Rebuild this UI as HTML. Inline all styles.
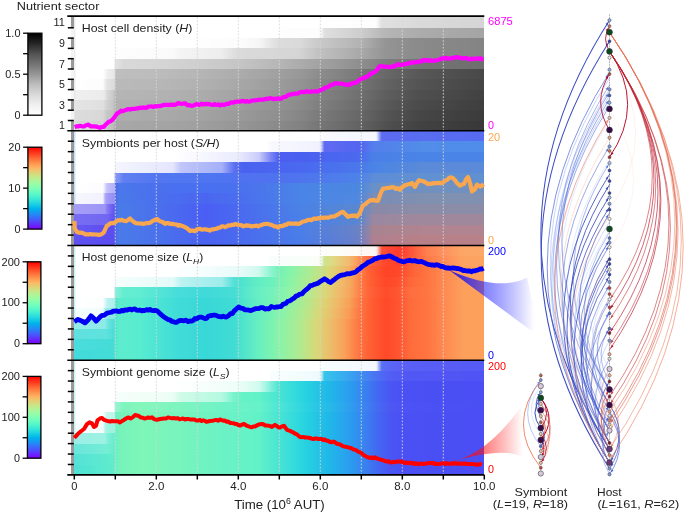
<!DOCTYPE html>
<html><head><meta charset="utf-8"><style>
html,body{margin:0;padding:0;background:#fff;}
svg{display:block;will-change:transform;font-family:"Liberation Sans", sans-serif;}
</style></head><body>
<svg width="685" height="512" viewBox="0 0 685 512">
<defs><linearGradient id="g1" x1="0" x2="1" y1="0" y2="0"><stop offset="0.0000" stop-color="#d7d7d7"/><stop offset="0.0100" stop-color="#d7d7d7"/><stop offset="0.0200" stop-color="#d6d6d6"/><stop offset="0.0300" stop-color="#d5d5d5"/><stop offset="0.0400" stop-color="#d5d5d5"/><stop offset="0.0500" stop-color="#d4d4d4"/><stop offset="0.0600" stop-color="#d3d3d3"/><stop offset="0.0700" stop-color="#d3d3d3"/><stop offset="0.0750" stop-color="#cbcbcb"/><stop offset="0.0800" stop-color="#c4c4c4"/><stop offset="0.0850" stop-color="#c2c2c2"/><stop offset="0.0900" stop-color="#c0c0c0"/><stop offset="0.0950" stop-color="#bebebe"/><stop offset="0.0970" stop-color="#b5b5b5"/><stop offset="0.0980" stop-color="#b1b1b1"/><stop offset="0.0990" stop-color="#acacac"/><stop offset="0.1000" stop-color="#a8a8a8"/><stop offset="0.1100" stop-color="#a8a8a8"/><stop offset="0.1200" stop-color="#a7a7a7"/><stop offset="0.1400" stop-color="#a7a7a7"/><stop offset="0.1500" stop-color="#a6a6a6"/><stop offset="0.1800" stop-color="#a6a6a6"/><stop offset="0.1900" stop-color="#a5a5a5"/><stop offset="0.2000" stop-color="#a5a5a5"/><stop offset="0.2100" stop-color="#a4a4a4"/><stop offset="0.2300" stop-color="#a4a4a4"/><stop offset="0.2400" stop-color="#a3a3a3"/><stop offset="0.2500" stop-color="#a2a2a2"/><stop offset="0.2700" stop-color="#a2a2a2"/><stop offset="0.2800" stop-color="#a1a1a1"/><stop offset="0.2900" stop-color="#a0a0a0"/><stop offset="0.3000" stop-color="#a0a0a0"/><stop offset="0.3100" stop-color="#9f9f9f"/><stop offset="0.3200" stop-color="#9e9e9e"/><stop offset="0.3300" stop-color="#9d9d9d"/><stop offset="0.3350" stop-color="#9c9c9c"/><stop offset="0.3450" stop-color="#9c9c9c"/><stop offset="0.3500" stop-color="#9b9b9b"/><stop offset="0.3550" stop-color="#9a9a9a"/><stop offset="0.3600" stop-color="#9a9a9a"/><stop offset="0.3700" stop-color="#999999"/><stop offset="0.3800" stop-color="#989898"/><stop offset="0.3900" stop-color="#979797"/><stop offset="0.4000" stop-color="#969696"/><stop offset="0.4100" stop-color="#959595"/><stop offset="0.4200" stop-color="#949494"/><stop offset="0.4300" stop-color="#929292"/><stop offset="0.4400" stop-color="#919191"/><stop offset="0.4500" stop-color="#909090"/><stop offset="0.4600" stop-color="#8f8f8f"/><stop offset="0.4700" stop-color="#8e8e8e"/><stop offset="0.4750" stop-color="#8d8d8d"/><stop offset="0.4790" stop-color="#8d8d8d"/><stop offset="0.4800" stop-color="#8c8c8c"/><stop offset="0.4810" stop-color="#8c8c8c"/><stop offset="0.4900" stop-color="#8b8b8b"/><stop offset="0.5000" stop-color="#8a8a8a"/><stop offset="0.5100" stop-color="#888888"/><stop offset="0.5200" stop-color="#878787"/><stop offset="0.5300" stop-color="#858585"/><stop offset="0.5400" stop-color="#848484"/><stop offset="0.5500" stop-color="#828282"/><stop offset="0.5600" stop-color="#808080"/><stop offset="0.5700" stop-color="#7d7d7d"/><stop offset="0.5800" stop-color="#7b7b7b"/><stop offset="0.5900" stop-color="#787878"/><stop offset="0.6000" stop-color="#767676"/><stop offset="0.6050" stop-color="#757575"/><stop offset="0.6090" stop-color="#747474"/><stop offset="0.6110" stop-color="#747474"/><stop offset="0.6200" stop-color="#727272"/><stop offset="0.6300" stop-color="#707070"/><stop offset="0.6400" stop-color="#6e6e6e"/><stop offset="0.6500" stop-color="#6c6c6c"/><stop offset="0.6600" stop-color="#6a6a6a"/><stop offset="0.6700" stop-color="#686868"/><stop offset="0.6800" stop-color="#666666"/><stop offset="0.6900" stop-color="#646464"/><stop offset="0.7000" stop-color="#626262"/><stop offset="0.7100" stop-color="#5f5f5f"/><stop offset="0.7200" stop-color="#5c5c5c"/><stop offset="0.7300" stop-color="#595959"/><stop offset="0.7350" stop-color="#585858"/><stop offset="0.7390" stop-color="#565656"/><stop offset="0.7410" stop-color="#565656"/><stop offset="0.7500" stop-color="#535353"/><stop offset="0.7600" stop-color="#505050"/><stop offset="0.7700" stop-color="#4e4e4e"/><stop offset="0.7800" stop-color="#4c4c4c"/><stop offset="0.7900" stop-color="#4b4b4b"/><stop offset="0.8000" stop-color="#494949"/><stop offset="0.8100" stop-color="#474747"/><stop offset="0.8200" stop-color="#454545"/><stop offset="0.8300" stop-color="#444444"/><stop offset="0.8400" stop-color="#424242"/><stop offset="0.8500" stop-color="#414141"/><stop offset="0.8600" stop-color="#414141"/><stop offset="0.8700" stop-color="#404040"/><stop offset="0.8800" stop-color="#404040"/><stop offset="0.8900" stop-color="#3f3f3f"/><stop offset="0.9000" stop-color="#3e3e3e"/><stop offset="0.9100" stop-color="#3e3e3e"/><stop offset="0.9200" stop-color="#3d3d3d"/><stop offset="0.9300" stop-color="#3c3c3c"/><stop offset="0.9400" stop-color="#3c3c3c"/><stop offset="0.9500" stop-color="#3b3b3b"/><stop offset="0.9600" stop-color="#3a3a3a"/><stop offset="0.9700" stop-color="#3a3a3a"/><stop offset="0.9800" stop-color="#393939"/><stop offset="0.9900" stop-color="#393939"/><stop offset="1.0000" stop-color="#383838"/></linearGradient>
<linearGradient id="g2" x1="0" x2="1" y1="0" y2="0"><stop offset="0.0000" stop-color="#dddddd"/><stop offset="0.0100" stop-color="#dcdcdc"/><stop offset="0.0200" stop-color="#dbdbdb"/><stop offset="0.0300" stop-color="#dadada"/><stop offset="0.0400" stop-color="#dadada"/><stop offset="0.0500" stop-color="#d9d9d9"/><stop offset="0.0600" stop-color="#d8d8d8"/><stop offset="0.0700" stop-color="#d7d7d7"/><stop offset="0.0700" stop-color="#d7d7d7"/><stop offset="0.0750" stop-color="#cfcfcf"/><stop offset="0.0800" stop-color="#c6c6c6"/><stop offset="0.0850" stop-color="#c5c5c5"/><stop offset="0.0900" stop-color="#c3c3c3"/><stop offset="0.0950" stop-color="#c1c1c1"/><stop offset="0.0970" stop-color="#b9b9b9"/><stop offset="0.0980" stop-color="#b5b5b5"/><stop offset="0.0990" stop-color="#b0b0b0"/><stop offset="0.1000" stop-color="#acacac"/><stop offset="0.1300" stop-color="#acacac"/><stop offset="0.1400" stop-color="#ababab"/><stop offset="0.1600" stop-color="#ababab"/><stop offset="0.1700" stop-color="#aaaaaa"/><stop offset="0.2000" stop-color="#aaaaaa"/><stop offset="0.2100" stop-color="#a9a9a9"/><stop offset="0.2200" stop-color="#a9a9a9"/><stop offset="0.2300" stop-color="#a8a8a8"/><stop offset="0.2400" stop-color="#a8a8a8"/><stop offset="0.2500" stop-color="#a7a7a7"/><stop offset="0.2600" stop-color="#a6a6a6"/><stop offset="0.2700" stop-color="#a6a6a6"/><stop offset="0.2800" stop-color="#a5a5a5"/><stop offset="0.2900" stop-color="#a5a5a5"/><stop offset="0.3000" stop-color="#a4a4a4"/><stop offset="0.3100" stop-color="#a3a3a3"/><stop offset="0.3200" stop-color="#a2a2a2"/><stop offset="0.3300" stop-color="#a1a1a1"/><stop offset="0.3350" stop-color="#a1a1a1"/><stop offset="0.3400" stop-color="#a0a0a0"/><stop offset="0.3450" stop-color="#a0a0a0"/><stop offset="0.3500" stop-color="#9f9f9f"/><stop offset="0.3550" stop-color="#9f9f9f"/><stop offset="0.3600" stop-color="#9e9e9e"/><stop offset="0.3700" stop-color="#9d9d9d"/><stop offset="0.3800" stop-color="#9c9c9c"/><stop offset="0.3900" stop-color="#9b9b9b"/><stop offset="0.4000" stop-color="#9a9a9a"/><stop offset="0.4100" stop-color="#999999"/><stop offset="0.4200" stop-color="#989898"/><stop offset="0.4300" stop-color="#979797"/><stop offset="0.4400" stop-color="#969696"/><stop offset="0.4500" stop-color="#949494"/><stop offset="0.4600" stop-color="#939393"/><stop offset="0.4700" stop-color="#929292"/><stop offset="0.4750" stop-color="#919191"/><stop offset="0.4810" stop-color="#919191"/><stop offset="0.4900" stop-color="#909090"/><stop offset="0.5000" stop-color="#8e8e8e"/><stop offset="0.5100" stop-color="#8d8d8d"/><stop offset="0.5200" stop-color="#8b8b8b"/><stop offset="0.5300" stop-color="#8a8a8a"/><stop offset="0.5400" stop-color="#888888"/><stop offset="0.5500" stop-color="#868686"/><stop offset="0.5600" stop-color="#848484"/><stop offset="0.5700" stop-color="#828282"/><stop offset="0.5800" stop-color="#7f7f7f"/><stop offset="0.5900" stop-color="#7d7d7d"/><stop offset="0.6000" stop-color="#7a7a7a"/><stop offset="0.6050" stop-color="#797979"/><stop offset="0.6090" stop-color="#797979"/><stop offset="0.6100" stop-color="#787878"/><stop offset="0.6110" stop-color="#787878"/><stop offset="0.6200" stop-color="#767676"/><stop offset="0.6300" stop-color="#747474"/><stop offset="0.6400" stop-color="#727272"/><stop offset="0.6500" stop-color="#707070"/><stop offset="0.6600" stop-color="#6e6e6e"/><stop offset="0.6700" stop-color="#6c6c6c"/><stop offset="0.6800" stop-color="#6a6a6a"/><stop offset="0.6900" stop-color="#686868"/><stop offset="0.7000" stop-color="#666666"/><stop offset="0.7100" stop-color="#636363"/><stop offset="0.7200" stop-color="#616161"/><stop offset="0.7300" stop-color="#5e5e5e"/><stop offset="0.7350" stop-color="#5c5c5c"/><stop offset="0.7390" stop-color="#5b5b5b"/><stop offset="0.7400" stop-color="#5b5b5b"/><stop offset="0.7410" stop-color="#5a5a5a"/><stop offset="0.7500" stop-color="#585858"/><stop offset="0.7600" stop-color="#555555"/><stop offset="0.7700" stop-color="#535353"/><stop offset="0.7800" stop-color="#515151"/><stop offset="0.7900" stop-color="#4f4f4f"/><stop offset="0.8000" stop-color="#4e4e4e"/><stop offset="0.8100" stop-color="#4c4c4c"/><stop offset="0.8200" stop-color="#4a4a4a"/><stop offset="0.8300" stop-color="#484848"/><stop offset="0.8400" stop-color="#464646"/><stop offset="0.8500" stop-color="#464646"/><stop offset="0.8600" stop-color="#454545"/><stop offset="0.8700" stop-color="#444444"/><stop offset="0.8800" stop-color="#444444"/><stop offset="0.8900" stop-color="#434343"/><stop offset="0.9000" stop-color="#424242"/><stop offset="0.9100" stop-color="#424242"/><stop offset="0.9200" stop-color="#414141"/><stop offset="0.9300" stop-color="#404040"/><stop offset="0.9400" stop-color="#3f3f3f"/><stop offset="0.9500" stop-color="#3f3f3f"/><stop offset="0.9600" stop-color="#3e3e3e"/><stop offset="0.9700" stop-color="#3d3d3d"/><stop offset="0.9800" stop-color="#3d3d3d"/><stop offset="0.9900" stop-color="#3c3c3c"/><stop offset="1.0000" stop-color="#3b3b3b"/></linearGradient>
<linearGradient id="g3" x1="0" x2="1" y1="0" y2="0"><stop offset="0.0000" stop-color="#e4e4e4"/><stop offset="0.0100" stop-color="#e4e4e4"/><stop offset="0.0200" stop-color="#e3e3e3"/><stop offset="0.0300" stop-color="#e2e2e2"/><stop offset="0.0400" stop-color="#e2e2e2"/><stop offset="0.0500" stop-color="#e1e1e1"/><stop offset="0.0600" stop-color="#e0e0e0"/><stop offset="0.0700" stop-color="#e0e0e0"/><stop offset="0.0750" stop-color="#d8d8d8"/><stop offset="0.0800" stop-color="#d0d0d0"/><stop offset="0.0850" stop-color="#cdcdcd"/><stop offset="0.0900" stop-color="#c9c9c9"/><stop offset="0.0950" stop-color="#c5c5c5"/><stop offset="0.0970" stop-color="#bdbdbd"/><stop offset="0.0980" stop-color="#b9b9b9"/><stop offset="0.0990" stop-color="#b5b5b5"/><stop offset="0.1000" stop-color="#b1b1b1"/><stop offset="0.1100" stop-color="#b1b1b1"/><stop offset="0.1200" stop-color="#b0b0b0"/><stop offset="0.1500" stop-color="#b0b0b0"/><stop offset="0.1600" stop-color="#afafaf"/><stop offset="0.1800" stop-color="#afafaf"/><stop offset="0.1900" stop-color="#aeaeae"/><stop offset="0.2100" stop-color="#aeaeae"/><stop offset="0.2200" stop-color="#adadad"/><stop offset="0.2300" stop-color="#adadad"/><stop offset="0.2400" stop-color="#acacac"/><stop offset="0.2500" stop-color="#acacac"/><stop offset="0.2600" stop-color="#ababab"/><stop offset="0.2700" stop-color="#aaaaaa"/><stop offset="0.2800" stop-color="#aaaaaa"/><stop offset="0.2900" stop-color="#a9a9a9"/><stop offset="0.3000" stop-color="#a9a9a9"/><stop offset="0.3100" stop-color="#a8a8a8"/><stop offset="0.3200" stop-color="#a7a7a7"/><stop offset="0.3300" stop-color="#a6a6a6"/><stop offset="0.3350" stop-color="#a5a5a5"/><stop offset="0.3400" stop-color="#a5a5a5"/><stop offset="0.3450" stop-color="#a4a4a4"/><stop offset="0.3500" stop-color="#a4a4a4"/><stop offset="0.3550" stop-color="#a3a3a3"/><stop offset="0.3600" stop-color="#a3a3a3"/><stop offset="0.3700" stop-color="#a2a2a2"/><stop offset="0.3800" stop-color="#a1a1a1"/><stop offset="0.3900" stop-color="#a0a0a0"/><stop offset="0.4000" stop-color="#9f9f9f"/><stop offset="0.4100" stop-color="#9e9e9e"/><stop offset="0.4200" stop-color="#9c9c9c"/><stop offset="0.4300" stop-color="#9b9b9b"/><stop offset="0.4400" stop-color="#9a9a9a"/><stop offset="0.4500" stop-color="#999999"/><stop offset="0.4600" stop-color="#989898"/><stop offset="0.4700" stop-color="#969696"/><stop offset="0.4750" stop-color="#969696"/><stop offset="0.4790" stop-color="#959595"/><stop offset="0.4810" stop-color="#959595"/><stop offset="0.4900" stop-color="#949494"/><stop offset="0.5000" stop-color="#939393"/><stop offset="0.5100" stop-color="#919191"/><stop offset="0.5200" stop-color="#909090"/><stop offset="0.5300" stop-color="#8e8e8e"/><stop offset="0.5400" stop-color="#8c8c8c"/><stop offset="0.5500" stop-color="#8b8b8b"/><stop offset="0.5600" stop-color="#888888"/><stop offset="0.5700" stop-color="#868686"/><stop offset="0.5800" stop-color="#848484"/><stop offset="0.5900" stop-color="#818181"/><stop offset="0.6000" stop-color="#7f7f7f"/><stop offset="0.6050" stop-color="#7e7e7e"/><stop offset="0.6090" stop-color="#7d7d7d"/><stop offset="0.6110" stop-color="#7d7d7d"/><stop offset="0.6200" stop-color="#7b7b7b"/><stop offset="0.6300" stop-color="#797979"/><stop offset="0.6400" stop-color="#777777"/><stop offset="0.6500" stop-color="#757575"/><stop offset="0.6600" stop-color="#737373"/><stop offset="0.6700" stop-color="#717171"/><stop offset="0.6800" stop-color="#6f6f6f"/><stop offset="0.6900" stop-color="#6d6d6d"/><stop offset="0.7000" stop-color="#6b6b6b"/><stop offset="0.7100" stop-color="#686868"/><stop offset="0.7200" stop-color="#656565"/><stop offset="0.7300" stop-color="#626262"/><stop offset="0.7350" stop-color="#616161"/><stop offset="0.7390" stop-color="#606060"/><stop offset="0.7400" stop-color="#5f5f5f"/><stop offset="0.7410" stop-color="#5f5f5f"/><stop offset="0.7500" stop-color="#5c5c5c"/><stop offset="0.7600" stop-color="#5a5a5a"/><stop offset="0.7700" stop-color="#585858"/><stop offset="0.7800" stop-color="#565656"/><stop offset="0.7900" stop-color="#545454"/><stop offset="0.8000" stop-color="#525252"/><stop offset="0.8100" stop-color="#505050"/><stop offset="0.8200" stop-color="#4e4e4e"/><stop offset="0.8300" stop-color="#4d4d4d"/><stop offset="0.8400" stop-color="#4b4b4b"/><stop offset="0.8500" stop-color="#4a4a4a"/><stop offset="0.8600" stop-color="#494949"/><stop offset="0.8700" stop-color="#484848"/><stop offset="0.8800" stop-color="#484848"/><stop offset="0.8900" stop-color="#474747"/><stop offset="0.9000" stop-color="#464646"/><stop offset="0.9100" stop-color="#454545"/><stop offset="0.9200" stop-color="#454545"/><stop offset="0.9300" stop-color="#444444"/><stop offset="0.9400" stop-color="#434343"/><stop offset="0.9500" stop-color="#424242"/><stop offset="0.9600" stop-color="#414141"/><stop offset="0.9700" stop-color="#414141"/><stop offset="0.9800" stop-color="#404040"/><stop offset="0.9900" stop-color="#3f3f3f"/><stop offset="1.0000" stop-color="#3e3e3e"/></linearGradient>
<linearGradient id="g4" x1="0" x2="1" y1="0" y2="0"><stop offset="0.0000" stop-color="#efefef"/><stop offset="0.0100" stop-color="#efefef"/><stop offset="0.0200" stop-color="#eeeeee"/><stop offset="0.0300" stop-color="#eeeeee"/><stop offset="0.0400" stop-color="#ededed"/><stop offset="0.0500" stop-color="#ededed"/><stop offset="0.0600" stop-color="#ececec"/><stop offset="0.0700" stop-color="#ebebeb"/><stop offset="0.0700" stop-color="#ebebeb"/><stop offset="0.0750" stop-color="#e6e6e6"/><stop offset="0.0800" stop-color="#d8d8d8"/><stop offset="0.0850" stop-color="#d3d3d3"/><stop offset="0.0900" stop-color="#cecece"/><stop offset="0.0950" stop-color="#c9c9c9"/><stop offset="0.0970" stop-color="#c1c1c1"/><stop offset="0.0980" stop-color="#bdbdbd"/><stop offset="0.0990" stop-color="#b9b9b9"/><stop offset="0.1000" stop-color="#b5b5b5"/><stop offset="0.1200" stop-color="#b5b5b5"/><stop offset="0.1300" stop-color="#b4b4b4"/><stop offset="0.1700" stop-color="#b4b4b4"/><stop offset="0.1800" stop-color="#b3b3b3"/><stop offset="0.2000" stop-color="#b3b3b3"/><stop offset="0.2100" stop-color="#b2b2b2"/><stop offset="0.2200" stop-color="#b2b2b2"/><stop offset="0.2300" stop-color="#b1b1b1"/><stop offset="0.2400" stop-color="#b1b1b1"/><stop offset="0.2500" stop-color="#b0b0b0"/><stop offset="0.2600" stop-color="#afafaf"/><stop offset="0.2700" stop-color="#afafaf"/><stop offset="0.2800" stop-color="#aeaeae"/><stop offset="0.2900" stop-color="#aeaeae"/><stop offset="0.3000" stop-color="#adadad"/><stop offset="0.3100" stop-color="#acacac"/><stop offset="0.3200" stop-color="#ababab"/><stop offset="0.3300" stop-color="#aaaaaa"/><stop offset="0.3350" stop-color="#aaaaaa"/><stop offset="0.3400" stop-color="#a9a9a9"/><stop offset="0.3450" stop-color="#a9a9a9"/><stop offset="0.3500" stop-color="#a8a8a8"/><stop offset="0.3550" stop-color="#a8a8a8"/><stop offset="0.3600" stop-color="#a7a7a7"/><stop offset="0.3700" stop-color="#a6a6a6"/><stop offset="0.3800" stop-color="#a5a5a5"/><stop offset="0.3900" stop-color="#a4a4a4"/><stop offset="0.4000" stop-color="#a3a3a3"/><stop offset="0.4100" stop-color="#a2a2a2"/><stop offset="0.4200" stop-color="#a1a1a1"/><stop offset="0.4300" stop-color="#a0a0a0"/><stop offset="0.4400" stop-color="#9e9e9e"/><stop offset="0.4500" stop-color="#9d9d9d"/><stop offset="0.4600" stop-color="#9c9c9c"/><stop offset="0.4700" stop-color="#9b9b9b"/><stop offset="0.4750" stop-color="#9a9a9a"/><stop offset="0.4800" stop-color="#9a9a9a"/><stop offset="0.4810" stop-color="#999999"/><stop offset="0.4900" stop-color="#989898"/><stop offset="0.5000" stop-color="#979797"/><stop offset="0.5100" stop-color="#969696"/><stop offset="0.5200" stop-color="#949494"/><stop offset="0.5300" stop-color="#929292"/><stop offset="0.5400" stop-color="#919191"/><stop offset="0.5500" stop-color="#8f8f8f"/><stop offset="0.5600" stop-color="#8d8d8d"/><stop offset="0.5700" stop-color="#8a8a8a"/><stop offset="0.5800" stop-color="#888888"/><stop offset="0.5900" stop-color="#868686"/><stop offset="0.6000" stop-color="#838383"/><stop offset="0.6050" stop-color="#828282"/><stop offset="0.6090" stop-color="#818181"/><stop offset="0.6110" stop-color="#818181"/><stop offset="0.6200" stop-color="#7f7f7f"/><stop offset="0.6300" stop-color="#7d7d7d"/><stop offset="0.6400" stop-color="#7b7b7b"/><stop offset="0.6500" stop-color="#797979"/><stop offset="0.6600" stop-color="#777777"/><stop offset="0.6700" stop-color="#757575"/><stop offset="0.6800" stop-color="#737373"/><stop offset="0.6900" stop-color="#717171"/><stop offset="0.7000" stop-color="#6f6f6f"/><stop offset="0.7100" stop-color="#6c6c6c"/><stop offset="0.7200" stop-color="#6a6a6a"/><stop offset="0.7300" stop-color="#676767"/><stop offset="0.7350" stop-color="#656565"/><stop offset="0.7390" stop-color="#646464"/><stop offset="0.7410" stop-color="#646464"/><stop offset="0.7500" stop-color="#616161"/><stop offset="0.7600" stop-color="#5e5e5e"/><stop offset="0.7700" stop-color="#5c5c5c"/><stop offset="0.7800" stop-color="#5b5b5b"/><stop offset="0.7900" stop-color="#595959"/><stop offset="0.8000" stop-color="#575757"/><stop offset="0.8100" stop-color="#555555"/><stop offset="0.8200" stop-color="#535353"/><stop offset="0.8300" stop-color="#515151"/><stop offset="0.8400" stop-color="#4f4f4f"/><stop offset="0.8500" stop-color="#4e4e4e"/><stop offset="0.8600" stop-color="#4e4e4e"/><stop offset="0.8700" stop-color="#4d4d4d"/><stop offset="0.8800" stop-color="#4c4c4c"/><stop offset="0.8900" stop-color="#4b4b4b"/><stop offset="0.9000" stop-color="#4a4a4a"/><stop offset="0.9100" stop-color="#494949"/><stop offset="0.9200" stop-color="#484848"/><stop offset="0.9300" stop-color="#484848"/><stop offset="0.9400" stop-color="#474747"/><stop offset="0.9500" stop-color="#464646"/><stop offset="0.9600" stop-color="#454545"/><stop offset="0.9700" stop-color="#444444"/><stop offset="0.9800" stop-color="#434343"/><stop offset="0.9900" stop-color="#424242"/><stop offset="1.0000" stop-color="#424242"/></linearGradient>
<linearGradient id="g5" x1="0" x2="1" y1="0" y2="0"><stop offset="0.0000" stop-color="#fefefe"/><stop offset="0.0200" stop-color="#fefefe"/><stop offset="0.0300" stop-color="#fdfdfd"/><stop offset="0.0700" stop-color="#fdfdfd"/><stop offset="0.0750" stop-color="#ededed"/><stop offset="0.0800" stop-color="#e3e3e3"/><stop offset="0.0850" stop-color="#e0e0e0"/><stop offset="0.0900" stop-color="#dedede"/><stop offset="0.0950" stop-color="#dcdcdc"/><stop offset="0.0970" stop-color="#d8d8d8"/><stop offset="0.0980" stop-color="#d6d6d6"/><stop offset="0.0990" stop-color="#c8c8c8"/><stop offset="0.1000" stop-color="#bababa"/><stop offset="0.1020" stop-color="#bababa"/><stop offset="0.1100" stop-color="#b9b9b9"/><stop offset="0.1400" stop-color="#b9b9b9"/><stop offset="0.1500" stop-color="#b8b8b8"/><stop offset="0.1900" stop-color="#b8b8b8"/><stop offset="0.2000" stop-color="#b7b7b7"/><stop offset="0.2100" stop-color="#b7b7b7"/><stop offset="0.2200" stop-color="#b6b6b6"/><stop offset="0.2300" stop-color="#b6b6b6"/><stop offset="0.2400" stop-color="#b5b5b5"/><stop offset="0.2500" stop-color="#b4b4b4"/><stop offset="0.2600" stop-color="#b4b4b4"/><stop offset="0.2700" stop-color="#b3b3b3"/><stop offset="0.2800" stop-color="#b3b3b3"/><stop offset="0.2900" stop-color="#b2b2b2"/><stop offset="0.3000" stop-color="#b2b2b2"/><stop offset="0.3100" stop-color="#b1b1b1"/><stop offset="0.3200" stop-color="#b0b0b0"/><stop offset="0.3300" stop-color="#afafaf"/><stop offset="0.3350" stop-color="#aeaeae"/><stop offset="0.3400" stop-color="#aeaeae"/><stop offset="0.3450" stop-color="#adadad"/><stop offset="0.3500" stop-color="#adadad"/><stop offset="0.3550" stop-color="#acacac"/><stop offset="0.3600" stop-color="#acacac"/><stop offset="0.3700" stop-color="#ababab"/><stop offset="0.3800" stop-color="#aaaaaa"/><stop offset="0.3900" stop-color="#a9a9a9"/><stop offset="0.4000" stop-color="#a8a8a8"/><stop offset="0.4100" stop-color="#a6a6a6"/><stop offset="0.4200" stop-color="#a5a5a5"/><stop offset="0.4300" stop-color="#a4a4a4"/><stop offset="0.4400" stop-color="#a3a3a3"/><stop offset="0.4500" stop-color="#a2a2a2"/><stop offset="0.4600" stop-color="#a0a0a0"/><stop offset="0.4700" stop-color="#9f9f9f"/><stop offset="0.4750" stop-color="#9f9f9f"/><stop offset="0.4790" stop-color="#9e9e9e"/><stop offset="0.4810" stop-color="#9e9e9e"/><stop offset="0.4900" stop-color="#9d9d9d"/><stop offset="0.5000" stop-color="#9c9c9c"/><stop offset="0.5100" stop-color="#9a9a9a"/><stop offset="0.5200" stop-color="#989898"/><stop offset="0.5300" stop-color="#979797"/><stop offset="0.5400" stop-color="#959595"/><stop offset="0.5500" stop-color="#949494"/><stop offset="0.5600" stop-color="#919191"/><stop offset="0.5700" stop-color="#8f8f8f"/><stop offset="0.5800" stop-color="#8c8c8c"/><stop offset="0.5900" stop-color="#8a8a8a"/><stop offset="0.6000" stop-color="#888888"/><stop offset="0.6050" stop-color="#878787"/><stop offset="0.6090" stop-color="#868686"/><stop offset="0.6100" stop-color="#868686"/><stop offset="0.6110" stop-color="#858585"/><stop offset="0.6200" stop-color="#848484"/><stop offset="0.6300" stop-color="#828282"/><stop offset="0.6400" stop-color="#808080"/><stop offset="0.6500" stop-color="#7e7e7e"/><stop offset="0.6600" stop-color="#7c7c7c"/><stop offset="0.6700" stop-color="#7a7a7a"/><stop offset="0.6800" stop-color="#787878"/><stop offset="0.6900" stop-color="#767676"/><stop offset="0.7000" stop-color="#747474"/><stop offset="0.7100" stop-color="#717171"/><stop offset="0.7200" stop-color="#6e6e6e"/><stop offset="0.7300" stop-color="#6b6b6b"/><stop offset="0.7350" stop-color="#6a6a6a"/><stop offset="0.7390" stop-color="#696969"/><stop offset="0.7400" stop-color="#696969"/><stop offset="0.7410" stop-color="#686868"/><stop offset="0.7500" stop-color="#666666"/><stop offset="0.7600" stop-color="#636363"/><stop offset="0.7700" stop-color="#616161"/><stop offset="0.7800" stop-color="#5f5f5f"/><stop offset="0.7900" stop-color="#5d5d5d"/><stop offset="0.8000" stop-color="#5b5b5b"/><stop offset="0.8100" stop-color="#595959"/><stop offset="0.8200" stop-color="#575757"/><stop offset="0.8300" stop-color="#565656"/><stop offset="0.8400" stop-color="#545454"/><stop offset="0.8500" stop-color="#535353"/><stop offset="0.8600" stop-color="#525252"/><stop offset="0.8700" stop-color="#515151"/><stop offset="0.8800" stop-color="#505050"/><stop offset="0.8900" stop-color="#4f4f4f"/><stop offset="0.9000" stop-color="#4e4e4e"/><stop offset="0.9100" stop-color="#4d4d4d"/><stop offset="0.9200" stop-color="#4c4c4c"/><stop offset="0.9300" stop-color="#4b4b4b"/><stop offset="0.9400" stop-color="#4a4a4a"/><stop offset="0.9500" stop-color="#494949"/><stop offset="0.9600" stop-color="#484848"/><stop offset="0.9700" stop-color="#484848"/><stop offset="0.9800" stop-color="#474747"/><stop offset="0.9900" stop-color="#464646"/><stop offset="1.0000" stop-color="#454545"/></linearGradient>
<linearGradient id="g6" x1="0" x2="1" y1="0" y2="0"><stop offset="0.0000" stop-color="#ffffff"/><stop offset="0.0700" stop-color="#ffffff"/><stop offset="0.0750" stop-color="#f8f8f8"/><stop offset="0.0800" stop-color="#eeeeee"/><stop offset="0.0850" stop-color="#ececec"/><stop offset="0.0900" stop-color="#eaeaea"/><stop offset="0.0950" stop-color="#e8e8e8"/><stop offset="0.0970" stop-color="#e5e5e5"/><stop offset="0.0980" stop-color="#e4e4e4"/><stop offset="0.0990" stop-color="#d2d2d2"/><stop offset="0.1000" stop-color="#bebebe"/><stop offset="0.1200" stop-color="#bebebe"/><stop offset="0.1300" stop-color="#bdbdbd"/><stop offset="0.1700" stop-color="#bdbdbd"/><stop offset="0.1800" stop-color="#bcbcbc"/><stop offset="0.2000" stop-color="#bcbcbc"/><stop offset="0.2100" stop-color="#bbbbbb"/><stop offset="0.2200" stop-color="#bbbbbb"/><stop offset="0.2300" stop-color="#bababa"/><stop offset="0.2400" stop-color="#bababa"/><stop offset="0.2500" stop-color="#b9b9b9"/><stop offset="0.2600" stop-color="#b8b8b8"/><stop offset="0.2700" stop-color="#b8b8b8"/><stop offset="0.2800" stop-color="#b7b7b7"/><stop offset="0.2900" stop-color="#b7b7b7"/><stop offset="0.3000" stop-color="#b6b6b6"/><stop offset="0.3100" stop-color="#b5b5b5"/><stop offset="0.3200" stop-color="#b4b4b4"/><stop offset="0.3300" stop-color="#b3b3b3"/><stop offset="0.3350" stop-color="#b2b2b2"/><stop offset="0.3450" stop-color="#b2b2b2"/><stop offset="0.3500" stop-color="#b1b1b1"/><stop offset="0.3550" stop-color="#b0b0b0"/><stop offset="0.3600" stop-color="#b0b0b0"/><stop offset="0.3700" stop-color="#afafaf"/><stop offset="0.3800" stop-color="#aeaeae"/><stop offset="0.3900" stop-color="#adadad"/><stop offset="0.4000" stop-color="#acacac"/><stop offset="0.4100" stop-color="#ababab"/><stop offset="0.4200" stop-color="#aaaaaa"/><stop offset="0.4300" stop-color="#a8a8a8"/><stop offset="0.4400" stop-color="#a7a7a7"/><stop offset="0.4500" stop-color="#a6a6a6"/><stop offset="0.4600" stop-color="#a5a5a5"/><stop offset="0.4700" stop-color="#a4a4a4"/><stop offset="0.4750" stop-color="#a3a3a3"/><stop offset="0.4790" stop-color="#a3a3a3"/><stop offset="0.4800" stop-color="#a2a2a2"/><stop offset="0.4810" stop-color="#a2a2a2"/><stop offset="0.4900" stop-color="#a1a1a1"/><stop offset="0.5000" stop-color="#a0a0a0"/><stop offset="0.5100" stop-color="#9e9e9e"/><stop offset="0.5200" stop-color="#9d9d9d"/><stop offset="0.5300" stop-color="#9b9b9b"/><stop offset="0.5400" stop-color="#9a9a9a"/><stop offset="0.5500" stop-color="#989898"/><stop offset="0.5600" stop-color="#969696"/><stop offset="0.5700" stop-color="#939393"/><stop offset="0.5800" stop-color="#919191"/><stop offset="0.5900" stop-color="#8e8e8e"/><stop offset="0.6000" stop-color="#8c8c8c"/><stop offset="0.6050" stop-color="#8b8b8b"/><stop offset="0.6090" stop-color="#8a8a8a"/><stop offset="0.6110" stop-color="#8a8a8a"/><stop offset="0.6200" stop-color="#888888"/><stop offset="0.6300" stop-color="#868686"/><stop offset="0.6400" stop-color="#848484"/><stop offset="0.6500" stop-color="#828282"/><stop offset="0.6600" stop-color="#808080"/><stop offset="0.6700" stop-color="#7e7e7e"/><stop offset="0.6800" stop-color="#7c7c7c"/><stop offset="0.6900" stop-color="#7a7a7a"/><stop offset="0.7000" stop-color="#787878"/><stop offset="0.7100" stop-color="#757575"/><stop offset="0.7200" stop-color="#737373"/><stop offset="0.7300" stop-color="#707070"/><stop offset="0.7350" stop-color="#6f6f6f"/><stop offset="0.7390" stop-color="#6e6e6e"/><stop offset="0.7400" stop-color="#6d6d6d"/><stop offset="0.7410" stop-color="#6d6d6d"/><stop offset="0.7500" stop-color="#6b6b6b"/><stop offset="0.7600" stop-color="#686868"/><stop offset="0.7700" stop-color="#666666"/><stop offset="0.7800" stop-color="#646464"/><stop offset="0.7900" stop-color="#626262"/><stop offset="0.8000" stop-color="#606060"/><stop offset="0.8100" stop-color="#5e5e5e"/><stop offset="0.8200" stop-color="#5c5c5c"/><stop offset="0.8300" stop-color="#5a5a5a"/><stop offset="0.8400" stop-color="#585858"/><stop offset="0.8500" stop-color="#575757"/><stop offset="0.8600" stop-color="#565656"/><stop offset="0.8700" stop-color="#555555"/><stop offset="0.8800" stop-color="#545454"/><stop offset="0.8900" stop-color="#535353"/><stop offset="0.9000" stop-color="#525252"/><stop offset="0.9100" stop-color="#515151"/><stop offset="0.9200" stop-color="#505050"/><stop offset="0.9300" stop-color="#4f4f4f"/><stop offset="0.9400" stop-color="#4e4e4e"/><stop offset="0.9500" stop-color="#4d4d4d"/><stop offset="0.9600" stop-color="#4c4c4c"/><stop offset="0.9700" stop-color="#4b4b4b"/><stop offset="0.9800" stop-color="#4a4a4a"/><stop offset="0.9900" stop-color="#494949"/><stop offset="1.0000" stop-color="#484848"/></linearGradient>
<linearGradient id="g7" x1="0" x2="1" y1="0" y2="0"><stop offset="0.0000" stop-color="#ffffff"/><stop offset="0.0970" stop-color="#ffffff"/><stop offset="0.0980" stop-color="#f6f6f6"/><stop offset="0.0990" stop-color="#ededed"/><stop offset="0.1000" stop-color="#e3e3e3"/><stop offset="0.1010" stop-color="#e2e2e2"/><stop offset="0.1020" stop-color="#e2e2e2"/><stop offset="0.1100" stop-color="#dedede"/><stop offset="0.1200" stop-color="#d8d8d8"/><stop offset="0.1500" stop-color="#d8d8d8"/><stop offset="0.1600" stop-color="#d7d7d7"/><stop offset="0.1800" stop-color="#d7d7d7"/><stop offset="0.1900" stop-color="#d6d6d6"/><stop offset="0.2000" stop-color="#d6d6d6"/><stop offset="0.2100" stop-color="#d5d5d5"/><stop offset="0.2200" stop-color="#d5d5d5"/><stop offset="0.2300" stop-color="#d4d4d4"/><stop offset="0.2400" stop-color="#d3d3d3"/><stop offset="0.2500" stop-color="#d2d2d2"/><stop offset="0.2600" stop-color="#d2d2d2"/><stop offset="0.2700" stop-color="#d1d1d1"/><stop offset="0.2800" stop-color="#d0d0d0"/><stop offset="0.2900" stop-color="#d0d0d0"/><stop offset="0.3000" stop-color="#cfcfcf"/><stop offset="0.3100" stop-color="#cecece"/><stop offset="0.3200" stop-color="#cdcdcd"/><stop offset="0.3300" stop-color="#cccccc"/><stop offset="0.3350" stop-color="#cccccc"/><stop offset="0.3400" stop-color="#cbcbcb"/><stop offset="0.3450" stop-color="#cbcbcb"/><stop offset="0.3500" stop-color="#cacaca"/><stop offset="0.3550" stop-color="#cacaca"/><stop offset="0.3600" stop-color="#c9c9c9"/><stop offset="0.3700" stop-color="#c8c8c8"/><stop offset="0.3800" stop-color="#c7c7c7"/><stop offset="0.3900" stop-color="#c6c6c6"/><stop offset="0.4000" stop-color="#c5c5c5"/><stop offset="0.4100" stop-color="#c4c4c4"/><stop offset="0.4200" stop-color="#c2c2c2"/><stop offset="0.4300" stop-color="#c1c1c1"/><stop offset="0.4400" stop-color="#bfbfbf"/><stop offset="0.4500" stop-color="#bebebe"/><stop offset="0.4600" stop-color="#bcbcbc"/><stop offset="0.4700" stop-color="#bbbbbb"/><stop offset="0.4750" stop-color="#bababa"/><stop offset="0.4790" stop-color="#b9b9b9"/><stop offset="0.4810" stop-color="#b9b9b9"/><stop offset="0.4900" stop-color="#b8b8b8"/><stop offset="0.5000" stop-color="#b6b6b6"/><stop offset="0.5100" stop-color="#b4b4b4"/><stop offset="0.5200" stop-color="#b2b2b2"/><stop offset="0.5300" stop-color="#b0b0b0"/><stop offset="0.5400" stop-color="#aeaeae"/><stop offset="0.5500" stop-color="#acacac"/><stop offset="0.5600" stop-color="#aaaaaa"/><stop offset="0.5700" stop-color="#a8a8a8"/><stop offset="0.5800" stop-color="#a6a6a6"/><stop offset="0.5900" stop-color="#a4a4a4"/><stop offset="0.6000" stop-color="#a2a2a2"/><stop offset="0.6050" stop-color="#a1a1a1"/><stop offset="0.6090" stop-color="#a0a0a0"/><stop offset="0.6110" stop-color="#a0a0a0"/><stop offset="0.6200" stop-color="#9e9e9e"/><stop offset="0.6300" stop-color="#9c9c9c"/><stop offset="0.6400" stop-color="#9a9a9a"/><stop offset="0.6500" stop-color="#989898"/><stop offset="0.6600" stop-color="#969696"/><stop offset="0.6700" stop-color="#949494"/><stop offset="0.6800" stop-color="#929292"/><stop offset="0.6900" stop-color="#909090"/><stop offset="0.7000" stop-color="#8e8e8e"/><stop offset="0.7100" stop-color="#8b8b8b"/><stop offset="0.7200" stop-color="#898989"/><stop offset="0.7300" stop-color="#868686"/><stop offset="0.7350" stop-color="#858585"/><stop offset="0.7390" stop-color="#848484"/><stop offset="0.7410" stop-color="#848484"/><stop offset="0.7500" stop-color="#818181"/><stop offset="0.7600" stop-color="#7f7f7f"/><stop offset="0.7700" stop-color="#7d7d7d"/><stop offset="0.7800" stop-color="#7c7c7c"/><stop offset="0.7900" stop-color="#7b7b7b"/><stop offset="0.8000" stop-color="#7a7a7a"/><stop offset="0.8100" stop-color="#787878"/><stop offset="0.8200" stop-color="#777777"/><stop offset="0.8300" stop-color="#767676"/><stop offset="0.8400" stop-color="#747474"/><stop offset="0.8500" stop-color="#747474"/><stop offset="0.8600" stop-color="#737373"/><stop offset="0.8800" stop-color="#737373"/><stop offset="0.8900" stop-color="#727272"/><stop offset="0.9100" stop-color="#727272"/><stop offset="0.9200" stop-color="#717171"/><stop offset="0.9300" stop-color="#717171"/><stop offset="0.9400" stop-color="#707070"/><stop offset="0.9600" stop-color="#707070"/><stop offset="0.9700" stop-color="#6f6f6f"/><stop offset="0.9800" stop-color="#6f6f6f"/><stop offset="0.9900" stop-color="#6e6e6e"/><stop offset="1.0000" stop-color="#6e6e6e"/></linearGradient>
<linearGradient id="g8" x1="0" x2="1" y1="0" y2="0"><stop offset="0.0000" stop-color="#ffffff"/><stop offset="0.0980" stop-color="#ffffff"/><stop offset="0.0990" stop-color="#fefefe"/><stop offset="0.1000" stop-color="#fdfdfd"/><stop offset="0.1300" stop-color="#fdfdfd"/><stop offset="0.1400" stop-color="#fcfcfc"/><stop offset="0.1800" stop-color="#fcfcfc"/><stop offset="0.1900" stop-color="#fbfbfb"/><stop offset="0.2200" stop-color="#fbfbfb"/><stop offset="0.2300" stop-color="#fafafa"/><stop offset="0.2400" stop-color="#fafafa"/><stop offset="0.2500" stop-color="#f7f7f7"/><stop offset="0.2600" stop-color="#f4f4f4"/><stop offset="0.2700" stop-color="#f3f3f3"/><stop offset="0.2800" stop-color="#f3f3f3"/><stop offset="0.2900" stop-color="#f2f2f2"/><stop offset="0.3000" stop-color="#f1f1f1"/><stop offset="0.3100" stop-color="#f1f1f1"/><stop offset="0.3200" stop-color="#f0f0f0"/><stop offset="0.3300" stop-color="#efefef"/><stop offset="0.3400" stop-color="#efefef"/><stop offset="0.3450" stop-color="#eeeeee"/><stop offset="0.3550" stop-color="#eeeeee"/><stop offset="0.3600" stop-color="#ededed"/><stop offset="0.3700" stop-color="#e8e8e8"/><stop offset="0.3800" stop-color="#e3e3e3"/><stop offset="0.3900" stop-color="#dedede"/><stop offset="0.4000" stop-color="#dcdcdc"/><stop offset="0.4100" stop-color="#dadada"/><stop offset="0.4200" stop-color="#d9d9d9"/><stop offset="0.4400" stop-color="#d9d9d9"/><stop offset="0.4500" stop-color="#d8d8d8"/><stop offset="0.4810" stop-color="#d8d8d8"/><stop offset="0.4900" stop-color="#d7d7d7"/><stop offset="0.5000" stop-color="#d7d7d7"/><stop offset="0.5100" stop-color="#d6d6d6"/><stop offset="0.5200" stop-color="#d6d6d6"/><stop offset="0.5300" stop-color="#d5d5d5"/><stop offset="0.5400" stop-color="#d5d5d5"/><stop offset="0.5500" stop-color="#d4d4d4"/><stop offset="0.5600" stop-color="#d0d0d0"/><stop offset="0.5700" stop-color="#cccccc"/><stop offset="0.5800" stop-color="#c8c8c8"/><stop offset="0.5900" stop-color="#c4c4c4"/><stop offset="0.6000" stop-color="#c0c0c0"/><stop offset="0.6050" stop-color="#bfbfbf"/><stop offset="0.6090" stop-color="#bebebe"/><stop offset="0.6100" stop-color="#bebebe"/><stop offset="0.6110" stop-color="#bdbdbd"/><stop offset="0.6200" stop-color="#bbbbbb"/><stop offset="0.6300" stop-color="#b9b9b9"/><stop offset="0.6400" stop-color="#b6b6b6"/><stop offset="0.6500" stop-color="#b4b4b4"/><stop offset="0.6600" stop-color="#b2b2b2"/><stop offset="0.6700" stop-color="#afafaf"/><stop offset="0.6800" stop-color="#adadad"/><stop offset="0.6900" stop-color="#aaaaaa"/><stop offset="0.7000" stop-color="#a8a8a8"/><stop offset="0.7100" stop-color="#a5a5a5"/><stop offset="0.7200" stop-color="#a1a1a1"/><stop offset="0.7300" stop-color="#9e9e9e"/><stop offset="0.7350" stop-color="#9c9c9c"/><stop offset="0.7390" stop-color="#9b9b9b"/><stop offset="0.7400" stop-color="#9b9b9b"/><stop offset="0.7410" stop-color="#9a9a9a"/><stop offset="0.7500" stop-color="#979797"/><stop offset="0.7600" stop-color="#949494"/><stop offset="0.7700" stop-color="#939393"/><stop offset="0.7800" stop-color="#929292"/><stop offset="0.7900" stop-color="#909090"/><stop offset="0.8000" stop-color="#8f8f8f"/><stop offset="0.8100" stop-color="#8e8e8e"/><stop offset="0.8200" stop-color="#8c8c8c"/><stop offset="0.8300" stop-color="#8b8b8b"/><stop offset="0.8400" stop-color="#8a8a8a"/><stop offset="0.8500" stop-color="#8a8a8a"/><stop offset="0.8600" stop-color="#898989"/><stop offset="0.8700" stop-color="#898989"/><stop offset="0.8800" stop-color="#888888"/><stop offset="0.9000" stop-color="#888888"/><stop offset="0.9100" stop-color="#878787"/><stop offset="0.9300" stop-color="#878787"/><stop offset="0.9400" stop-color="#868686"/><stop offset="0.9600" stop-color="#868686"/><stop offset="0.9700" stop-color="#858585"/><stop offset="0.9800" stop-color="#858585"/><stop offset="0.9900" stop-color="#848484"/><stop offset="1.0000" stop-color="#848484"/></linearGradient>
<linearGradient id="g9" x1="0" x2="1" y1="0" y2="0"><stop offset="0.0000" stop-color="#ffffff"/><stop offset="0.2800" stop-color="#ffffff"/><stop offset="0.2900" stop-color="#fefefe"/><stop offset="0.3300" stop-color="#fefefe"/><stop offset="0.3350" stop-color="#fdfdfd"/><stop offset="0.3700" stop-color="#fdfdfd"/><stop offset="0.3800" stop-color="#fcfcfc"/><stop offset="0.4000" stop-color="#fcfcfc"/><stop offset="0.4100" stop-color="#fbfbfb"/><stop offset="0.4200" stop-color="#fafafa"/><stop offset="0.4300" stop-color="#f8f8f8"/><stop offset="0.4400" stop-color="#f7f7f7"/><stop offset="0.4500" stop-color="#f6f6f6"/><stop offset="0.4600" stop-color="#f1f1f1"/><stop offset="0.4700" stop-color="#ebebeb"/><stop offset="0.4750" stop-color="#e9e9e9"/><stop offset="0.4790" stop-color="#e7e7e7"/><stop offset="0.4800" stop-color="#e6e6e6"/><stop offset="0.4810" stop-color="#e5e5e5"/><stop offset="0.4900" stop-color="#e1e1e1"/><stop offset="0.5000" stop-color="#dcdcdc"/><stop offset="0.5100" stop-color="#dcdcdc"/><stop offset="0.5200" stop-color="#dbdbdb"/><stop offset="0.5300" stop-color="#dbdbdb"/><stop offset="0.5400" stop-color="#dadada"/><stop offset="0.5500" stop-color="#dadada"/><stop offset="0.5600" stop-color="#d6d6d6"/><stop offset="0.5700" stop-color="#d3d3d3"/><stop offset="0.5800" stop-color="#cfcfcf"/><stop offset="0.5900" stop-color="#cccccc"/><stop offset="0.6000" stop-color="#c8c8c8"/><stop offset="0.6050" stop-color="#c7c7c7"/><stop offset="0.6090" stop-color="#c6c6c6"/><stop offset="0.6110" stop-color="#c6c6c6"/><stop offset="0.6200" stop-color="#c4c4c4"/><stop offset="0.6300" stop-color="#c1c1c1"/><stop offset="0.6400" stop-color="#bfbfbf"/><stop offset="0.6500" stop-color="#bdbdbd"/><stop offset="0.6600" stop-color="#bbbbbb"/><stop offset="0.6700" stop-color="#b9b9b9"/><stop offset="0.6800" stop-color="#b6b6b6"/><stop offset="0.6900" stop-color="#b4b4b4"/><stop offset="0.7000" stop-color="#b2b2b2"/><stop offset="0.7100" stop-color="#adadad"/><stop offset="0.7200" stop-color="#a8a8a8"/><stop offset="0.7300" stop-color="#a3a3a3"/><stop offset="0.7350" stop-color="#a0a0a0"/><stop offset="0.7390" stop-color="#9e9e9e"/><stop offset="0.7410" stop-color="#9e9e9e"/><stop offset="0.7500" stop-color="#999999"/><stop offset="0.7600" stop-color="#949494"/><stop offset="0.7700" stop-color="#939393"/><stop offset="0.7800" stop-color="#929292"/><stop offset="0.7900" stop-color="#909090"/><stop offset="0.8000" stop-color="#8f8f8f"/><stop offset="0.8100" stop-color="#8e8e8e"/><stop offset="0.8200" stop-color="#8c8c8c"/><stop offset="0.8300" stop-color="#8b8b8b"/><stop offset="0.8400" stop-color="#8a8a8a"/><stop offset="0.8500" stop-color="#8a8a8a"/><stop offset="0.8600" stop-color="#898989"/><stop offset="0.8700" stop-color="#898989"/><stop offset="0.8800" stop-color="#888888"/><stop offset="0.9000" stop-color="#888888"/><stop offset="0.9100" stop-color="#878787"/><stop offset="0.9300" stop-color="#878787"/><stop offset="0.9400" stop-color="#868686"/><stop offset="0.9600" stop-color="#868686"/><stop offset="0.9700" stop-color="#858585"/><stop offset="0.9800" stop-color="#858585"/><stop offset="0.9900" stop-color="#848484"/><stop offset="1.0000" stop-color="#848484"/></linearGradient>
<linearGradient id="g10" x1="0" x2="1" y1="0" y2="0"><stop offset="0.0000" stop-color="#ffffff"/><stop offset="0.4700" stop-color="#ffffff"/><stop offset="0.4750" stop-color="#fefefe"/><stop offset="0.5100" stop-color="#fefefe"/><stop offset="0.5200" stop-color="#fdfdfd"/><stop offset="0.5900" stop-color="#fdfdfd"/><stop offset="0.6000" stop-color="#fcfcfc"/><stop offset="0.6050" stop-color="#eeeeee"/><stop offset="0.6090" stop-color="#e3e3e3"/><stop offset="0.6100" stop-color="#dfdfdf"/><stop offset="0.6110" stop-color="#dfdfdf"/><stop offset="0.6200" stop-color="#dddddd"/><stop offset="0.6300" stop-color="#dbdbdb"/><stop offset="0.6400" stop-color="#d9d9d9"/><stop offset="0.6500" stop-color="#d7d7d7"/><stop offset="0.6600" stop-color="#d5d5d5"/><stop offset="0.6700" stop-color="#d3d3d3"/><stop offset="0.6800" stop-color="#d1d1d1"/><stop offset="0.6900" stop-color="#cfcfcf"/><stop offset="0.7000" stop-color="#cdcdcd"/><stop offset="0.7100" stop-color="#c9c9c9"/><stop offset="0.7200" stop-color="#c5c5c5"/><stop offset="0.7300" stop-color="#c1c1c1"/><stop offset="0.7350" stop-color="#bfbfbf"/><stop offset="0.7390" stop-color="#bebebe"/><stop offset="0.7400" stop-color="#bdbdbd"/><stop offset="0.7410" stop-color="#bdbdbd"/><stop offset="0.7500" stop-color="#b9b9b9"/><stop offset="0.7600" stop-color="#b6b6b6"/><stop offset="0.7700" stop-color="#b4b4b4"/><stop offset="0.7800" stop-color="#b3b3b3"/><stop offset="0.7900" stop-color="#b2b2b2"/><stop offset="0.8000" stop-color="#b1b1b1"/><stop offset="0.8100" stop-color="#afafaf"/><stop offset="0.8200" stop-color="#aeaeae"/><stop offset="0.8300" stop-color="#adadad"/><stop offset="0.8400" stop-color="#acacac"/><stop offset="0.8500" stop-color="#ababab"/><stop offset="0.8600" stop-color="#ababab"/><stop offset="0.8700" stop-color="#aaaaaa"/><stop offset="0.8800" stop-color="#aaaaaa"/><stop offset="0.8900" stop-color="#a9a9a9"/><stop offset="0.9100" stop-color="#a9a9a9"/><stop offset="0.9200" stop-color="#a8a8a8"/><stop offset="0.9300" stop-color="#a8a8a8"/><stop offset="0.9400" stop-color="#a7a7a7"/><stop offset="0.9500" stop-color="#a7a7a7"/><stop offset="0.9600" stop-color="#a6a6a6"/><stop offset="0.9800" stop-color="#a6a6a6"/><stop offset="0.9900" stop-color="#a5a5a5"/><stop offset="1.0000" stop-color="#a5a5a5"/></linearGradient>
<linearGradient id="g11" x1="0" x2="1" y1="0" y2="0"><stop offset="0.0000" stop-color="#ffffff"/><stop offset="0.6000" stop-color="#ffffff"/><stop offset="0.6050" stop-color="#fefefe"/><stop offset="0.6700" stop-color="#fefefe"/><stop offset="0.6800" stop-color="#fdfdfd"/><stop offset="0.7350" stop-color="#fdfdfd"/><stop offset="0.7390" stop-color="#f9f9f9"/><stop offset="0.7400" stop-color="#f6f6f6"/><stop offset="0.7410" stop-color="#f2f2f2"/><stop offset="0.7500" stop-color="#e0e0e0"/><stop offset="0.7600" stop-color="#dfdfdf"/><stop offset="0.7700" stop-color="#dfdfdf"/><stop offset="0.7800" stop-color="#dedede"/><stop offset="0.7900" stop-color="#dddddd"/><stop offset="0.8000" stop-color="#dcdcdc"/><stop offset="0.8100" stop-color="#dcdcdc"/><stop offset="0.8200" stop-color="#dbdbdb"/><stop offset="0.8300" stop-color="#dadada"/><stop offset="0.8400" stop-color="#d9d9d9"/><stop offset="0.8700" stop-color="#d9d9d9"/><stop offset="0.8800" stop-color="#d8d8d8"/><stop offset="0.9000" stop-color="#d8d8d8"/><stop offset="0.9100" stop-color="#d7d7d7"/><stop offset="0.9400" stop-color="#d7d7d7"/><stop offset="0.9500" stop-color="#d6d6d6"/><stop offset="0.9800" stop-color="#d6d6d6"/><stop offset="0.9900" stop-color="#d5d5d5"/><stop offset="1.0000" stop-color="#d5d5d5"/></linearGradient>
<linearGradient id="g12" x1="0" x2="1" y1="0" y2="0"><stop offset="0.0000" stop-color="#5f51f0"/><stop offset="0.0100" stop-color="#5e51f0"/><stop offset="0.0200" stop-color="#5e50f0"/><stop offset="0.0300" stop-color="#5d50f0"/><stop offset="0.0400" stop-color="#5d4ff0"/><stop offset="0.0500" stop-color="#5c4ff0"/><stop offset="0.0600" stop-color="#5c4ef0"/><stop offset="0.0700" stop-color="#5b4ef0"/><stop offset="0.0700" stop-color="#5b4ef0"/><stop offset="0.0750" stop-color="#5b4df0"/><stop offset="0.0850" stop-color="#5b4df0"/><stop offset="0.0900" stop-color="#5a4df0"/><stop offset="0.0950" stop-color="#5a4cf0"/><stop offset="0.0970" stop-color="#5756ee"/><stop offset="0.0980" stop-color="#555aee"/><stop offset="0.0990" stop-color="#545fed"/><stop offset="0.1000" stop-color="#5264ec"/><stop offset="0.1010" stop-color="#5069eb"/><stop offset="0.1020" stop-color="#4f6eea"/><stop offset="0.1100" stop-color="#4a7be8"/><stop offset="0.1200" stop-color="#4a7ae9"/><stop offset="0.1300" stop-color="#4a79e9"/><stop offset="0.1400" stop-color="#4a78e9"/><stop offset="0.1500" stop-color="#4a77ea"/><stop offset="0.1600" stop-color="#4a76ea"/><stop offset="0.1700" stop-color="#4a75eb"/><stop offset="0.1800" stop-color="#4a74eb"/><stop offset="0.1900" stop-color="#4a73ec"/><stop offset="0.2000" stop-color="#4a72ec"/><stop offset="0.2100" stop-color="#4a71ec"/><stop offset="0.2200" stop-color="#4a6fed"/><stop offset="0.2300" stop-color="#4a6eed"/><stop offset="0.2400" stop-color="#4a6ded"/><stop offset="0.2500" stop-color="#4a6bee"/><stop offset="0.2600" stop-color="#4a6aee"/><stop offset="0.2700" stop-color="#4a69ee"/><stop offset="0.2800" stop-color="#4a67ef"/><stop offset="0.2900" stop-color="#4a66ef"/><stop offset="0.3000" stop-color="#4a65ef"/><stop offset="0.3100" stop-color="#4a63f0"/><stop offset="0.3200" stop-color="#4a62f0"/><stop offset="0.3300" stop-color="#4a63f0"/><stop offset="0.3350" stop-color="#4a64f0"/><stop offset="0.3450" stop-color="#4a64f0"/><stop offset="0.3500" stop-color="#4a65ef"/><stop offset="0.3550" stop-color="#4a66ef"/><stop offset="0.3600" stop-color="#4a66ef"/><stop offset="0.3700" stop-color="#4a67ef"/><stop offset="0.3800" stop-color="#4a68ef"/><stop offset="0.3900" stop-color="#4a69ef"/><stop offset="0.4000" stop-color="#4a6aee"/><stop offset="0.4100" stop-color="#4a6bee"/><stop offset="0.4200" stop-color="#4a6cee"/><stop offset="0.4300" stop-color="#4a6dee"/><stop offset="0.4400" stop-color="#4a6eed"/><stop offset="0.4500" stop-color="#4a70ed"/><stop offset="0.4600" stop-color="#4a71ec"/><stop offset="0.4700" stop-color="#4a72ec"/><stop offset="0.4750" stop-color="#4a73eb"/><stop offset="0.4800" stop-color="#4a73eb"/><stop offset="0.4810" stop-color="#4a74eb"/><stop offset="0.4900" stop-color="#4a75eb"/><stop offset="0.5000" stop-color="#4a76ea"/><stop offset="0.5100" stop-color="#4a77ea"/><stop offset="0.5200" stop-color="#4a78e9"/><stop offset="0.5300" stop-color="#4a7ae9"/><stop offset="0.5400" stop-color="#4a7be8"/><stop offset="0.5500" stop-color="#4a7ce8"/><stop offset="0.5600" stop-color="#4c7ce6"/><stop offset="0.5700" stop-color="#4e7de4"/><stop offset="0.5800" stop-color="#517de1"/><stop offset="0.5900" stop-color="#537ddf"/><stop offset="0.6000" stop-color="#557ddd"/><stop offset="0.6050" stop-color="#567edc"/><stop offset="0.6090" stop-color="#577edb"/><stop offset="0.6110" stop-color="#577edb"/><stop offset="0.6200" stop-color="#597ed9"/><stop offset="0.6300" stop-color="#5c7ed6"/><stop offset="0.6400" stop-color="#5e7ed4"/><stop offset="0.6500" stop-color="#607fd2"/><stop offset="0.6600" stop-color="#627fd0"/><stop offset="0.6700" stop-color="#647fce"/><stop offset="0.6800" stop-color="#6780cb"/><stop offset="0.6900" stop-color="#6980c9"/><stop offset="0.7000" stop-color="#7480c0"/><stop offset="0.7100" stop-color="#8880b0"/><stop offset="0.7200" stop-color="#9c80a0"/><stop offset="0.7300" stop-color="#b08090"/><stop offset="0.7350" stop-color="#b08090"/><stop offset="0.7390" stop-color="#b1808f"/><stop offset="0.7500" stop-color="#b1808f"/><stop offset="0.7600" stop-color="#b2808e"/><stop offset="0.7700" stop-color="#b3808d"/><stop offset="0.7800" stop-color="#b3808d"/><stop offset="0.7900" stop-color="#b4808c"/><stop offset="0.8000" stop-color="#b5808b"/><stop offset="0.8100" stop-color="#b5808b"/><stop offset="0.8200" stop-color="#b6808a"/><stop offset="0.8300" stop-color="#b78089"/><stop offset="0.8400" stop-color="#b78089"/><stop offset="0.8500" stop-color="#b88088"/><stop offset="1.0000" stop-color="#b88088"/></linearGradient>
<linearGradient id="g13" x1="0" x2="1" y1="0" y2="0"><stop offset="0.0000" stop-color="#6659f1"/><stop offset="0.0100" stop-color="#6457f1"/><stop offset="0.0200" stop-color="#6356f1"/><stop offset="0.0300" stop-color="#6255f1"/><stop offset="0.0400" stop-color="#6154f1"/><stop offset="0.0500" stop-color="#6052f1"/><stop offset="0.0600" stop-color="#5f51f0"/><stop offset="0.0700" stop-color="#5d50f0"/><stop offset="0.0700" stop-color="#5d50f0"/><stop offset="0.0750" stop-color="#5d4ff0"/><stop offset="0.0800" stop-color="#5c4ff0"/><stop offset="0.0850" stop-color="#5c4ef0"/><stop offset="0.0900" stop-color="#5b4df0"/><stop offset="0.0950" stop-color="#5b4df0"/><stop offset="0.0970" stop-color="#5756ee"/><stop offset="0.0980" stop-color="#555bee"/><stop offset="0.0990" stop-color="#545fed"/><stop offset="0.1000" stop-color="#5264ec"/><stop offset="0.1010" stop-color="#5069eb"/><stop offset="0.1020" stop-color="#4f6eea"/><stop offset="0.1100" stop-color="#4a7be8"/><stop offset="0.1200" stop-color="#4a7ae9"/><stop offset="0.1300" stop-color="#4a79e9"/><stop offset="0.1400" stop-color="#4a78e9"/><stop offset="0.1500" stop-color="#4a77ea"/><stop offset="0.1600" stop-color="#4a76ea"/><stop offset="0.1700" stop-color="#4a75eb"/><stop offset="0.1800" stop-color="#4a74eb"/><stop offset="0.1900" stop-color="#4a73ec"/><stop offset="0.2000" stop-color="#4a72ec"/><stop offset="0.2100" stop-color="#4a71ec"/><stop offset="0.2200" stop-color="#4a6fed"/><stop offset="0.2300" stop-color="#4a6eed"/><stop offset="0.2400" stop-color="#4a6ded"/><stop offset="0.2500" stop-color="#4a6bee"/><stop offset="0.2600" stop-color="#4a6aee"/><stop offset="0.2700" stop-color="#4a69ee"/><stop offset="0.2800" stop-color="#4a67ef"/><stop offset="0.2900" stop-color="#4a66ef"/><stop offset="0.3000" stop-color="#4a65ef"/><stop offset="0.3100" stop-color="#4a63f0"/><stop offset="0.3200" stop-color="#4a62f0"/><stop offset="0.3300" stop-color="#4a63f0"/><stop offset="0.3350" stop-color="#4a64f0"/><stop offset="0.3450" stop-color="#4a64f0"/><stop offset="0.3500" stop-color="#4a65ef"/><stop offset="0.3550" stop-color="#4a66ef"/><stop offset="0.3600" stop-color="#4a66ef"/><stop offset="0.3700" stop-color="#4a67ef"/><stop offset="0.3800" stop-color="#4a68ef"/><stop offset="0.3900" stop-color="#4a69ef"/><stop offset="0.4000" stop-color="#4a6aee"/><stop offset="0.4100" stop-color="#4a6bee"/><stop offset="0.4200" stop-color="#4a6cee"/><stop offset="0.4300" stop-color="#4a6dee"/><stop offset="0.4400" stop-color="#4a6fed"/><stop offset="0.4500" stop-color="#4a70ed"/><stop offset="0.4600" stop-color="#4a72ec"/><stop offset="0.4700" stop-color="#4a73ec"/><stop offset="0.4750" stop-color="#4a74eb"/><stop offset="0.4810" stop-color="#4a74eb"/><stop offset="0.4900" stop-color="#4a76eb"/><stop offset="0.5000" stop-color="#4a77ea"/><stop offset="0.5100" stop-color="#4a78ea"/><stop offset="0.5200" stop-color="#4a7ae9"/><stop offset="0.5300" stop-color="#4a7be9"/><stop offset="0.5400" stop-color="#4a7de8"/><stop offset="0.5500" stop-color="#4a7ee8"/><stop offset="0.5600" stop-color="#4c7ee6"/><stop offset="0.5700" stop-color="#4e7fe3"/><stop offset="0.5800" stop-color="#517fe1"/><stop offset="0.5900" stop-color="#537fde"/><stop offset="0.6000" stop-color="#557fdc"/><stop offset="0.6050" stop-color="#5680da"/><stop offset="0.6090" stop-color="#5780d9"/><stop offset="0.6110" stop-color="#5780d9"/><stop offset="0.6200" stop-color="#5980d7"/><stop offset="0.6300" stop-color="#5c80d4"/><stop offset="0.6400" stop-color="#5e80d2"/><stop offset="0.6500" stop-color="#6081cf"/><stop offset="0.6600" stop-color="#6281cd"/><stop offset="0.6700" stop-color="#6481ca"/><stop offset="0.6800" stop-color="#6782c8"/><stop offset="0.6900" stop-color="#6982c5"/><stop offset="0.7000" stop-color="#7382bd"/><stop offset="0.7100" stop-color="#8583ae"/><stop offset="0.7200" stop-color="#96839f"/><stop offset="0.7300" stop-color="#a88490"/><stop offset="0.7350" stop-color="#a88490"/><stop offset="0.7390" stop-color="#a98490"/><stop offset="0.7500" stop-color="#a98490"/><stop offset="0.7600" stop-color="#aa8490"/><stop offset="0.7700" stop-color="#ab8490"/><stop offset="0.7800" stop-color="#ab8490"/><stop offset="0.7900" stop-color="#ac8490"/><stop offset="0.8000" stop-color="#ad8490"/><stop offset="0.8100" stop-color="#ad8490"/><stop offset="0.8200" stop-color="#ae8490"/><stop offset="0.8300" stop-color="#af8490"/><stop offset="0.8400" stop-color="#af8490"/><stop offset="0.8500" stop-color="#b08490"/><stop offset="1.0000" stop-color="#b08490"/></linearGradient>
<linearGradient id="g14" x1="0" x2="1" y1="0" y2="0"><stop offset="0.0000" stop-color="#786cf3"/><stop offset="0.0100" stop-color="#776cf3"/><stop offset="0.0200" stop-color="#766bf3"/><stop offset="0.0300" stop-color="#766af3"/><stop offset="0.0400" stop-color="#756af2"/><stop offset="0.0500" stop-color="#7569f2"/><stop offset="0.0600" stop-color="#7468f2"/><stop offset="0.0700" stop-color="#7368f2"/><stop offset="0.0700" stop-color="#7368f2"/><stop offset="0.0750" stop-color="#7367f2"/><stop offset="0.0800" stop-color="#7367f2"/><stop offset="0.0850" stop-color="#6d60f2"/><stop offset="0.0900" stop-color="#6659f1"/><stop offset="0.0950" stop-color="#6053f1"/><stop offset="0.0970" stop-color="#5b59ef"/><stop offset="0.0980" stop-color="#585dee"/><stop offset="0.0990" stop-color="#5560ed"/><stop offset="0.1000" stop-color="#5264ec"/><stop offset="0.1010" stop-color="#5069eb"/><stop offset="0.1020" stop-color="#4f6eea"/><stop offset="0.1100" stop-color="#4a7be8"/><stop offset="0.1200" stop-color="#4a7ae9"/><stop offset="0.1300" stop-color="#4a79e9"/><stop offset="0.1400" stop-color="#4a78e9"/><stop offset="0.1500" stop-color="#4a76ea"/><stop offset="0.1600" stop-color="#4a75ea"/><stop offset="0.1700" stop-color="#4a74eb"/><stop offset="0.1800" stop-color="#4a73eb"/><stop offset="0.1900" stop-color="#4a71ec"/><stop offset="0.2000" stop-color="#4a70ec"/><stop offset="0.2100" stop-color="#4a6eed"/><stop offset="0.2200" stop-color="#4a6dee"/><stop offset="0.2300" stop-color="#4a6bee"/><stop offset="0.2400" stop-color="#4a6aef"/><stop offset="0.2500" stop-color="#4a68f0"/><stop offset="0.2600" stop-color="#4a67f0"/><stop offset="0.2700" stop-color="#4a66f1"/><stop offset="0.2800" stop-color="#4a64f2"/><stop offset="0.2900" stop-color="#4a62f3"/><stop offset="0.3000" stop-color="#4a61f4"/><stop offset="0.3100" stop-color="#4a60f4"/><stop offset="0.3200" stop-color="#4a5ef5"/><stop offset="0.3300" stop-color="#4a5ff4"/><stop offset="0.3350" stop-color="#4a60f4"/><stop offset="0.3400" stop-color="#4a61f4"/><stop offset="0.3450" stop-color="#4a62f3"/><stop offset="0.3500" stop-color="#4a62f3"/><stop offset="0.3550" stop-color="#4a63f3"/><stop offset="0.3600" stop-color="#4a64f2"/><stop offset="0.3700" stop-color="#4a65f2"/><stop offset="0.3800" stop-color="#4a66f1"/><stop offset="0.3900" stop-color="#4a68f0"/><stop offset="0.4000" stop-color="#4a69ef"/><stop offset="0.4100" stop-color="#4a6bef"/><stop offset="0.4200" stop-color="#4a6cee"/><stop offset="0.4300" stop-color="#4a6eee"/><stop offset="0.4400" stop-color="#4a6fed"/><stop offset="0.4500" stop-color="#4a71ed"/><stop offset="0.4600" stop-color="#4a72ec"/><stop offset="0.4700" stop-color="#4a74ec"/><stop offset="0.4750" stop-color="#4a74eb"/><stop offset="0.4790" stop-color="#4a75eb"/><stop offset="0.4810" stop-color="#4a75eb"/><stop offset="0.4900" stop-color="#4a77eb"/><stop offset="0.5000" stop-color="#4a78ea"/><stop offset="0.5100" stop-color="#4a7aea"/><stop offset="0.5200" stop-color="#4a7be9"/><stop offset="0.5300" stop-color="#4a7de9"/><stop offset="0.5400" stop-color="#4a7ee8"/><stop offset="0.5500" stop-color="#4a80e8"/><stop offset="0.5600" stop-color="#4b80e6"/><stop offset="0.5700" stop-color="#4c81e5"/><stop offset="0.5800" stop-color="#4d81e3"/><stop offset="0.5900" stop-color="#4e82e1"/><stop offset="0.6000" stop-color="#5082e0"/><stop offset="0.6050" stop-color="#5082df"/><stop offset="0.6090" stop-color="#5182de"/><stop offset="0.6100" stop-color="#5182de"/><stop offset="0.6110" stop-color="#5183de"/><stop offset="0.6200" stop-color="#5283dc"/><stop offset="0.6300" stop-color="#5383db"/><stop offset="0.6400" stop-color="#5484d9"/><stop offset="0.6500" stop-color="#5584d7"/><stop offset="0.6600" stop-color="#5685d6"/><stop offset="0.6700" stop-color="#5785d4"/><stop offset="0.6800" stop-color="#5885d2"/><stop offset="0.6900" stop-color="#5986d1"/><stop offset="0.7000" stop-color="#6386c9"/><stop offset="0.7100" stop-color="#7587bb"/><stop offset="0.7200" stop-color="#8887ae"/><stop offset="0.7300" stop-color="#9a88a0"/><stop offset="0.7400" stop-color="#9a88a0"/><stop offset="0.7410" stop-color="#9b88a0"/><stop offset="0.7500" stop-color="#9b889f"/><stop offset="0.7600" stop-color="#9c889f"/><stop offset="0.7700" stop-color="#9c889f"/><stop offset="0.7800" stop-color="#9c889e"/><stop offset="0.7900" stop-color="#9d889e"/><stop offset="0.8000" stop-color="#9e889e"/><stop offset="0.8100" stop-color="#9e889d"/><stop offset="0.8200" stop-color="#9e889d"/><stop offset="0.8300" stop-color="#9f889d"/><stop offset="0.8400" stop-color="#a0889c"/><stop offset="1.0000" stop-color="#a0889c"/></linearGradient>
<linearGradient id="g15" x1="0" x2="1" y1="0" y2="0"><stop offset="0.0000" stop-color="#a59ef7"/><stop offset="0.0100" stop-color="#a49cf7"/><stop offset="0.0200" stop-color="#a39bf7"/><stop offset="0.0300" stop-color="#a29af6"/><stop offset="0.0400" stop-color="#a199f6"/><stop offset="0.0500" stop-color="#a098f6"/><stop offset="0.0600" stop-color="#9f97f6"/><stop offset="0.0700" stop-color="#9e95f6"/><stop offset="0.0700" stop-color="#9e95f6"/><stop offset="0.0750" stop-color="#9d95f6"/><stop offset="0.0800" stop-color="#857af4"/><stop offset="0.0850" stop-color="#7b6ff3"/><stop offset="0.0900" stop-color="#7064f2"/><stop offset="0.0950" stop-color="#6659f1"/><stop offset="0.0970" stop-color="#5f5def"/><stop offset="0.0980" stop-color="#5b60ee"/><stop offset="0.0990" stop-color="#5762ed"/><stop offset="0.1000" stop-color="#5365ec"/><stop offset="0.1010" stop-color="#516aeb"/><stop offset="0.1020" stop-color="#4f6eea"/><stop offset="0.1100" stop-color="#4a7be8"/><stop offset="0.1200" stop-color="#4a7ae9"/><stop offset="0.1300" stop-color="#4a79e9"/><stop offset="0.1400" stop-color="#4a78e9"/><stop offset="0.1500" stop-color="#4a76ea"/><stop offset="0.1600" stop-color="#4a75ea"/><stop offset="0.1700" stop-color="#4a74eb"/><stop offset="0.1800" stop-color="#4a73eb"/><stop offset="0.1900" stop-color="#4a71ec"/><stop offset="0.2000" stop-color="#4a70ec"/><stop offset="0.2100" stop-color="#4a6eed"/><stop offset="0.2200" stop-color="#4a6dee"/><stop offset="0.2300" stop-color="#4a6bee"/><stop offset="0.2400" stop-color="#4a6aef"/><stop offset="0.2500" stop-color="#4a68f0"/><stop offset="0.2600" stop-color="#4a67f0"/><stop offset="0.2700" stop-color="#4a66f1"/><stop offset="0.2800" stop-color="#4a64f2"/><stop offset="0.2900" stop-color="#4a62f3"/><stop offset="0.3000" stop-color="#4a61f4"/><stop offset="0.3100" stop-color="#4a60f4"/><stop offset="0.3200" stop-color="#4a5ef5"/><stop offset="0.3300" stop-color="#4a5ff4"/><stop offset="0.3350" stop-color="#4a60f4"/><stop offset="0.3400" stop-color="#4a61f4"/><stop offset="0.3450" stop-color="#4a62f3"/><stop offset="0.3500" stop-color="#4a62f3"/><stop offset="0.3550" stop-color="#4a63f3"/><stop offset="0.3600" stop-color="#4a64f2"/><stop offset="0.3700" stop-color="#4a65f2"/><stop offset="0.3800" stop-color="#4a66f1"/><stop offset="0.3900" stop-color="#4a68f0"/><stop offset="0.4000" stop-color="#4a69ef"/><stop offset="0.4100" stop-color="#4a6bef"/><stop offset="0.4200" stop-color="#4a6cee"/><stop offset="0.4300" stop-color="#4a6eed"/><stop offset="0.4400" stop-color="#4a6fed"/><stop offset="0.4500" stop-color="#4a71ec"/><stop offset="0.4600" stop-color="#4a73ec"/><stop offset="0.4700" stop-color="#4a74eb"/><stop offset="0.4750" stop-color="#4a75eb"/><stop offset="0.4790" stop-color="#4a76ea"/><stop offset="0.4810" stop-color="#4a76ea"/><stop offset="0.4900" stop-color="#4a78ea"/><stop offset="0.5000" stop-color="#4a7ae9"/><stop offset="0.5100" stop-color="#4a7be8"/><stop offset="0.5200" stop-color="#4a7de8"/><stop offset="0.5300" stop-color="#4a7fe7"/><stop offset="0.5400" stop-color="#4a80e7"/><stop offset="0.5500" stop-color="#4a82e6"/><stop offset="0.5600" stop-color="#4b82e4"/><stop offset="0.5700" stop-color="#4c83e3"/><stop offset="0.5800" stop-color="#4d83e1"/><stop offset="0.5900" stop-color="#4e84e0"/><stop offset="0.6000" stop-color="#5084de"/><stop offset="0.6050" stop-color="#5084de"/><stop offset="0.6090" stop-color="#5184dd"/><stop offset="0.6100" stop-color="#5184dd"/><stop offset="0.6110" stop-color="#5185dd"/><stop offset="0.6200" stop-color="#5285db"/><stop offset="0.6300" stop-color="#5385da"/><stop offset="0.6400" stop-color="#5486d8"/><stop offset="0.6500" stop-color="#5586d7"/><stop offset="0.6600" stop-color="#5687d5"/><stop offset="0.6700" stop-color="#5787d4"/><stop offset="0.6800" stop-color="#5887d2"/><stop offset="0.6900" stop-color="#5988d1"/><stop offset="0.7000" stop-color="#6188ca"/><stop offset="0.7100" stop-color="#6f89bf"/><stop offset="0.7200" stop-color="#7c89b3"/><stop offset="0.7300" stop-color="#8a8aa8"/><stop offset="0.7600" stop-color="#8a8aa8"/><stop offset="0.7700" stop-color="#8a8ba8"/><stop offset="0.8100" stop-color="#8a8ba8"/><stop offset="0.8200" stop-color="#8a8ca8"/><stop offset="1.0000" stop-color="#8a8ca8"/></linearGradient>
<linearGradient id="g16" x1="0" x2="1" y1="0" y2="0"><stop offset="0.0000" stop-color="#f7f6fe"/><stop offset="0.0100" stop-color="#f6f6fe"/><stop offset="0.0200" stop-color="#f5f5fe"/><stop offset="0.0300" stop-color="#f5f4fe"/><stop offset="0.0400" stop-color="#f4f3fe"/><stop offset="0.0500" stop-color="#f3f3fe"/><stop offset="0.0600" stop-color="#f3f2fe"/><stop offset="0.0700" stop-color="#f2f1fe"/><stop offset="0.0700" stop-color="#f2f1fe"/><stop offset="0.0750" stop-color="#b1acf8"/><stop offset="0.0800" stop-color="#a19cf6"/><stop offset="0.0850" stop-color="#9d98f6"/><stop offset="0.0900" stop-color="#9a94f6"/><stop offset="0.0950" stop-color="#9690f5"/><stop offset="0.0970" stop-color="#9293f4"/><stop offset="0.0980" stop-color="#9195f4"/><stop offset="0.0990" stop-color="#727cf0"/><stop offset="0.1000" stop-color="#5265ec"/><stop offset="0.1010" stop-color="#5069eb"/><stop offset="0.1020" stop-color="#4f6dea"/><stop offset="0.1100" stop-color="#4a79e8"/><stop offset="0.1200" stop-color="#4a78e9"/><stop offset="0.1300" stop-color="#4a77ea"/><stop offset="0.1400" stop-color="#4a76ea"/><stop offset="0.1500" stop-color="#4a75eb"/><stop offset="0.1600" stop-color="#4a74eb"/><stop offset="0.1700" stop-color="#4a73ec"/><stop offset="0.1800" stop-color="#4a72ed"/><stop offset="0.1900" stop-color="#4a71ed"/><stop offset="0.2000" stop-color="#4a70ee"/><stop offset="0.2100" stop-color="#4a6fee"/><stop offset="0.2200" stop-color="#4a6eee"/><stop offset="0.2300" stop-color="#4a6dee"/><stop offset="0.2400" stop-color="#4a6def"/><stop offset="0.2500" stop-color="#4a6cef"/><stop offset="0.2600" stop-color="#4a6bef"/><stop offset="0.2700" stop-color="#4a6aef"/><stop offset="0.2800" stop-color="#4a69ef"/><stop offset="0.2900" stop-color="#4a68f0"/><stop offset="0.3000" stop-color="#4a68f0"/><stop offset="0.3100" stop-color="#4a67f0"/><stop offset="0.3200" stop-color="#4a66f0"/><stop offset="0.3300" stop-color="#4a67f0"/><stop offset="0.3350" stop-color="#4a68f0"/><stop offset="0.3450" stop-color="#4a68f0"/><stop offset="0.3500" stop-color="#4a69ef"/><stop offset="0.3550" stop-color="#4a6aef"/><stop offset="0.3600" stop-color="#4a6aef"/><stop offset="0.3700" stop-color="#4a6bef"/><stop offset="0.3800" stop-color="#4a6cef"/><stop offset="0.3900" stop-color="#4a6def"/><stop offset="0.4000" stop-color="#4a6eee"/><stop offset="0.4100" stop-color="#4a6fee"/><stop offset="0.4200" stop-color="#4a70ee"/><stop offset="0.4300" stop-color="#4a72ed"/><stop offset="0.4400" stop-color="#4a73ed"/><stop offset="0.4500" stop-color="#4a75ec"/><stop offset="0.4600" stop-color="#4a76ec"/><stop offset="0.4700" stop-color="#4a78eb"/><stop offset="0.4750" stop-color="#4a78eb"/><stop offset="0.4790" stop-color="#4a79ea"/><stop offset="0.4810" stop-color="#4a79ea"/><stop offset="0.4900" stop-color="#4a7bea"/><stop offset="0.5000" stop-color="#4a7ce9"/><stop offset="0.5100" stop-color="#4a7ee8"/><stop offset="0.5200" stop-color="#4a7fe8"/><stop offset="0.5300" stop-color="#4a81e7"/><stop offset="0.5400" stop-color="#4a82e7"/><stop offset="0.5500" stop-color="#4a84e6"/><stop offset="0.5600" stop-color="#4a84e6"/><stop offset="0.5700" stop-color="#4b85e5"/><stop offset="0.5800" stop-color="#4b85e5"/><stop offset="0.5900" stop-color="#4c85e4"/><stop offset="0.6000" stop-color="#4c85e4"/><stop offset="0.6050" stop-color="#4c86e4"/><stop offset="0.6100" stop-color="#4c86e4"/><stop offset="0.6110" stop-color="#4d86e3"/><stop offset="0.6300" stop-color="#4d86e3"/><stop offset="0.6400" stop-color="#4e86e2"/><stop offset="0.6500" stop-color="#4e87e2"/><stop offset="0.6600" stop-color="#4f87e1"/><stop offset="0.6700" stop-color="#4f87e1"/><stop offset="0.6800" stop-color="#4f88e1"/><stop offset="0.6900" stop-color="#5088e0"/><stop offset="0.7000" stop-color="#5689da"/><stop offset="0.7100" stop-color="#628acf"/><stop offset="0.7200" stop-color="#6e8bc3"/><stop offset="0.7300" stop-color="#7a8cb8"/><stop offset="0.7350" stop-color="#7a8cb8"/><stop offset="0.7390" stop-color="#7a8cb7"/><stop offset="0.7400" stop-color="#7a8cb7"/><stop offset="0.7410" stop-color="#7b8cb7"/><stop offset="0.7500" stop-color="#7b8db7"/><stop offset="0.7600" stop-color="#7c8db6"/><stop offset="0.7700" stop-color="#7c8db5"/><stop offset="0.7800" stop-color="#7c8eb5"/><stop offset="0.7900" stop-color="#7d8eb4"/><stop offset="0.8000" stop-color="#7e8eb3"/><stop offset="0.8100" stop-color="#7e8fb3"/><stop offset="0.8200" stop-color="#7e8fb2"/><stop offset="0.8300" stop-color="#7f8fb1"/><stop offset="0.8400" stop-color="#8090b1"/><stop offset="0.8500" stop-color="#8090b0"/><stop offset="1.0000" stop-color="#8090b0"/></linearGradient>
<linearGradient id="g17" x1="0" x2="1" y1="0" y2="0"><stop offset="0.0000" stop-color="#ffffff"/><stop offset="0.0100" stop-color="#ffffff"/><stop offset="0.0200" stop-color="#fefeff"/><stop offset="0.0300" stop-color="#fefeff"/><stop offset="0.0400" stop-color="#fdfdff"/><stop offset="0.0500" stop-color="#fdfdff"/><stop offset="0.0600" stop-color="#fcfcff"/><stop offset="0.0700" stop-color="#fcfcff"/><stop offset="0.0750" stop-color="#e0dffc"/><stop offset="0.0800" stop-color="#c4c0fa"/><stop offset="0.0850" stop-color="#bfbcf9"/><stop offset="0.0900" stop-color="#bbb7f9"/><stop offset="0.0950" stop-color="#b7b3f8"/><stop offset="0.0970" stop-color="#b4b5f8"/><stop offset="0.0980" stop-color="#b3b6f7"/><stop offset="0.0990" stop-color="#838cf2"/><stop offset="0.1000" stop-color="#5264ed"/><stop offset="0.1010" stop-color="#5068ec"/><stop offset="0.1020" stop-color="#4f6cec"/><stop offset="0.1100" stop-color="#4a78ea"/><stop offset="0.1200" stop-color="#4a77eb"/><stop offset="0.1300" stop-color="#4a76eb"/><stop offset="0.1400" stop-color="#4a75eb"/><stop offset="0.1500" stop-color="#4a74ec"/><stop offset="0.1600" stop-color="#4a73ec"/><stop offset="0.1700" stop-color="#4a73ed"/><stop offset="0.1800" stop-color="#4a72ed"/><stop offset="0.1900" stop-color="#4a71ee"/><stop offset="0.2000" stop-color="#4a70ee"/><stop offset="0.2300" stop-color="#4a70ee"/><stop offset="0.2400" stop-color="#4970ef"/><stop offset="0.2800" stop-color="#4970ef"/><stop offset="0.2900" stop-color="#4870f0"/><stop offset="0.3450" stop-color="#4870f0"/><stop offset="0.3500" stop-color="#4971ef"/><stop offset="0.3900" stop-color="#4971ef"/><stop offset="0.4000" stop-color="#4a72ee"/><stop offset="0.4200" stop-color="#4a72ee"/><stop offset="0.4300" stop-color="#4a73ed"/><stop offset="0.4400" stop-color="#4a75ed"/><stop offset="0.4500" stop-color="#4a76ec"/><stop offset="0.4600" stop-color="#4a78ec"/><stop offset="0.4700" stop-color="#4a79eb"/><stop offset="0.4750" stop-color="#4a7aeb"/><stop offset="0.4790" stop-color="#4a7aea"/><stop offset="0.4810" stop-color="#4a7aea"/><stop offset="0.4900" stop-color="#4a7cea"/><stop offset="0.5000" stop-color="#4a7de9"/><stop offset="0.5100" stop-color="#4a7ee8"/><stop offset="0.5200" stop-color="#4a80e8"/><stop offset="0.5300" stop-color="#4a81e7"/><stop offset="0.5400" stop-color="#4a83e7"/><stop offset="0.5500" stop-color="#4a84e6"/><stop offset="0.5600" stop-color="#4a84e6"/><stop offset="0.5700" stop-color="#4a85e5"/><stop offset="0.5800" stop-color="#4a85e5"/><stop offset="0.5900" stop-color="#4a85e4"/><stop offset="0.6000" stop-color="#4a85e4"/><stop offset="0.6050" stop-color="#4a86e4"/><stop offset="0.6100" stop-color="#4a86e4"/><stop offset="0.6110" stop-color="#4a86e3"/><stop offset="0.6300" stop-color="#4a86e3"/><stop offset="0.6400" stop-color="#4a86e2"/><stop offset="0.6500" stop-color="#4a87e2"/><stop offset="0.6600" stop-color="#4a87e1"/><stop offset="0.6700" stop-color="#4a87e1"/><stop offset="0.6800" stop-color="#4a88e1"/><stop offset="0.6900" stop-color="#4a88e0"/><stop offset="0.7000" stop-color="#4f89dd"/><stop offset="0.7100" stop-color="#588bd6"/><stop offset="0.7200" stop-color="#618ecf"/><stop offset="0.7300" stop-color="#6a90c8"/><stop offset="0.7350" stop-color="#6a90c8"/><stop offset="0.7390" stop-color="#6a90c7"/><stop offset="0.7400" stop-color="#6b90c7"/><stop offset="0.7500" stop-color="#6b90c7"/><stop offset="0.7600" stop-color="#6c90c6"/><stop offset="0.7700" stop-color="#6c90c5"/><stop offset="0.7800" stop-color="#6c90c5"/><stop offset="0.7900" stop-color="#6d90c4"/><stop offset="0.8000" stop-color="#6e90c3"/><stop offset="0.8100" stop-color="#6e90c3"/><stop offset="0.8200" stop-color="#6e90c2"/><stop offset="0.8300" stop-color="#6f90c1"/><stop offset="0.8400" stop-color="#7090c1"/><stop offset="0.8500" stop-color="#7090c0"/><stop offset="1.0000" stop-color="#7090c0"/></linearGradient>
<linearGradient id="g18" x1="0" x2="1" y1="0" y2="0"><stop offset="0.0000" stop-color="#ffffff"/><stop offset="0.0970" stop-color="#ffffff"/><stop offset="0.0980" stop-color="#d7dafc"/><stop offset="0.0990" stop-color="#afb7f8"/><stop offset="0.1000" stop-color="#8895f4"/><stop offset="0.1010" stop-color="#8796f4"/><stop offset="0.1020" stop-color="#8596f4"/><stop offset="0.1100" stop-color="#768ff3"/><stop offset="0.1200" stop-color="#607ef1"/><stop offset="0.1300" stop-color="#5e7df1"/><stop offset="0.1400" stop-color="#5c7cf1"/><stop offset="0.1500" stop-color="#5b7bf1"/><stop offset="0.1600" stop-color="#597af1"/><stop offset="0.1700" stop-color="#5779f1"/><stop offset="0.1800" stop-color="#5678f1"/><stop offset="0.1900" stop-color="#5477f1"/><stop offset="0.2000" stop-color="#5277f1"/><stop offset="0.2100" stop-color="#5276f1"/><stop offset="0.2200" stop-color="#5276f1"/><stop offset="0.2300" stop-color="#5176f1"/><stop offset="0.2600" stop-color="#5176f1"/><stop offset="0.2700" stop-color="#5076f1"/><stop offset="0.3000" stop-color="#5076f1"/><stop offset="0.3100" stop-color="#4f76f1"/><stop offset="0.3200" stop-color="#4f76f1"/><stop offset="0.3300" stop-color="#4f75f1"/><stop offset="0.3400" stop-color="#4f75f1"/><stop offset="0.3450" stop-color="#4f74f1"/><stop offset="0.3600" stop-color="#4f74f1"/><stop offset="0.3700" stop-color="#5073f1"/><stop offset="0.3800" stop-color="#5073f1"/><stop offset="0.3900" stop-color="#5072f1"/><stop offset="0.4000" stop-color="#5072f1"/><stop offset="0.4100" stop-color="#5071f1"/><stop offset="0.4200" stop-color="#5071f0"/><stop offset="0.4500" stop-color="#5071f0"/><stop offset="0.4600" stop-color="#5072f0"/><stop offset="0.4700" stop-color="#4f72f0"/><stop offset="0.4810" stop-color="#4f72f0"/><stop offset="0.4900" stop-color="#4f72ef"/><stop offset="0.5000" stop-color="#4f73ef"/><stop offset="0.5400" stop-color="#4f73ef"/><stop offset="0.5500" stop-color="#4f74ee"/><stop offset="0.5600" stop-color="#4f75ee"/><stop offset="0.5700" stop-color="#4e76ee"/><stop offset="0.5800" stop-color="#4e77ed"/><stop offset="0.5900" stop-color="#4e78ed"/><stop offset="0.6000" stop-color="#4e79ec"/><stop offset="0.6050" stop-color="#4e79ec"/><stop offset="0.6090" stop-color="#4e7aec"/><stop offset="0.6110" stop-color="#4e7aec"/><stop offset="0.6200" stop-color="#4e7bec"/><stop offset="0.6300" stop-color="#4e7ceb"/><stop offset="0.6400" stop-color="#4e7deb"/><stop offset="0.6500" stop-color="#4e7eea"/><stop offset="0.6600" stop-color="#4d7fea"/><stop offset="0.6700" stop-color="#4d80e9"/><stop offset="0.6800" stop-color="#4d81e9"/><stop offset="0.6900" stop-color="#4d82e9"/><stop offset="0.7000" stop-color="#4f84e6"/><stop offset="0.7100" stop-color="#5486e2"/><stop offset="0.7200" stop-color="#5889dd"/><stop offset="0.7300" stop-color="#5d8cd9"/><stop offset="0.7350" stop-color="#5d8cd8"/><stop offset="0.7410" stop-color="#5d8cd8"/><stop offset="0.7500" stop-color="#5d8dd7"/><stop offset="0.7600" stop-color="#5e8dd7"/><stop offset="0.7700" stop-color="#5e8ed6"/><stop offset="0.7800" stop-color="#5f8ed5"/><stop offset="0.7900" stop-color="#5f8ed5"/><stop offset="0.8000" stop-color="#5f8fd4"/><stop offset="0.8100" stop-color="#608fd3"/><stop offset="0.8200" stop-color="#6090d2"/><stop offset="0.8300" stop-color="#6190d2"/><stop offset="0.8400" stop-color="#6191d1"/><stop offset="0.8500" stop-color="#6191d0"/><stop offset="0.9200" stop-color="#6191d0"/><stop offset="0.9300" stop-color="#6190d0"/><stop offset="0.9400" stop-color="#6190d0"/><stop offset="0.9500" stop-color="#6090d0"/><stop offset="1.0000" stop-color="#6090d0"/></linearGradient>
<linearGradient id="g19" x1="0" x2="1" y1="0" y2="0"><stop offset="0.0000" stop-color="#ffffff"/><stop offset="0.0980" stop-color="#ffffff"/><stop offset="0.0990" stop-color="#fafaff"/><stop offset="0.1000" stop-color="#f4f5fe"/><stop offset="0.1020" stop-color="#f4f5fe"/><stop offset="0.1100" stop-color="#f3f4fe"/><stop offset="0.1200" stop-color="#f2f3fe"/><stop offset="0.1300" stop-color="#f1f2fe"/><stop offset="0.1400" stop-color="#f0f1fe"/><stop offset="0.1500" stop-color="#eff0fe"/><stop offset="0.1600" stop-color="#eeeffe"/><stop offset="0.1700" stop-color="#ededfd"/><stop offset="0.1800" stop-color="#ececfd"/><stop offset="0.1900" stop-color="#eaebfd"/><stop offset="0.2000" stop-color="#e9eafd"/><stop offset="0.2100" stop-color="#e8e9fd"/><stop offset="0.2200" stop-color="#e7e8fd"/><stop offset="0.2300" stop-color="#e6e7fd"/><stop offset="0.2400" stop-color="#e4e6fd"/><stop offset="0.2500" stop-color="#d3d6fb"/><stop offset="0.2600" stop-color="#c1c6fa"/><stop offset="0.2700" stop-color="#bec4fa"/><stop offset="0.2800" stop-color="#bbc2f9"/><stop offset="0.2900" stop-color="#b8bff9"/><stop offset="0.3000" stop-color="#b5bdf9"/><stop offset="0.3100" stop-color="#b2bbf9"/><stop offset="0.3200" stop-color="#afb9f8"/><stop offset="0.3300" stop-color="#adb7f8"/><stop offset="0.3350" stop-color="#abb6f8"/><stop offset="0.3400" stop-color="#aab4f8"/><stop offset="0.3450" stop-color="#a9b3f8"/><stop offset="0.3500" stop-color="#a7b2f8"/><stop offset="0.3550" stop-color="#a6b1f8"/><stop offset="0.3600" stop-color="#a4b0f8"/><stop offset="0.3700" stop-color="#8c9bf6"/><stop offset="0.3800" stop-color="#7486f4"/><stop offset="0.3900" stop-color="#5c71f2"/><stop offset="0.4000" stop-color="#5369f1"/><stop offset="0.4100" stop-color="#4a62f0"/><stop offset="0.4300" stop-color="#4a62f0"/><stop offset="0.4400" stop-color="#4a63f0"/><stop offset="0.4500" stop-color="#4a63f0"/><stop offset="0.4600" stop-color="#4a64f0"/><stop offset="0.4700" stop-color="#4a64f0"/><stop offset="0.4750" stop-color="#4a65f0"/><stop offset="0.4900" stop-color="#4a65f0"/><stop offset="0.5000" stop-color="#4a66f0"/><stop offset="0.5100" stop-color="#4a66f0"/><stop offset="0.5200" stop-color="#4a67f0"/><stop offset="0.5300" stop-color="#4a67f0"/><stop offset="0.5400" stop-color="#4a68f0"/><stop offset="0.5500" stop-color="#4a68f0"/><stop offset="0.5600" stop-color="#4a69f0"/><stop offset="0.5700" stop-color="#4a6aef"/><stop offset="0.5800" stop-color="#4a6bef"/><stop offset="0.5900" stop-color="#4a6cee"/><stop offset="0.6000" stop-color="#4a6eee"/><stop offset="0.6050" stop-color="#4a6eee"/><stop offset="0.6090" stop-color="#4a6fee"/><stop offset="0.6100" stop-color="#4a6fee"/><stop offset="0.6110" stop-color="#4a6fed"/><stop offset="0.6200" stop-color="#4a70ed"/><stop offset="0.6300" stop-color="#4a71ed"/><stop offset="0.6400" stop-color="#4a72ec"/><stop offset="0.6500" stop-color="#4a73ec"/><stop offset="0.6600" stop-color="#4a74eb"/><stop offset="0.6700" stop-color="#4a75eb"/><stop offset="0.6800" stop-color="#4a76eb"/><stop offset="0.6900" stop-color="#4a77ea"/><stop offset="0.7000" stop-color="#4a7ae9"/><stop offset="0.7100" stop-color="#4a7de8"/><stop offset="0.7200" stop-color="#4a81e7"/><stop offset="0.7300" stop-color="#4a84e6"/><stop offset="0.7350" stop-color="#4b84e5"/><stop offset="0.7390" stop-color="#4b84e5"/><stop offset="0.7400" stop-color="#4b85e5"/><stop offset="0.7410" stop-color="#4b85e5"/><stop offset="0.7500" stop-color="#4d85e4"/><stop offset="0.7600" stop-color="#4e86e2"/><stop offset="0.7700" stop-color="#4f86e1"/><stop offset="0.7800" stop-color="#5186e0"/><stop offset="0.7900" stop-color="#5287df"/><stop offset="0.8000" stop-color="#5388de"/><stop offset="0.8100" stop-color="#5588dd"/><stop offset="0.8200" stop-color="#5688dc"/><stop offset="0.8300" stop-color="#5789da"/><stop offset="0.8400" stop-color="#598ad9"/><stop offset="0.8500" stop-color="#5a8ad8"/><stop offset="1.0000" stop-color="#5a8ad8"/></linearGradient>
<linearGradient id="g20" x1="0" x2="1" y1="0" y2="0"><stop offset="0.0000" stop-color="#ffffff"/><stop offset="0.2400" stop-color="#ffffff"/><stop offset="0.2500" stop-color="#fefeff"/><stop offset="0.2600" stop-color="#fdfdff"/><stop offset="0.2700" stop-color="#fcfcff"/><stop offset="0.2800" stop-color="#fafbff"/><stop offset="0.2900" stop-color="#f9f9fe"/><stop offset="0.3000" stop-color="#f8f8fe"/><stop offset="0.3100" stop-color="#f7f7fe"/><stop offset="0.3200" stop-color="#f5f6fe"/><stop offset="0.3300" stop-color="#f4f4fe"/><stop offset="0.3350" stop-color="#f3f4fe"/><stop offset="0.3400" stop-color="#f2f3fe"/><stop offset="0.3450" stop-color="#f2f2fe"/><stop offset="0.3500" stop-color="#f1f2fe"/><stop offset="0.3550" stop-color="#f0f1fe"/><stop offset="0.3600" stop-color="#f0f0fe"/><stop offset="0.3700" stop-color="#eeeffe"/><stop offset="0.3800" stop-color="#edeefd"/><stop offset="0.3900" stop-color="#ebecfd"/><stop offset="0.4000" stop-color="#eaebfd"/><stop offset="0.4100" stop-color="#e4e5fd"/><stop offset="0.4200" stop-color="#dddffc"/><stop offset="0.4300" stop-color="#d7d9fc"/><stop offset="0.4400" stop-color="#d1d3fb"/><stop offset="0.4500" stop-color="#cacdfa"/><stop offset="0.4600" stop-color="#afb5f8"/><stop offset="0.4700" stop-color="#959df6"/><stop offset="0.4750" stop-color="#8791f5"/><stop offset="0.4790" stop-color="#7c87f4"/><stop offset="0.4800" stop-color="#7a85f4"/><stop offset="0.4810" stop-color="#7783f4"/><stop offset="0.4900" stop-color="#6371f2"/><stop offset="0.5000" stop-color="#4c5df0"/><stop offset="0.5100" stop-color="#4c5ef0"/><stop offset="0.5200" stop-color="#4b5ef0"/><stop offset="0.5300" stop-color="#4b5ff0"/><stop offset="0.5400" stop-color="#4a5ff0"/><stop offset="0.5500" stop-color="#4a60f0"/><stop offset="0.5600" stop-color="#4a61f0"/><stop offset="0.5700" stop-color="#4a61f0"/><stop offset="0.5800" stop-color="#4a62f0"/><stop offset="0.5900" stop-color="#4a63ef"/><stop offset="0.6000" stop-color="#4a63ef"/><stop offset="0.6050" stop-color="#4a64ef"/><stop offset="0.6110" stop-color="#4a64ef"/><stop offset="0.6200" stop-color="#4a65ef"/><stop offset="0.6300" stop-color="#4a66ef"/><stop offset="0.6400" stop-color="#4a66ef"/><stop offset="0.6500" stop-color="#4a67ef"/><stop offset="0.6600" stop-color="#4a68ee"/><stop offset="0.6700" stop-color="#4a68ee"/><stop offset="0.6800" stop-color="#4a69ee"/><stop offset="0.6900" stop-color="#4a6aee"/><stop offset="0.7000" stop-color="#4a6ded"/><stop offset="0.7100" stop-color="#4a73eb"/><stop offset="0.7200" stop-color="#4a7aea"/><stop offset="0.7300" stop-color="#4a80e8"/><stop offset="0.7410" stop-color="#4a80e8"/><stop offset="0.7500" stop-color="#4a81e8"/><stop offset="0.7600" stop-color="#4a81e8"/><stop offset="0.7700" stop-color="#4a81e7"/><stop offset="0.7800" stop-color="#4a82e7"/><stop offset="0.8000" stop-color="#4a82e7"/><stop offset="0.8100" stop-color="#4a83e7"/><stop offset="0.8200" stop-color="#4a83e6"/><stop offset="0.8300" stop-color="#4a83e6"/><stop offset="0.8400" stop-color="#4a84e6"/><stop offset="1.0000" stop-color="#4a84e6"/></linearGradient>
<linearGradient id="g21" x1="0" x2="1" y1="0" y2="0"><stop offset="0.0000" stop-color="#ffffff"/><stop offset="0.4700" stop-color="#ffffff"/><stop offset="0.4750" stop-color="#fcfcff"/><stop offset="0.4790" stop-color="#f9f9fe"/><stop offset="0.4800" stop-color="#f8f8fe"/><stop offset="0.4810" stop-color="#f8f8fe"/><stop offset="0.4900" stop-color="#f7f8fe"/><stop offset="0.5000" stop-color="#f7f7fe"/><stop offset="0.5100" stop-color="#f6f7fe"/><stop offset="0.5200" stop-color="#f6f6fe"/><stop offset="0.5300" stop-color="#f5f6fe"/><stop offset="0.5400" stop-color="#f4f5fe"/><stop offset="0.5500" stop-color="#f4f4fe"/><stop offset="0.5600" stop-color="#f3f4fe"/><stop offset="0.5700" stop-color="#f3f3fe"/><stop offset="0.5800" stop-color="#f2f3fe"/><stop offset="0.5900" stop-color="#f1f2fe"/><stop offset="0.6000" stop-color="#f1f2fe"/><stop offset="0.6050" stop-color="#a8aef8"/><stop offset="0.6090" stop-color="#6e78f3"/><stop offset="0.6100" stop-color="#5f6af2"/><stop offset="0.6110" stop-color="#5f6af1"/><stop offset="0.6200" stop-color="#5e6af1"/><stop offset="0.6300" stop-color="#5d69f1"/><stop offset="0.6400" stop-color="#5b68f1"/><stop offset="0.6500" stop-color="#5a68f1"/><stop offset="0.6600" stop-color="#5867f1"/><stop offset="0.6700" stop-color="#5766f1"/><stop offset="0.6800" stop-color="#5666f1"/><stop offset="0.6900" stop-color="#5465f1"/><stop offset="0.7000" stop-color="#5368f0"/><stop offset="0.7100" stop-color="#536fee"/><stop offset="0.7200" stop-color="#5377ed"/><stop offset="0.7300" stop-color="#537eeb"/><stop offset="0.7350" stop-color="#537feb"/><stop offset="0.7390" stop-color="#5380eb"/><stop offset="0.7410" stop-color="#5380eb"/><stop offset="0.7500" stop-color="#5281eb"/><stop offset="0.7600" stop-color="#5282ea"/><stop offset="0.7700" stop-color="#5283ea"/><stop offset="0.7800" stop-color="#5284ea"/><stop offset="0.7900" stop-color="#5286ea"/><stop offset="0.8000" stop-color="#5287ea"/><stop offset="0.8100" stop-color="#5288ea"/><stop offset="0.8200" stop-color="#5289e9"/><stop offset="0.8300" stop-color="#518ae9"/><stop offset="0.8400" stop-color="#518ce9"/><stop offset="0.8500" stop-color="#518de9"/><stop offset="0.8800" stop-color="#518de9"/><stop offset="0.8900" stop-color="#518ce9"/><stop offset="0.9100" stop-color="#518ce9"/><stop offset="0.9200" stop-color="#508ce9"/><stop offset="0.9900" stop-color="#508ce9"/><stop offset="1.0000" stop-color="#4f8ce9"/></linearGradient>
<linearGradient id="g22" x1="0" x2="1" y1="0" y2="0"><stop offset="0.0000" stop-color="#ffffff"/><stop offset="0.6000" stop-color="#ffffff"/><stop offset="0.6050" stop-color="#fcfcff"/><stop offset="0.6090" stop-color="#f9f9fe"/><stop offset="0.6100" stop-color="#f8f8fe"/><stop offset="0.6200" stop-color="#f8f8fe"/><stop offset="0.6300" stop-color="#f7f8fe"/><stop offset="0.6400" stop-color="#f7f8fe"/><stop offset="0.6500" stop-color="#f7f7fe"/><stop offset="0.6600" stop-color="#f7f7fe"/><stop offset="0.6700" stop-color="#f6f7fe"/><stop offset="0.6800" stop-color="#f6f6fe"/><stop offset="0.6900" stop-color="#f6f6fe"/><stop offset="0.7000" stop-color="#f5f6fe"/><stop offset="0.7200" stop-color="#f5f6fe"/><stop offset="0.7300" stop-color="#f4f5fe"/><stop offset="0.7350" stop-color="#f4f5fe"/><stop offset="0.7390" stop-color="#e1e4fd"/><stop offset="0.7400" stop-color="#ced3fb"/><stop offset="0.7410" stop-color="#bbc1f9"/><stop offset="0.7500" stop-color="#5c6bf1"/><stop offset="0.7600" stop-color="#5c6bf1"/><stop offset="0.7700" stop-color="#5b6cf1"/><stop offset="0.7900" stop-color="#5b6cf1"/><stop offset="0.8000" stop-color="#5a6cf1"/><stop offset="0.8200" stop-color="#5a6cf1"/><stop offset="0.8300" stop-color="#596cf1"/><stop offset="0.8400" stop-color="#596df1"/><stop offset="0.8500" stop-color="#586df1"/><stop offset="0.8700" stop-color="#586df1"/><stop offset="0.8800" stop-color="#586cf1"/><stop offset="0.9300" stop-color="#586cf1"/><stop offset="0.9400" stop-color="#576cf1"/><stop offset="0.9600" stop-color="#576cf1"/><stop offset="0.9700" stop-color="#576bf1"/><stop offset="1.0000" stop-color="#576bf1"/></linearGradient>
<linearGradient id="g23" x1="0" x2="1" y1="0" y2="0"><stop offset="0.0000" stop-color="#43dbdb"/><stop offset="0.0100" stop-color="#43dbdb"/><stop offset="0.0200" stop-color="#43dbda"/><stop offset="0.0300" stop-color="#43dbda"/><stop offset="0.0400" stop-color="#43dbd9"/><stop offset="0.0500" stop-color="#44dcd8"/><stop offset="0.0600" stop-color="#44dcd8"/><stop offset="0.0700" stop-color="#44dcd7"/><stop offset="0.0850" stop-color="#44dcd7"/><stop offset="0.0900" stop-color="#44dcd6"/><stop offset="0.0950" stop-color="#44dcd6"/><stop offset="0.0970" stop-color="#49dfd4"/><stop offset="0.0980" stop-color="#4ce1d3"/><stop offset="0.0990" stop-color="#4ee2d2"/><stop offset="0.1000" stop-color="#51e4d1"/><stop offset="0.1010" stop-color="#54e6d0"/><stop offset="0.1020" stop-color="#56e7cf"/><stop offset="0.1100" stop-color="#5deccc"/><stop offset="0.1200" stop-color="#5ceccd"/><stop offset="0.1300" stop-color="#5becce"/><stop offset="0.1400" stop-color="#5aeccf"/><stop offset="0.1500" stop-color="#59eccf"/><stop offset="0.1600" stop-color="#58ecd0"/><stop offset="0.1700" stop-color="#55ead1"/><stop offset="0.1800" stop-color="#53e8d2"/><stop offset="0.1900" stop-color="#50e7d3"/><stop offset="0.2000" stop-color="#4de5d4"/><stop offset="0.2100" stop-color="#4be3d4"/><stop offset="0.2200" stop-color="#48e1d5"/><stop offset="0.2300" stop-color="#45e0d6"/><stop offset="0.2400" stop-color="#43ded7"/><stop offset="0.2500" stop-color="#40dcd8"/><stop offset="0.2600" stop-color="#3fdbd8"/><stop offset="0.2700" stop-color="#3edbd8"/><stop offset="0.2800" stop-color="#3ddad8"/><stop offset="0.2900" stop-color="#3bdad8"/><stop offset="0.3000" stop-color="#3ad9d8"/><stop offset="0.3100" stop-color="#39d9d8"/><stop offset="0.3200" stop-color="#38d8d8"/><stop offset="0.3300" stop-color="#39d9d7"/><stop offset="0.3350" stop-color="#3ad9d7"/><stop offset="0.3400" stop-color="#3ad9d7"/><stop offset="0.3450" stop-color="#3bd9d7"/><stop offset="0.3500" stop-color="#3bdad6"/><stop offset="0.3550" stop-color="#3cdad6"/><stop offset="0.3600" stop-color="#3ddad6"/><stop offset="0.3700" stop-color="#3edbd5"/><stop offset="0.3800" stop-color="#3fdbd5"/><stop offset="0.3900" stop-color="#40dcd4"/><stop offset="0.4000" stop-color="#47dfd1"/><stop offset="0.4100" stop-color="#4de3cd"/><stop offset="0.4200" stop-color="#54e6ca"/><stop offset="0.4300" stop-color="#5be9c7"/><stop offset="0.4400" stop-color="#61edc3"/><stop offset="0.4500" stop-color="#68f0c0"/><stop offset="0.4600" stop-color="#6ef1bb"/><stop offset="0.4700" stop-color="#75f2b6"/><stop offset="0.4750" stop-color="#78f2b4"/><stop offset="0.4790" stop-color="#7bf2b2"/><stop offset="0.4800" stop-color="#7bf2b2"/><stop offset="0.4810" stop-color="#7cf2b1"/><stop offset="0.4900" stop-color="#82f3ad"/><stop offset="0.5000" stop-color="#88f4a8"/><stop offset="0.5100" stop-color="#90f2a3"/><stop offset="0.5200" stop-color="#98f09e"/><stop offset="0.5300" stop-color="#a0ee9a"/><stop offset="0.5400" stop-color="#a8ec95"/><stop offset="0.5500" stop-color="#b0ea90"/><stop offset="0.5600" stop-color="#bae68a"/><stop offset="0.5700" stop-color="#c4e184"/><stop offset="0.5800" stop-color="#cedc7e"/><stop offset="0.5900" stop-color="#d8d878"/><stop offset="0.6000" stop-color="#ded074"/><stop offset="0.6050" stop-color="#e1cc72"/><stop offset="0.6090" stop-color="#e3c970"/><stop offset="0.6100" stop-color="#e4c870"/><stop offset="0.6110" stop-color="#e5c770"/><stop offset="0.6200" stop-color="#eac06c"/><stop offset="0.6300" stop-color="#f0b868"/><stop offset="0.6400" stop-color="#f3b063"/><stop offset="0.6500" stop-color="#f5a85d"/><stop offset="0.6600" stop-color="#f8a058"/><stop offset="0.6700" stop-color="#fa9351"/><stop offset="0.6800" stop-color="#fd874b"/><stop offset="0.6900" stop-color="#ff7a44"/><stop offset="0.7000" stop-color="#ff713f"/><stop offset="0.7100" stop-color="#ff6939"/><stop offset="0.7200" stop-color="#ff6034"/><stop offset="0.7300" stop-color="#ff5a31"/><stop offset="0.7350" stop-color="#ff5830"/><stop offset="0.7390" stop-color="#ff562e"/><stop offset="0.7400" stop-color="#ff552e"/><stop offset="0.7410" stop-color="#ff542e"/><stop offset="0.7500" stop-color="#ff4f2b"/><stop offset="0.7600" stop-color="#ff4a28"/><stop offset="0.7700" stop-color="#ff4d2b"/><stop offset="0.7800" stop-color="#ff512d"/><stop offset="0.7900" stop-color="#ff5430"/><stop offset="0.8000" stop-color="#ff5c34"/><stop offset="0.8100" stop-color="#ff6438"/><stop offset="0.8200" stop-color="#ff6c3c"/><stop offset="0.8300" stop-color="#ff6e3d"/><stop offset="0.8400" stop-color="#ff703e"/><stop offset="0.8500" stop-color="#ff723f"/><stop offset="0.8600" stop-color="#ff7440"/><stop offset="0.8700" stop-color="#ff7944"/><stop offset="0.8800" stop-color="#ff7e48"/><stop offset="0.8900" stop-color="#ff834c"/><stop offset="0.9000" stop-color="#ff8850"/><stop offset="0.9100" stop-color="#fe8d52"/><stop offset="0.9200" stop-color="#fe9255"/><stop offset="0.9300" stop-color="#fd9657"/><stop offset="0.9400" stop-color="#fd9b5a"/><stop offset="0.9500" stop-color="#fca05c"/><stop offset="1.0000" stop-color="#fca05c"/></linearGradient>
<linearGradient id="g24" x1="0" x2="1" y1="0" y2="0"><stop offset="0.0000" stop-color="#4bdddd"/><stop offset="0.0100" stop-color="#4adddc"/><stop offset="0.0200" stop-color="#49dcdb"/><stop offset="0.0300" stop-color="#49dcdb"/><stop offset="0.0400" stop-color="#48dcda"/><stop offset="0.0500" stop-color="#47dcd9"/><stop offset="0.0600" stop-color="#47dcd9"/><stop offset="0.0700" stop-color="#46dcd8"/><stop offset="0.0750" stop-color="#46dcd8"/><stop offset="0.0800" stop-color="#46dcd7"/><stop offset="0.0850" stop-color="#45dcd7"/><stop offset="0.0900" stop-color="#45dcd6"/><stop offset="0.0950" stop-color="#45dcd6"/><stop offset="0.0970" stop-color="#4adfd4"/><stop offset="0.0980" stop-color="#4ce1d3"/><stop offset="0.0990" stop-color="#4fe2d2"/><stop offset="0.1000" stop-color="#51e4d1"/><stop offset="0.1010" stop-color="#54e6d0"/><stop offset="0.1020" stop-color="#56e7cf"/><stop offset="0.1100" stop-color="#5deccc"/><stop offset="0.1200" stop-color="#5ceccd"/><stop offset="0.1300" stop-color="#5becce"/><stop offset="0.1400" stop-color="#5aeccf"/><stop offset="0.1500" stop-color="#59eccf"/><stop offset="0.1600" stop-color="#58ecd0"/><stop offset="0.1700" stop-color="#55ead1"/><stop offset="0.1800" stop-color="#53e8d2"/><stop offset="0.1900" stop-color="#50e7d3"/><stop offset="0.2000" stop-color="#4de5d4"/><stop offset="0.2100" stop-color="#4be3d4"/><stop offset="0.2200" stop-color="#48e1d5"/><stop offset="0.2300" stop-color="#45e0d6"/><stop offset="0.2400" stop-color="#43ded7"/><stop offset="0.2500" stop-color="#40dcd8"/><stop offset="0.2600" stop-color="#3fdbd8"/><stop offset="0.2700" stop-color="#3edbd8"/><stop offset="0.2800" stop-color="#3ddad8"/><stop offset="0.2900" stop-color="#3bdad8"/><stop offset="0.3000" stop-color="#3ad9d8"/><stop offset="0.3100" stop-color="#39d9d8"/><stop offset="0.3200" stop-color="#38d8d8"/><stop offset="0.3300" stop-color="#39d9d7"/><stop offset="0.3350" stop-color="#3ad9d7"/><stop offset="0.3400" stop-color="#3ad9d7"/><stop offset="0.3450" stop-color="#3bd9d7"/><stop offset="0.3500" stop-color="#3bdad6"/><stop offset="0.3550" stop-color="#3cdad6"/><stop offset="0.3600" stop-color="#3ddad6"/><stop offset="0.3700" stop-color="#3edbd5"/><stop offset="0.3800" stop-color="#3fdbd5"/><stop offset="0.3900" stop-color="#40dcd4"/><stop offset="0.4000" stop-color="#47dfd1"/><stop offset="0.4100" stop-color="#4de3cd"/><stop offset="0.4200" stop-color="#54e6ca"/><stop offset="0.4300" stop-color="#5be9c7"/><stop offset="0.4400" stop-color="#61edc3"/><stop offset="0.4500" stop-color="#68f0c0"/><stop offset="0.4600" stop-color="#6ef1bb"/><stop offset="0.4700" stop-color="#75f2b6"/><stop offset="0.4750" stop-color="#78f2b4"/><stop offset="0.4790" stop-color="#7bf2b2"/><stop offset="0.4800" stop-color="#7bf2b2"/><stop offset="0.4810" stop-color="#7cf2b1"/><stop offset="0.4900" stop-color="#82f3ad"/><stop offset="0.5000" stop-color="#88f4a8"/><stop offset="0.5100" stop-color="#90f2a3"/><stop offset="0.5200" stop-color="#98f09e"/><stop offset="0.5300" stop-color="#a0ee9a"/><stop offset="0.5400" stop-color="#a8ec95"/><stop offset="0.5500" stop-color="#b0ea90"/><stop offset="0.5600" stop-color="#bae68a"/><stop offset="0.5700" stop-color="#c4e184"/><stop offset="0.5800" stop-color="#cedc7e"/><stop offset="0.5900" stop-color="#d8d878"/><stop offset="0.6000" stop-color="#ded074"/><stop offset="0.6050" stop-color="#e1cc72"/><stop offset="0.6090" stop-color="#e3c970"/><stop offset="0.6100" stop-color="#e4c870"/><stop offset="0.6110" stop-color="#e5c770"/><stop offset="0.6200" stop-color="#eac06c"/><stop offset="0.6300" stop-color="#f0b868"/><stop offset="0.6400" stop-color="#f3b063"/><stop offset="0.6500" stop-color="#f5a85d"/><stop offset="0.6600" stop-color="#f8a058"/><stop offset="0.6700" stop-color="#fa9351"/><stop offset="0.6800" stop-color="#fd874b"/><stop offset="0.6900" stop-color="#ff7a44"/><stop offset="0.7000" stop-color="#ff713f"/><stop offset="0.7100" stop-color="#ff6939"/><stop offset="0.7200" stop-color="#ff6034"/><stop offset="0.7300" stop-color="#ff5a31"/><stop offset="0.7350" stop-color="#ff5830"/><stop offset="0.7390" stop-color="#ff562e"/><stop offset="0.7400" stop-color="#ff552e"/><stop offset="0.7410" stop-color="#ff542e"/><stop offset="0.7500" stop-color="#ff4f2b"/><stop offset="0.7600" stop-color="#ff4a28"/><stop offset="0.7700" stop-color="#ff4d2b"/><stop offset="0.7800" stop-color="#ff512d"/><stop offset="0.7900" stop-color="#ff5430"/><stop offset="0.8000" stop-color="#ff5c34"/><stop offset="0.8100" stop-color="#ff6438"/><stop offset="0.8200" stop-color="#ff6c3c"/><stop offset="0.8300" stop-color="#ff6e3d"/><stop offset="0.8400" stop-color="#ff703e"/><stop offset="0.8500" stop-color="#ff723f"/><stop offset="0.8600" stop-color="#ff7440"/><stop offset="0.8700" stop-color="#ff7944"/><stop offset="0.8800" stop-color="#ff7e48"/><stop offset="0.8900" stop-color="#ff834c"/><stop offset="0.9000" stop-color="#ff8850"/><stop offset="0.9100" stop-color="#fe8d52"/><stop offset="0.9200" stop-color="#fe9255"/><stop offset="0.9300" stop-color="#fd9657"/><stop offset="0.9400" stop-color="#fd9b5a"/><stop offset="0.9500" stop-color="#fca05c"/><stop offset="1.0000" stop-color="#fca05c"/></linearGradient>
<linearGradient id="g25" x1="0" x2="1" y1="0" y2="0"><stop offset="0.0000" stop-color="#60e1e1"/><stop offset="0.0100" stop-color="#60e1e0"/><stop offset="0.0200" stop-color="#60e1e0"/><stop offset="0.0300" stop-color="#60e1df"/><stop offset="0.0400" stop-color="#5fe1df"/><stop offset="0.0500" stop-color="#5fe1de"/><stop offset="0.0600" stop-color="#5fe1de"/><stop offset="0.0700" stop-color="#5fe1dd"/><stop offset="0.0800" stop-color="#5fe1dd"/><stop offset="0.0850" stop-color="#58e0db"/><stop offset="0.0900" stop-color="#52dfd9"/><stop offset="0.0950" stop-color="#4bddd8"/><stop offset="0.0970" stop-color="#4de0d5"/><stop offset="0.0980" stop-color="#4ee1d4"/><stop offset="0.0990" stop-color="#50e3d2"/><stop offset="0.1000" stop-color="#51e4d1"/><stop offset="0.1010" stop-color="#54e6d0"/><stop offset="0.1020" stop-color="#56e7cf"/><stop offset="0.1100" stop-color="#5deccc"/><stop offset="0.1200" stop-color="#5ceccd"/><stop offset="0.1300" stop-color="#5becce"/><stop offset="0.1400" stop-color="#5aeccf"/><stop offset="0.1500" stop-color="#59eccf"/><stop offset="0.1600" stop-color="#58ecd0"/><stop offset="0.1700" stop-color="#55ead1"/><stop offset="0.1800" stop-color="#53e8d2"/><stop offset="0.1900" stop-color="#50e7d3"/><stop offset="0.2000" stop-color="#4de5d4"/><stop offset="0.2100" stop-color="#4be3d4"/><stop offset="0.2200" stop-color="#48e1d5"/><stop offset="0.2300" stop-color="#45e0d6"/><stop offset="0.2400" stop-color="#43ded7"/><stop offset="0.2500" stop-color="#40dcd8"/><stop offset="0.2600" stop-color="#3fdbd8"/><stop offset="0.2700" stop-color="#3edbd8"/><stop offset="0.2800" stop-color="#3ddad8"/><stop offset="0.2900" stop-color="#3bdad8"/><stop offset="0.3000" stop-color="#3ad9d8"/><stop offset="0.3100" stop-color="#39d9d8"/><stop offset="0.3200" stop-color="#38d8d8"/><stop offset="0.3300" stop-color="#39d9d7"/><stop offset="0.3350" stop-color="#3ad9d7"/><stop offset="0.3400" stop-color="#3ad9d7"/><stop offset="0.3450" stop-color="#3bd9d7"/><stop offset="0.3500" stop-color="#3bdad6"/><stop offset="0.3550" stop-color="#3cdad6"/><stop offset="0.3600" stop-color="#3ddad6"/><stop offset="0.3700" stop-color="#3edbd5"/><stop offset="0.3800" stop-color="#3fdbd5"/><stop offset="0.3900" stop-color="#40dcd4"/><stop offset="0.4000" stop-color="#47dfd1"/><stop offset="0.4100" stop-color="#4de3cd"/><stop offset="0.4200" stop-color="#54e6ca"/><stop offset="0.4300" stop-color="#5be9c7"/><stop offset="0.4400" stop-color="#61edc3"/><stop offset="0.4500" stop-color="#68f0c0"/><stop offset="0.4600" stop-color="#6ef1bb"/><stop offset="0.4700" stop-color="#75f2b6"/><stop offset="0.4750" stop-color="#78f2b4"/><stop offset="0.4790" stop-color="#7bf2b2"/><stop offset="0.4800" stop-color="#7bf2b2"/><stop offset="0.4810" stop-color="#7cf2b1"/><stop offset="0.4900" stop-color="#82f3ad"/><stop offset="0.5000" stop-color="#88f4a8"/><stop offset="0.5100" stop-color="#90f2a3"/><stop offset="0.5200" stop-color="#98f09e"/><stop offset="0.5300" stop-color="#a0ee9a"/><stop offset="0.5400" stop-color="#a8ec95"/><stop offset="0.5500" stop-color="#b0ea90"/><stop offset="0.5600" stop-color="#bae68a"/><stop offset="0.5700" stop-color="#c4e184"/><stop offset="0.5800" stop-color="#cedc7e"/><stop offset="0.5900" stop-color="#d8d878"/><stop offset="0.6000" stop-color="#ded074"/><stop offset="0.6050" stop-color="#e1cc72"/><stop offset="0.6090" stop-color="#e3c970"/><stop offset="0.6100" stop-color="#e4c870"/><stop offset="0.6110" stop-color="#e5c770"/><stop offset="0.6200" stop-color="#eac06c"/><stop offset="0.6300" stop-color="#f0b868"/><stop offset="0.6400" stop-color="#f3b063"/><stop offset="0.6500" stop-color="#f5a85d"/><stop offset="0.6600" stop-color="#f8a058"/><stop offset="0.6700" stop-color="#fa9351"/><stop offset="0.6800" stop-color="#fd874b"/><stop offset="0.6900" stop-color="#ff7a44"/><stop offset="0.7000" stop-color="#ff713f"/><stop offset="0.7100" stop-color="#ff6939"/><stop offset="0.7200" stop-color="#ff6034"/><stop offset="0.7300" stop-color="#ff5a31"/><stop offset="0.7350" stop-color="#ff5830"/><stop offset="0.7390" stop-color="#ff562e"/><stop offset="0.7400" stop-color="#ff552e"/><stop offset="0.7410" stop-color="#ff542e"/><stop offset="0.7500" stop-color="#ff4f2b"/><stop offset="0.7600" stop-color="#ff4a28"/><stop offset="0.7700" stop-color="#ff4d2b"/><stop offset="0.7800" stop-color="#ff512d"/><stop offset="0.7900" stop-color="#ff5430"/><stop offset="0.8000" stop-color="#ff5c34"/><stop offset="0.8100" stop-color="#ff6438"/><stop offset="0.8200" stop-color="#ff6c3c"/><stop offset="0.8300" stop-color="#ff6e3d"/><stop offset="0.8400" stop-color="#ff703e"/><stop offset="0.8500" stop-color="#ff723f"/><stop offset="0.8600" stop-color="#ff7440"/><stop offset="0.8700" stop-color="#ff7944"/><stop offset="0.8800" stop-color="#ff7e48"/><stop offset="0.8900" stop-color="#ff834c"/><stop offset="0.9000" stop-color="#ff8850"/><stop offset="0.9100" stop-color="#fe8d52"/><stop offset="0.9200" stop-color="#fe9255"/><stop offset="0.9300" stop-color="#fd9657"/><stop offset="0.9400" stop-color="#fd9b5a"/><stop offset="0.9500" stop-color="#fca05c"/><stop offset="1.0000" stop-color="#fca05c"/></linearGradient>
<linearGradient id="g26" x1="0" x2="1" y1="0" y2="0"><stop offset="0.0000" stop-color="#94ebeb"/><stop offset="0.0100" stop-color="#93ebea"/><stop offset="0.0200" stop-color="#93eaea"/><stop offset="0.0300" stop-color="#92eae9"/><stop offset="0.0400" stop-color="#91eae9"/><stop offset="0.0500" stop-color="#90eae8"/><stop offset="0.0600" stop-color="#8feae8"/><stop offset="0.0700" stop-color="#8eeae7"/><stop offset="0.0750" stop-color="#8eeae7"/><stop offset="0.0800" stop-color="#72e5e1"/><stop offset="0.0850" stop-color="#66e2de"/><stop offset="0.0900" stop-color="#5be0db"/><stop offset="0.0950" stop-color="#50ded9"/><stop offset="0.0970" stop-color="#50e0d6"/><stop offset="0.0980" stop-color="#50e2d4"/><stop offset="0.0990" stop-color="#51e3d3"/><stop offset="0.1000" stop-color="#51e4d1"/><stop offset="0.1010" stop-color="#54e6d0"/><stop offset="0.1020" stop-color="#56e7cf"/><stop offset="0.1100" stop-color="#5deccc"/><stop offset="0.1200" stop-color="#5ceccd"/><stop offset="0.1300" stop-color="#5becce"/><stop offset="0.1400" stop-color="#5aeccf"/><stop offset="0.1500" stop-color="#59eccf"/><stop offset="0.1600" stop-color="#58ecd0"/><stop offset="0.1700" stop-color="#55ead1"/><stop offset="0.1800" stop-color="#53e8d2"/><stop offset="0.1900" stop-color="#50e7d3"/><stop offset="0.2000" stop-color="#4de5d4"/><stop offset="0.2100" stop-color="#4be3d4"/><stop offset="0.2200" stop-color="#48e1d5"/><stop offset="0.2300" stop-color="#45e0d6"/><stop offset="0.2400" stop-color="#43ded7"/><stop offset="0.2500" stop-color="#40dcd8"/><stop offset="0.2600" stop-color="#3fdbd8"/><stop offset="0.2700" stop-color="#3edbd8"/><stop offset="0.2800" stop-color="#3ddad8"/><stop offset="0.2900" stop-color="#3bdad8"/><stop offset="0.3000" stop-color="#3ad9d8"/><stop offset="0.3100" stop-color="#39d9d8"/><stop offset="0.3200" stop-color="#38d8d8"/><stop offset="0.3300" stop-color="#39d9d7"/><stop offset="0.3350" stop-color="#3ad9d7"/><stop offset="0.3400" stop-color="#3ad9d7"/><stop offset="0.3450" stop-color="#3bd9d7"/><stop offset="0.3500" stop-color="#3bdad6"/><stop offset="0.3550" stop-color="#3cdad6"/><stop offset="0.3600" stop-color="#3ddad6"/><stop offset="0.3700" stop-color="#3edbd5"/><stop offset="0.3800" stop-color="#3fdbd5"/><stop offset="0.3900" stop-color="#40dcd4"/><stop offset="0.4000" stop-color="#47dfd1"/><stop offset="0.4100" stop-color="#4de3cd"/><stop offset="0.4200" stop-color="#54e6ca"/><stop offset="0.4300" stop-color="#5be9c7"/><stop offset="0.4400" stop-color="#61edc3"/><stop offset="0.4500" stop-color="#68f0c0"/><stop offset="0.4600" stop-color="#6ef1bb"/><stop offset="0.4700" stop-color="#75f2b6"/><stop offset="0.4750" stop-color="#78f2b4"/><stop offset="0.4790" stop-color="#7bf2b2"/><stop offset="0.4800" stop-color="#7bf2b2"/><stop offset="0.4810" stop-color="#7cf2b1"/><stop offset="0.4900" stop-color="#82f3ad"/><stop offset="0.5000" stop-color="#88f4a8"/><stop offset="0.5100" stop-color="#90f2a3"/><stop offset="0.5200" stop-color="#98f09e"/><stop offset="0.5300" stop-color="#a0ee9a"/><stop offset="0.5400" stop-color="#a8ec95"/><stop offset="0.5500" stop-color="#b0ea90"/><stop offset="0.5600" stop-color="#bae68a"/><stop offset="0.5700" stop-color="#c4e184"/><stop offset="0.5800" stop-color="#cedc7e"/><stop offset="0.5900" stop-color="#d8d878"/><stop offset="0.6000" stop-color="#ded074"/><stop offset="0.6050" stop-color="#e1cc72"/><stop offset="0.6090" stop-color="#e3c970"/><stop offset="0.6100" stop-color="#e4c870"/><stop offset="0.6110" stop-color="#e5c770"/><stop offset="0.6200" stop-color="#eac06c"/><stop offset="0.6300" stop-color="#f0b868"/><stop offset="0.6400" stop-color="#f3b063"/><stop offset="0.6500" stop-color="#f5a85d"/><stop offset="0.6600" stop-color="#f8a058"/><stop offset="0.6700" stop-color="#fa9351"/><stop offset="0.6800" stop-color="#fd874b"/><stop offset="0.6900" stop-color="#ff7a44"/><stop offset="0.7000" stop-color="#ff713f"/><stop offset="0.7100" stop-color="#ff6939"/><stop offset="0.7200" stop-color="#ff6034"/><stop offset="0.7300" stop-color="#ff5a31"/><stop offset="0.7350" stop-color="#ff5830"/><stop offset="0.7390" stop-color="#ff562e"/><stop offset="0.7400" stop-color="#ff552e"/><stop offset="0.7410" stop-color="#ff542e"/><stop offset="0.7500" stop-color="#ff4f2b"/><stop offset="0.7600" stop-color="#ff4a28"/><stop offset="0.7700" stop-color="#ff4d2b"/><stop offset="0.7800" stop-color="#ff512d"/><stop offset="0.7900" stop-color="#ff5430"/><stop offset="0.8000" stop-color="#ff5c34"/><stop offset="0.8100" stop-color="#ff6438"/><stop offset="0.8200" stop-color="#ff6c3c"/><stop offset="0.8300" stop-color="#ff6e3d"/><stop offset="0.8400" stop-color="#ff703e"/><stop offset="0.8500" stop-color="#ff723f"/><stop offset="0.8600" stop-color="#ff7440"/><stop offset="0.8700" stop-color="#ff7944"/><stop offset="0.8800" stop-color="#ff7e48"/><stop offset="0.8900" stop-color="#ff834c"/><stop offset="0.9000" stop-color="#ff8850"/><stop offset="0.9100" stop-color="#fe8d52"/><stop offset="0.9200" stop-color="#fe9255"/><stop offset="0.9300" stop-color="#fd9657"/><stop offset="0.9400" stop-color="#fd9b5a"/><stop offset="0.9500" stop-color="#fca05c"/><stop offset="1.0000" stop-color="#fca05c"/></linearGradient>
<linearGradient id="g27" x1="0" x2="1" y1="0" y2="0"><stop offset="0.0000" stop-color="#f5fdfd"/><stop offset="0.0100" stop-color="#f5fdfd"/><stop offset="0.0200" stop-color="#f4fdfd"/><stop offset="0.0300" stop-color="#f3fdfd"/><stop offset="0.0400" stop-color="#f2fdfc"/><stop offset="0.0500" stop-color="#f1fcfc"/><stop offset="0.0600" stop-color="#f1fcfc"/><stop offset="0.0700" stop-color="#f0fcfc"/><stop offset="0.0700" stop-color="#f0fcfc"/><stop offset="0.0750" stop-color="#a6eeec"/><stop offset="0.0800" stop-color="#94ebe8"/><stop offset="0.0850" stop-color="#90eae7"/><stop offset="0.0900" stop-color="#8ce9e6"/><stop offset="0.0950" stop-color="#88e9e5"/><stop offset="0.0970" stop-color="#8aeae3"/><stop offset="0.0980" stop-color="#8bebe2"/><stop offset="0.0990" stop-color="#6de7da"/><stop offset="0.1000" stop-color="#51e4d1"/><stop offset="0.1010" stop-color="#54e6d0"/><stop offset="0.1020" stop-color="#56e7cf"/><stop offset="0.1100" stop-color="#5deccc"/><stop offset="0.1200" stop-color="#5ceccd"/><stop offset="0.1300" stop-color="#5becce"/><stop offset="0.1400" stop-color="#5aeccf"/><stop offset="0.1500" stop-color="#59eccf"/><stop offset="0.1600" stop-color="#58ecd0"/><stop offset="0.1700" stop-color="#55ead1"/><stop offset="0.1800" stop-color="#53e8d2"/><stop offset="0.1900" stop-color="#50e7d3"/><stop offset="0.2000" stop-color="#4de5d4"/><stop offset="0.2100" stop-color="#4be3d4"/><stop offset="0.2200" stop-color="#48e1d5"/><stop offset="0.2300" stop-color="#45e0d6"/><stop offset="0.2400" stop-color="#43ded7"/><stop offset="0.2500" stop-color="#40dcd8"/><stop offset="0.2600" stop-color="#3fdbd8"/><stop offset="0.2700" stop-color="#3edbd8"/><stop offset="0.2800" stop-color="#3ddad8"/><stop offset="0.2900" stop-color="#3bdad8"/><stop offset="0.3000" stop-color="#3ad9d8"/><stop offset="0.3100" stop-color="#39d9d8"/><stop offset="0.3200" stop-color="#38d8d8"/><stop offset="0.3300" stop-color="#39d9d7"/><stop offset="0.3350" stop-color="#3ad9d7"/><stop offset="0.3400" stop-color="#3ad9d7"/><stop offset="0.3450" stop-color="#3bd9d7"/><stop offset="0.3500" stop-color="#3bdad6"/><stop offset="0.3550" stop-color="#3cdad6"/><stop offset="0.3600" stop-color="#3ddad6"/><stop offset="0.3700" stop-color="#3edbd5"/><stop offset="0.3800" stop-color="#3fdbd5"/><stop offset="0.3900" stop-color="#40dcd4"/><stop offset="0.4000" stop-color="#47dfd1"/><stop offset="0.4100" stop-color="#4de3cd"/><stop offset="0.4200" stop-color="#54e6ca"/><stop offset="0.4300" stop-color="#5be9c7"/><stop offset="0.4400" stop-color="#61ecc4"/><stop offset="0.4500" stop-color="#66efc1"/><stop offset="0.4600" stop-color="#6cf1bd"/><stop offset="0.4700" stop-color="#72f1b9"/><stop offset="0.4750" stop-color="#75f2b7"/><stop offset="0.4790" stop-color="#77f2b5"/><stop offset="0.4800" stop-color="#77f2b4"/><stop offset="0.4810" stop-color="#78f2b4"/><stop offset="0.4900" stop-color="#7ef3b0"/><stop offset="0.5000" stop-color="#84f4ab"/><stop offset="0.5100" stop-color="#8bf3a6"/><stop offset="0.5200" stop-color="#93f1a1"/><stop offset="0.5300" stop-color="#9bef9c"/><stop offset="0.5400" stop-color="#a3ed98"/><stop offset="0.5500" stop-color="#abeb93"/><stop offset="0.5600" stop-color="#b4e88e"/><stop offset="0.5700" stop-color="#bee488"/><stop offset="0.5800" stop-color="#c8df82"/><stop offset="0.5900" stop-color="#d2db7c"/><stop offset="0.6000" stop-color="#dad576"/><stop offset="0.6050" stop-color="#ddd174"/><stop offset="0.6090" stop-color="#e0ce73"/><stop offset="0.6100" stop-color="#e0cd72"/><stop offset="0.6110" stop-color="#e1cc72"/><stop offset="0.6200" stop-color="#e6c56e"/><stop offset="0.6300" stop-color="#ecbd6a"/><stop offset="0.6400" stop-color="#f1b566"/><stop offset="0.6500" stop-color="#f4ad61"/><stop offset="0.6600" stop-color="#f6a55b"/><stop offset="0.6700" stop-color="#f99b55"/><stop offset="0.6800" stop-color="#fc8d4e"/><stop offset="0.6900" stop-color="#fe7f46"/><stop offset="0.7000" stop-color="#ff7340"/><stop offset="0.7100" stop-color="#ff6a3a"/><stop offset="0.7200" stop-color="#ff6034"/><stop offset="0.7300" stop-color="#ff5a31"/><stop offset="0.7350" stop-color="#ff5830"/><stop offset="0.7390" stop-color="#ff562e"/><stop offset="0.7400" stop-color="#ff552e"/><stop offset="0.7410" stop-color="#ff542e"/><stop offset="0.7500" stop-color="#ff4f2b"/><stop offset="0.7600" stop-color="#ff4a28"/><stop offset="0.7700" stop-color="#ff4d2b"/><stop offset="0.7800" stop-color="#ff512d"/><stop offset="0.7900" stop-color="#ff5430"/><stop offset="0.8000" stop-color="#ff5c34"/><stop offset="0.8100" stop-color="#ff6438"/><stop offset="0.8200" stop-color="#ff6c3c"/><stop offset="0.8300" stop-color="#ff6e3d"/><stop offset="0.8400" stop-color="#ff703e"/><stop offset="0.8500" stop-color="#ff723f"/><stop offset="0.8600" stop-color="#ff7440"/><stop offset="0.8700" stop-color="#ff7944"/><stop offset="0.8800" stop-color="#ff7e48"/><stop offset="0.8900" stop-color="#ff834c"/><stop offset="0.9000" stop-color="#ff8850"/><stop offset="0.9100" stop-color="#fe8d52"/><stop offset="0.9200" stop-color="#fe9255"/><stop offset="0.9300" stop-color="#fd9657"/><stop offset="0.9400" stop-color="#fd9b5a"/><stop offset="0.9500" stop-color="#fca05c"/><stop offset="1.0000" stop-color="#fca05c"/></linearGradient>
<linearGradient id="g28" x1="0" x2="1" y1="0" y2="0"><stop offset="0.0000" stop-color="#ffffff"/><stop offset="0.0100" stop-color="#feffff"/><stop offset="0.0200" stop-color="#feffff"/><stop offset="0.0300" stop-color="#fdffff"/><stop offset="0.0400" stop-color="#fdffff"/><stop offset="0.0500" stop-color="#fcfffe"/><stop offset="0.0600" stop-color="#fcfefe"/><stop offset="0.0700" stop-color="#fbfefe"/><stop offset="0.0700" stop-color="#fbfefe"/><stop offset="0.0750" stop-color="#dcf8f8"/><stop offset="0.0800" stop-color="#bbf2f0"/><stop offset="0.0850" stop-color="#b7f1ef"/><stop offset="0.0900" stop-color="#b2f1ee"/><stop offset="0.0950" stop-color="#aef0ed"/><stop offset="0.0970" stop-color="#aef1ec"/><stop offset="0.0980" stop-color="#aef1eb"/><stop offset="0.0990" stop-color="#7feade"/><stop offset="0.1000" stop-color="#51e4d1"/><stop offset="0.1010" stop-color="#54e6d0"/><stop offset="0.1020" stop-color="#56e7cf"/><stop offset="0.1100" stop-color="#5deccc"/><stop offset="0.1200" stop-color="#5ceccd"/><stop offset="0.1300" stop-color="#5becce"/><stop offset="0.1400" stop-color="#5aeccf"/><stop offset="0.1500" stop-color="#59eccf"/><stop offset="0.1600" stop-color="#58ecd0"/><stop offset="0.1700" stop-color="#55ead1"/><stop offset="0.1800" stop-color="#53e8d2"/><stop offset="0.1900" stop-color="#50e7d3"/><stop offset="0.2000" stop-color="#4de5d4"/><stop offset="0.2100" stop-color="#4be3d4"/><stop offset="0.2200" stop-color="#48e1d5"/><stop offset="0.2300" stop-color="#45e0d6"/><stop offset="0.2400" stop-color="#43ded7"/><stop offset="0.2500" stop-color="#40dcd8"/><stop offset="0.2600" stop-color="#3fdbd8"/><stop offset="0.2700" stop-color="#3edbd8"/><stop offset="0.2800" stop-color="#3ddad8"/><stop offset="0.2900" stop-color="#3bdad8"/><stop offset="0.3000" stop-color="#3ad9d8"/><stop offset="0.3100" stop-color="#39d9d8"/><stop offset="0.3200" stop-color="#38d8d8"/><stop offset="0.3300" stop-color="#39d9d7"/><stop offset="0.3350" stop-color="#3ad9d7"/><stop offset="0.3400" stop-color="#3ad9d7"/><stop offset="0.3450" stop-color="#3bd9d7"/><stop offset="0.3500" stop-color="#3bdad6"/><stop offset="0.3550" stop-color="#3cdad6"/><stop offset="0.3600" stop-color="#3ddad6"/><stop offset="0.3700" stop-color="#3edbd5"/><stop offset="0.3800" stop-color="#3fdbd5"/><stop offset="0.3900" stop-color="#40dcd4"/><stop offset="0.4000" stop-color="#47dfd1"/><stop offset="0.4100" stop-color="#4de3cd"/><stop offset="0.4200" stop-color="#54e6ca"/><stop offset="0.4300" stop-color="#5be9c7"/><stop offset="0.4400" stop-color="#60ecc4"/><stop offset="0.4500" stop-color="#65eec2"/><stop offset="0.4600" stop-color="#6af0bf"/><stop offset="0.4700" stop-color="#6ff1bb"/><stop offset="0.4750" stop-color="#71f1b9"/><stop offset="0.4790" stop-color="#73f1b8"/><stop offset="0.4800" stop-color="#74f1b7"/><stop offset="0.4810" stop-color="#74f2b7"/><stop offset="0.4900" stop-color="#7af2b3"/><stop offset="0.5000" stop-color="#80f3ae"/><stop offset="0.5100" stop-color="#87f4a9"/><stop offset="0.5200" stop-color="#8ef2a4"/><stop offset="0.5300" stop-color="#96f09f"/><stop offset="0.5400" stop-color="#9eee9b"/><stop offset="0.5500" stop-color="#a6ec96"/><stop offset="0.5600" stop-color="#aeea91"/><stop offset="0.5700" stop-color="#b8e68b"/><stop offset="0.5800" stop-color="#c2e285"/><stop offset="0.5900" stop-color="#ccdd7f"/><stop offset="0.6000" stop-color="#d6d979"/><stop offset="0.6050" stop-color="#dad677"/><stop offset="0.6090" stop-color="#dcd275"/><stop offset="0.6100" stop-color="#ddd275"/><stop offset="0.6110" stop-color="#ddd174"/><stop offset="0.6200" stop-color="#e3ca71"/><stop offset="0.6300" stop-color="#e9c26d"/><stop offset="0.6400" stop-color="#efba69"/><stop offset="0.6500" stop-color="#f2b264"/><stop offset="0.6600" stop-color="#f5aa5e"/><stop offset="0.6700" stop-color="#f7a259"/><stop offset="0.6800" stop-color="#fa9351"/><stop offset="0.6900" stop-color="#fd8349"/><stop offset="0.7000" stop-color="#ff7541"/><stop offset="0.7100" stop-color="#ff6b3b"/><stop offset="0.7200" stop-color="#ff6034"/><stop offset="0.7300" stop-color="#ff5a31"/><stop offset="0.7350" stop-color="#ff5830"/><stop offset="0.7390" stop-color="#ff562e"/><stop offset="0.7400" stop-color="#ff552e"/><stop offset="0.7410" stop-color="#ff542e"/><stop offset="0.7500" stop-color="#ff4f2b"/><stop offset="0.7600" stop-color="#ff4a28"/><stop offset="0.7700" stop-color="#ff4d2b"/><stop offset="0.7800" stop-color="#ff512d"/><stop offset="0.7900" stop-color="#ff5430"/><stop offset="0.8000" stop-color="#ff5c34"/><stop offset="0.8100" stop-color="#ff6438"/><stop offset="0.8200" stop-color="#ff6c3c"/><stop offset="0.8300" stop-color="#ff6e3d"/><stop offset="0.8400" stop-color="#ff703e"/><stop offset="0.8500" stop-color="#ff723f"/><stop offset="0.8600" stop-color="#ff7440"/><stop offset="0.8700" stop-color="#ff7944"/><stop offset="0.8800" stop-color="#ff7e48"/><stop offset="0.8900" stop-color="#ff834c"/><stop offset="0.9000" stop-color="#ff8850"/><stop offset="0.9100" stop-color="#fe8d52"/><stop offset="0.9200" stop-color="#fe9255"/><stop offset="0.9300" stop-color="#fd9657"/><stop offset="0.9400" stop-color="#fd9b5a"/><stop offset="0.9500" stop-color="#fca05c"/><stop offset="1.0000" stop-color="#fca05c"/></linearGradient>
<linearGradient id="g29" x1="0" x2="1" y1="0" y2="0"><stop offset="0.0000" stop-color="#ffffff"/><stop offset="0.0970" stop-color="#ffffff"/><stop offset="0.0980" stop-color="#d5f8f5"/><stop offset="0.0990" stop-color="#adf2ea"/><stop offset="0.1000" stop-color="#85ecdf"/><stop offset="0.1010" stop-color="#85edde"/><stop offset="0.1020" stop-color="#85eedc"/><stop offset="0.1100" stop-color="#7aefd5"/><stop offset="0.1200" stop-color="#64edd0"/><stop offset="0.1300" stop-color="#63edd0"/><stop offset="0.1400" stop-color="#62edd1"/><stop offset="0.1500" stop-color="#61edd2"/><stop offset="0.1600" stop-color="#60edd2"/><stop offset="0.1700" stop-color="#5debd3"/><stop offset="0.1800" stop-color="#5be9d4"/><stop offset="0.1900" stop-color="#58e8d5"/><stop offset="0.2000" stop-color="#55e6d6"/><stop offset="0.2100" stop-color="#53e4d6"/><stop offset="0.2200" stop-color="#50e3d7"/><stop offset="0.2300" stop-color="#4de1d8"/><stop offset="0.2400" stop-color="#4bdfd9"/><stop offset="0.2500" stop-color="#48ddda"/><stop offset="0.2600" stop-color="#47ddda"/><stop offset="0.2700" stop-color="#46dcda"/><stop offset="0.2800" stop-color="#45dcda"/><stop offset="0.2900" stop-color="#43dbda"/><stop offset="0.3000" stop-color="#42dbda"/><stop offset="0.3100" stop-color="#41dada"/><stop offset="0.3200" stop-color="#40dada"/><stop offset="0.3300" stop-color="#41dad9"/><stop offset="0.3350" stop-color="#41dad9"/><stop offset="0.3400" stop-color="#42dbd8"/><stop offset="0.3450" stop-color="#42dbd8"/><stop offset="0.3500" stop-color="#43dbd8"/><stop offset="0.3550" stop-color="#43dbd8"/><stop offset="0.3600" stop-color="#44dcd7"/><stop offset="0.3700" stop-color="#45dcd7"/><stop offset="0.3800" stop-color="#46ddd6"/><stop offset="0.3900" stop-color="#47ddd5"/><stop offset="0.4000" stop-color="#4de0d2"/><stop offset="0.4100" stop-color="#53e4cf"/><stop offset="0.4200" stop-color="#5ae7cc"/><stop offset="0.4300" stop-color="#60eac8"/><stop offset="0.4400" stop-color="#64ecc6"/><stop offset="0.4500" stop-color="#68eec4"/><stop offset="0.4600" stop-color="#6cf0c2"/><stop offset="0.4700" stop-color="#70f1bf"/><stop offset="0.4750" stop-color="#72f1be"/><stop offset="0.4790" stop-color="#74f1bd"/><stop offset="0.4800" stop-color="#74f1bc"/><stop offset="0.4810" stop-color="#75f1bc"/><stop offset="0.4900" stop-color="#7af2b8"/><stop offset="0.5000" stop-color="#80f3b3"/><stop offset="0.5100" stop-color="#86f4ae"/><stop offset="0.5200" stop-color="#8df4a9"/><stop offset="0.5300" stop-color="#95f2a5"/><stop offset="0.5400" stop-color="#9cf0a0"/><stop offset="0.5500" stop-color="#a4ee9b"/><stop offset="0.5600" stop-color="#acec97"/><stop offset="0.5700" stop-color="#b4ea92"/><stop offset="0.5800" stop-color="#bee58c"/><stop offset="0.5900" stop-color="#c7e186"/><stop offset="0.6000" stop-color="#d1dc80"/><stop offset="0.6050" stop-color="#d6da7d"/><stop offset="0.6090" stop-color="#d9d87b"/><stop offset="0.6100" stop-color="#dad77a"/><stop offset="0.6110" stop-color="#dbd77a"/><stop offset="0.6200" stop-color="#e0cf76"/><stop offset="0.6300" stop-color="#e6c872"/><stop offset="0.6400" stop-color="#ecc06e"/><stop offset="0.6500" stop-color="#f1b86a"/><stop offset="0.6600" stop-color="#f3b065"/><stop offset="0.6700" stop-color="#f6a85f"/><stop offset="0.6800" stop-color="#f99b57"/><stop offset="0.6900" stop-color="#fd8a4e"/><stop offset="0.7000" stop-color="#ff7a46"/><stop offset="0.7100" stop-color="#ff6e3e"/><stop offset="0.7200" stop-color="#ff6337"/><stop offset="0.7300" stop-color="#ff5d34"/><stop offset="0.7350" stop-color="#ff5a33"/><stop offset="0.7390" stop-color="#ff5831"/><stop offset="0.7400" stop-color="#ff5831"/><stop offset="0.7410" stop-color="#ff5731"/><stop offset="0.7500" stop-color="#ff522e"/><stop offset="0.7600" stop-color="#ff4c2b"/><stop offset="0.7700" stop-color="#ff502d"/><stop offset="0.7800" stop-color="#ff5330"/><stop offset="0.7900" stop-color="#ff5632"/><stop offset="0.8000" stop-color="#ff5e36"/><stop offset="0.8100" stop-color="#ff663a"/><stop offset="0.8200" stop-color="#ff6e3e"/><stop offset="0.8300" stop-color="#ff6f3f"/><stop offset="0.8400" stop-color="#ff7140"/><stop offset="0.8500" stop-color="#ff7341"/><stop offset="0.8600" stop-color="#ff7542"/><stop offset="0.8700" stop-color="#ff7a45"/><stop offset="0.8800" stop-color="#ff7f49"/><stop offset="0.8900" stop-color="#ff844d"/><stop offset="0.9000" stop-color="#ff8951"/><stop offset="0.9100" stop-color="#fe8d53"/><stop offset="0.9200" stop-color="#fe9256"/><stop offset="0.9300" stop-color="#fd9758"/><stop offset="0.9400" stop-color="#fd9c5a"/><stop offset="0.9500" stop-color="#fca05c"/><stop offset="1.0000" stop-color="#fca05c"/></linearGradient>
<linearGradient id="g30" x1="0" x2="1" y1="0" y2="0"><stop offset="0.0000" stop-color="#ffffff"/><stop offset="0.0980" stop-color="#ffffff"/><stop offset="0.0990" stop-color="#fafefe"/><stop offset="0.1000" stop-color="#f5fdfc"/><stop offset="0.1010" stop-color="#f5fdfc"/><stop offset="0.1020" stop-color="#f5fefc"/><stop offset="0.1100" stop-color="#f4fefc"/><stop offset="0.1200" stop-color="#f3fefb"/><stop offset="0.1300" stop-color="#f2fdfb"/><stop offset="0.1400" stop-color="#f1fdfb"/><stop offset="0.1500" stop-color="#f0fdfb"/><stop offset="0.1600" stop-color="#effdfa"/><stop offset="0.1700" stop-color="#edfdfa"/><stop offset="0.1800" stop-color="#ecfcfa"/><stop offset="0.1900" stop-color="#eafcfa"/><stop offset="0.2000" stop-color="#e9fcfa"/><stop offset="0.2100" stop-color="#e7fbf9"/><stop offset="0.2200" stop-color="#e6fbf9"/><stop offset="0.2300" stop-color="#e4faf9"/><stop offset="0.2400" stop-color="#e3faf9"/><stop offset="0.2500" stop-color="#cff6f5"/><stop offset="0.2600" stop-color="#bcf3f1"/><stop offset="0.2700" stop-color="#b8f2f1"/><stop offset="0.2800" stop-color="#b5f1f0"/><stop offset="0.2900" stop-color="#b2f0f0"/><stop offset="0.3000" stop-color="#aeefef"/><stop offset="0.3100" stop-color="#abefee"/><stop offset="0.3200" stop-color="#a7eeee"/><stop offset="0.3300" stop-color="#a5eeed"/><stop offset="0.3350" stop-color="#a4eded"/><stop offset="0.3400" stop-color="#a3edec"/><stop offset="0.3450" stop-color="#a1edec"/><stop offset="0.3500" stop-color="#a0edeb"/><stop offset="0.3550" stop-color="#9fedeb"/><stop offset="0.3600" stop-color="#9eedea"/><stop offset="0.3700" stop-color="#85e8e4"/><stop offset="0.3800" stop-color="#6ce4de"/><stop offset="0.3900" stop-color="#53e0d8"/><stop offset="0.4000" stop-color="#50e1d3"/><stop offset="0.4100" stop-color="#4de3cd"/><stop offset="0.4200" stop-color="#54e6ca"/><stop offset="0.4300" stop-color="#5be9c7"/><stop offset="0.4400" stop-color="#5eebc5"/><stop offset="0.4500" stop-color="#62edc3"/><stop offset="0.4600" stop-color="#65efc1"/><stop offset="0.4700" stop-color="#69f0c0"/><stop offset="0.4750" stop-color="#6af0be"/><stop offset="0.4790" stop-color="#6cf0bd"/><stop offset="0.4800" stop-color="#6cf0bd"/><stop offset="0.4810" stop-color="#6cf1bd"/><stop offset="0.4900" stop-color="#72f1b8"/><stop offset="0.5000" stop-color="#79f2b4"/><stop offset="0.5100" stop-color="#7ff3af"/><stop offset="0.5200" stop-color="#85f4aa"/><stop offset="0.5300" stop-color="#8df3a5"/><stop offset="0.5400" stop-color="#95f1a0"/><stop offset="0.5500" stop-color="#9def9c"/><stop offset="0.5600" stop-color="#a5ed97"/><stop offset="0.5700" stop-color="#adeb92"/><stop offset="0.5800" stop-color="#b6e78c"/><stop offset="0.5900" stop-color="#c0e386"/><stop offset="0.6000" stop-color="#cade80"/><stop offset="0.6050" stop-color="#cfdc7d"/><stop offset="0.6090" stop-color="#d3da7b"/><stop offset="0.6100" stop-color="#d4da7a"/><stop offset="0.6110" stop-color="#d5d97a"/><stop offset="0.6200" stop-color="#dcd376"/><stop offset="0.6300" stop-color="#e2cb72"/><stop offset="0.6400" stop-color="#e8c36e"/><stop offset="0.6500" stop-color="#eebb6a"/><stop offset="0.6600" stop-color="#f2b365"/><stop offset="0.6700" stop-color="#f4ab5f"/><stop offset="0.6800" stop-color="#f89f57"/><stop offset="0.6900" stop-color="#fc8c4e"/><stop offset="0.7000" stop-color="#ff7a44"/><stop offset="0.7100" stop-color="#ff6d3c"/><stop offset="0.7200" stop-color="#ff6034"/><stop offset="0.7300" stop-color="#ff5a31"/><stop offset="0.7350" stop-color="#ff572f"/><stop offset="0.7390" stop-color="#ff542e"/><stop offset="0.7400" stop-color="#ff532d"/><stop offset="0.7410" stop-color="#ff532d"/><stop offset="0.7500" stop-color="#ff4d2a"/><stop offset="0.7600" stop-color="#ff4827"/><stop offset="0.7700" stop-color="#ff4a29"/><stop offset="0.7800" stop-color="#ff4c2b"/><stop offset="0.7900" stop-color="#ff4f2d"/><stop offset="0.8000" stop-color="#ff5731"/><stop offset="0.8100" stop-color="#ff5f35"/><stop offset="0.8200" stop-color="#ff673a"/><stop offset="0.8300" stop-color="#ff6a3b"/><stop offset="0.8400" stop-color="#ff6e3d"/><stop offset="0.8500" stop-color="#ff713e"/><stop offset="0.8600" stop-color="#ff7440"/><stop offset="0.8700" stop-color="#ff7944"/><stop offset="0.8800" stop-color="#ff7e48"/><stop offset="0.8900" stop-color="#ff834c"/><stop offset="0.9000" stop-color="#ff8850"/><stop offset="0.9100" stop-color="#fe8d52"/><stop offset="0.9200" stop-color="#fe9255"/><stop offset="0.9300" stop-color="#fd9657"/><stop offset="0.9400" stop-color="#fd9b5a"/><stop offset="0.9500" stop-color="#fca05c"/><stop offset="1.0000" stop-color="#fca05c"/></linearGradient>
<linearGradient id="g31" x1="0" x2="1" y1="0" y2="0"><stop offset="0.0000" stop-color="#ffffff"/><stop offset="0.2400" stop-color="#ffffff"/><stop offset="0.2500" stop-color="#feffff"/><stop offset="0.2600" stop-color="#fcfffe"/><stop offset="0.2700" stop-color="#fbfefe"/><stop offset="0.2800" stop-color="#fafefe"/><stop offset="0.2900" stop-color="#f8fefe"/><stop offset="0.3000" stop-color="#f7fdfd"/><stop offset="0.3100" stop-color="#f6fdfd"/><stop offset="0.3200" stop-color="#f4fdfd"/><stop offset="0.3300" stop-color="#f2fdfc"/><stop offset="0.3350" stop-color="#f2fcfc"/><stop offset="0.3400" stop-color="#f1fcfc"/><stop offset="0.3450" stop-color="#f0fcfc"/><stop offset="0.3500" stop-color="#effcfc"/><stop offset="0.3550" stop-color="#effcfc"/><stop offset="0.3600" stop-color="#eefcfb"/><stop offset="0.3700" stop-color="#ecfcfb"/><stop offset="0.3800" stop-color="#ebfbfb"/><stop offset="0.3900" stop-color="#eafbfa"/><stop offset="0.4000" stop-color="#e9fbf9"/><stop offset="0.4100" stop-color="#e3fbf7"/><stop offset="0.4200" stop-color="#defaf5"/><stop offset="0.4300" stop-color="#dafaf2"/><stop offset="0.4400" stop-color="#d4faf0"/><stop offset="0.4500" stop-color="#cff9ed"/><stop offset="0.4600" stop-color="#b9f7e4"/><stop offset="0.4700" stop-color="#a3f5da"/><stop offset="0.4750" stop-color="#98f4d5"/><stop offset="0.4790" stop-color="#90f4d1"/><stop offset="0.4800" stop-color="#8ef4d0"/><stop offset="0.4810" stop-color="#8cf4cf"/><stop offset="0.4900" stop-color="#80f3c4"/><stop offset="0.5000" stop-color="#75f2b6"/><stop offset="0.5100" stop-color="#7bf2b2"/><stop offset="0.5200" stop-color="#82f3ad"/><stop offset="0.5300" stop-color="#88f4a8"/><stop offset="0.5400" stop-color="#90f2a3"/><stop offset="0.5500" stop-color="#98f09e"/><stop offset="0.5600" stop-color="#a0ee9a"/><stop offset="0.5700" stop-color="#a8ec95"/><stop offset="0.5800" stop-color="#b0ea90"/><stop offset="0.5900" stop-color="#bae68a"/><stop offset="0.6000" stop-color="#c4e184"/><stop offset="0.6050" stop-color="#c9df81"/><stop offset="0.6090" stop-color="#cddd7f"/><stop offset="0.6100" stop-color="#cedc7e"/><stop offset="0.6110" stop-color="#cfdc7d"/><stop offset="0.6200" stop-color="#d8d878"/><stop offset="0.6300" stop-color="#ded074"/><stop offset="0.6400" stop-color="#e4c870"/><stop offset="0.6500" stop-color="#eac06c"/><stop offset="0.6600" stop-color="#f0b868"/><stop offset="0.6700" stop-color="#f3b063"/><stop offset="0.6800" stop-color="#f7a35a"/><stop offset="0.6900" stop-color="#fb9150"/><stop offset="0.7000" stop-color="#ff7d45"/><stop offset="0.7100" stop-color="#ff6e3d"/><stop offset="0.7200" stop-color="#ff6034"/><stop offset="0.7300" stop-color="#ff5830"/><stop offset="0.7350" stop-color="#ff552e"/><stop offset="0.7390" stop-color="#ff522c"/><stop offset="0.7400" stop-color="#ff512c"/><stop offset="0.7410" stop-color="#ff502c"/><stop offset="0.7500" stop-color="#ff4a29"/><stop offset="0.7600" stop-color="#ff4425"/><stop offset="0.7700" stop-color="#ff4527"/><stop offset="0.7800" stop-color="#ff4628"/><stop offset="0.7900" stop-color="#ff4729"/><stop offset="0.8000" stop-color="#ff4f2d"/><stop offset="0.8100" stop-color="#ff5731"/><stop offset="0.8200" stop-color="#ff6036"/><stop offset="0.8300" stop-color="#ff6538"/><stop offset="0.8400" stop-color="#ff6a3b"/><stop offset="0.8500" stop-color="#ff6f3d"/><stop offset="0.8600" stop-color="#ff7440"/><stop offset="0.8700" stop-color="#ff7944"/><stop offset="0.8800" stop-color="#ff7e48"/><stop offset="0.8900" stop-color="#ff834c"/><stop offset="0.9000" stop-color="#ff8850"/><stop offset="0.9100" stop-color="#fe8d52"/><stop offset="0.9200" stop-color="#fe9255"/><stop offset="0.9300" stop-color="#fd9657"/><stop offset="0.9400" stop-color="#fd9b5a"/><stop offset="0.9500" stop-color="#fca05c"/><stop offset="1.0000" stop-color="#fca05c"/></linearGradient>
<linearGradient id="g32" x1="0" x2="1" y1="0" y2="0"><stop offset="0.0000" stop-color="#ffffff"/><stop offset="0.4700" stop-color="#ffffff"/><stop offset="0.4750" stop-color="#fcfffe"/><stop offset="0.4790" stop-color="#f9fefd"/><stop offset="0.4810" stop-color="#f9fefd"/><stop offset="0.4900" stop-color="#f9fefc"/><stop offset="0.5000" stop-color="#f8fefc"/><stop offset="0.5100" stop-color="#f8fefb"/><stop offset="0.5200" stop-color="#f8fefb"/><stop offset="0.5300" stop-color="#f8fefa"/><stop offset="0.5400" stop-color="#f8fefa"/><stop offset="0.5500" stop-color="#f8fef9"/><stop offset="0.5600" stop-color="#f8fef8"/><stop offset="0.5700" stop-color="#f9fef8"/><stop offset="0.5800" stop-color="#f9fef7"/><stop offset="0.5900" stop-color="#f9fdf6"/><stop offset="0.6000" stop-color="#fafdf5"/><stop offset="0.6050" stop-color="#e2f1c3"/><stop offset="0.6090" stop-color="#d1e599"/><stop offset="0.6100" stop-color="#cee28e"/><stop offset="0.6110" stop-color="#cee28e"/><stop offset="0.6200" stop-color="#d6de88"/><stop offset="0.6300" stop-color="#ded983"/><stop offset="0.6400" stop-color="#e3d17e"/><stop offset="0.6500" stop-color="#e8c97a"/><stop offset="0.6600" stop-color="#eec275"/><stop offset="0.6700" stop-color="#f2ba70"/><stop offset="0.6800" stop-color="#f6ac67"/><stop offset="0.6900" stop-color="#fa9b5c"/><stop offset="0.7000" stop-color="#fe8650"/><stop offset="0.7100" stop-color="#ff7647"/><stop offset="0.7200" stop-color="#ff683e"/><stop offset="0.7300" stop-color="#ff5e39"/><stop offset="0.7350" stop-color="#ff5a37"/><stop offset="0.7390" stop-color="#ff5735"/><stop offset="0.7400" stop-color="#ff5634"/><stop offset="0.7410" stop-color="#ff5534"/><stop offset="0.7500" stop-color="#ff4e30"/><stop offset="0.7600" stop-color="#ff472d"/><stop offset="0.7700" stop-color="#ff462d"/><stop offset="0.7800" stop-color="#ff442c"/><stop offset="0.7900" stop-color="#ff422b"/><stop offset="0.8000" stop-color="#ff492f"/><stop offset="0.8100" stop-color="#ff5233"/><stop offset="0.8200" stop-color="#ff5c38"/><stop offset="0.8300" stop-color="#ff633c"/><stop offset="0.8400" stop-color="#ff6a40"/><stop offset="0.8500" stop-color="#ff7243"/><stop offset="0.8600" stop-color="#ff7948"/><stop offset="0.8700" stop-color="#ff7e4b"/><stop offset="0.8800" stop-color="#ff834f"/><stop offset="0.8900" stop-color="#ff8853"/><stop offset="0.9000" stop-color="#ff8c56"/><stop offset="0.9100" stop-color="#fe9159"/><stop offset="0.9200" stop-color="#fe955b"/><stop offset="0.9300" stop-color="#fd9a5d"/><stop offset="0.9400" stop-color="#fd9f5f"/><stop offset="0.9500" stop-color="#fca361"/><stop offset="1.0000" stop-color="#fca361"/></linearGradient>
<linearGradient id="g33" x1="0" x2="1" y1="0" y2="0"><stop offset="0.0000" stop-color="#ffffff"/><stop offset="0.6000" stop-color="#ffffff"/><stop offset="0.6050" stop-color="#fefefd"/><stop offset="0.6090" stop-color="#fdfefb"/><stop offset="0.6100" stop-color="#fdfefa"/><stop offset="0.6200" stop-color="#fdfefa"/><stop offset="0.6300" stop-color="#fdfdf9"/><stop offset="0.6400" stop-color="#fdfdf9"/><stop offset="0.6500" stop-color="#fefdf8"/><stop offset="0.6600" stop-color="#fefcf8"/><stop offset="0.6700" stop-color="#fefcf8"/><stop offset="0.6800" stop-color="#fefbf7"/><stop offset="0.6900" stop-color="#fffaf6"/><stop offset="0.7000" stop-color="#fff8f5"/><stop offset="0.7100" stop-color="#fff7f4"/><stop offset="0.7200" stop-color="#fff6f3"/><stop offset="0.7300" stop-color="#fff5f3"/><stop offset="0.7350" stop-color="#fff4f2"/><stop offset="0.7390" stop-color="#ffe1dc"/><stop offset="0.7400" stop-color="#ffcec5"/><stop offset="0.7410" stop-color="#ffbaae"/><stop offset="0.7500" stop-color="#ff5239"/><stop offset="0.7600" stop-color="#ff4a35"/><stop offset="0.7700" stop-color="#ff4633"/><stop offset="0.7800" stop-color="#ff4130"/><stop offset="0.7900" stop-color="#ff3c2d"/><stop offset="0.8000" stop-color="#ff4230"/><stop offset="0.8100" stop-color="#ff4a35"/><stop offset="0.8200" stop-color="#ff553a"/><stop offset="0.8300" stop-color="#ff5f3f"/><stop offset="0.8400" stop-color="#ff6944"/><stop offset="0.8500" stop-color="#ff7449"/><stop offset="0.8600" stop-color="#ff7f4f"/><stop offset="0.8700" stop-color="#ff8453"/><stop offset="0.8800" stop-color="#ff8856"/><stop offset="0.8900" stop-color="#ff8d5a"/><stop offset="0.9000" stop-color="#ff915d"/><stop offset="0.9100" stop-color="#fe9560"/><stop offset="0.9200" stop-color="#fe9a62"/><stop offset="0.9300" stop-color="#fd9e64"/><stop offset="0.9400" stop-color="#fda366"/><stop offset="0.9500" stop-color="#fca768"/><stop offset="0.9900" stop-color="#fca768"/><stop offset="1.0000" stop-color="#fca767"/></linearGradient>
<linearGradient id="g34" x1="0" x2="1" y1="0" y2="0"><stop offset="0.0000" stop-color="#4de1d5"/><stop offset="0.0100" stop-color="#4fe2d4"/><stop offset="0.0200" stop-color="#51e3d3"/><stop offset="0.0300" stop-color="#53e4d2"/><stop offset="0.0400" stop-color="#55e6d1"/><stop offset="0.0500" stop-color="#57e7d0"/><stop offset="0.0600" stop-color="#59e8d0"/><stop offset="0.0700" stop-color="#5be9cf"/><stop offset="0.0700" stop-color="#5be9cf"/><stop offset="0.0750" stop-color="#5ceace"/><stop offset="0.0800" stop-color="#5deace"/><stop offset="0.0850" stop-color="#5eebcd"/><stop offset="0.0900" stop-color="#5febcd"/><stop offset="0.0950" stop-color="#60eccc"/><stop offset="0.0970" stop-color="#64edc9"/><stop offset="0.0980" stop-color="#66eec7"/><stop offset="0.0990" stop-color="#68eec6"/><stop offset="0.1000" stop-color="#6aefc4"/><stop offset="0.1010" stop-color="#6cf0c2"/><stop offset="0.1020" stop-color="#6ef0c1"/><stop offset="0.1100" stop-color="#75f2bc"/><stop offset="0.1200" stop-color="#77f3bb"/><stop offset="0.1300" stop-color="#79f4ba"/><stop offset="0.1400" stop-color="#7af5b9"/><stop offset="0.1500" stop-color="#7cf5b9"/><stop offset="0.1600" stop-color="#7ef6b8"/><stop offset="0.1700" stop-color="#7df6b8"/><stop offset="0.1800" stop-color="#7df6b9"/><stop offset="0.1900" stop-color="#7cf5b9"/><stop offset="0.2000" stop-color="#7bf5ba"/><stop offset="0.2100" stop-color="#7bf5ba"/><stop offset="0.2200" stop-color="#7af5bb"/><stop offset="0.2300" stop-color="#79f4bb"/><stop offset="0.2400" stop-color="#79f4bc"/><stop offset="0.2500" stop-color="#78f4bc"/><stop offset="0.2600" stop-color="#77f4bd"/><stop offset="0.2700" stop-color="#76f4be"/><stop offset="0.2800" stop-color="#74f3be"/><stop offset="0.2900" stop-color="#73f3bf"/><stop offset="0.3000" stop-color="#72f3c0"/><stop offset="0.3100" stop-color="#71f3c1"/><stop offset="0.3200" stop-color="#70f3c2"/><stop offset="0.3300" stop-color="#6ef2c2"/><stop offset="0.3350" stop-color="#6ef2c3"/><stop offset="0.3400" stop-color="#6df2c3"/><stop offset="0.3450" stop-color="#6df2c4"/><stop offset="0.3500" stop-color="#6cf2c4"/><stop offset="0.3550" stop-color="#6cf2c4"/><stop offset="0.3600" stop-color="#6bf2c4"/><stop offset="0.3700" stop-color="#6af2c5"/><stop offset="0.3800" stop-color="#69f2c5"/><stop offset="0.3900" stop-color="#68f2c6"/><stop offset="0.4000" stop-color="#67f2c6"/><stop offset="0.4100" stop-color="#66f2c6"/><stop offset="0.4200" stop-color="#65f2c7"/><stop offset="0.4300" stop-color="#64f2c7"/><stop offset="0.4400" stop-color="#63f2c8"/><stop offset="0.4500" stop-color="#62f2c8"/><stop offset="0.4600" stop-color="#5defca"/><stop offset="0.4700" stop-color="#58eccd"/><stop offset="0.4750" stop-color="#55ebce"/><stop offset="0.4790" stop-color="#53eacf"/><stop offset="0.4800" stop-color="#52eacf"/><stop offset="0.4810" stop-color="#52e9cf"/><stop offset="0.4900" stop-color="#4de7d2"/><stop offset="0.5000" stop-color="#48e4d4"/><stop offset="0.5100" stop-color="#43e1d6"/><stop offset="0.5200" stop-color="#3ddfd8"/><stop offset="0.5300" stop-color="#38dcda"/><stop offset="0.5400" stop-color="#33d9dc"/><stop offset="0.5500" stop-color="#2dd7de"/><stop offset="0.5600" stop-color="#28d4e0"/><stop offset="0.5700" stop-color="#27cfe1"/><stop offset="0.5800" stop-color="#25cbe3"/><stop offset="0.5900" stop-color="#24c6e4"/><stop offset="0.6000" stop-color="#23c1e5"/><stop offset="0.6050" stop-color="#22bfe6"/><stop offset="0.6090" stop-color="#21bde7"/><stop offset="0.6100" stop-color="#21bde7"/><stop offset="0.6110" stop-color="#21bce7"/><stop offset="0.6200" stop-color="#20b8e8"/><stop offset="0.6300" stop-color="#22b3ea"/><stop offset="0.6400" stop-color="#24aeeb"/><stop offset="0.6500" stop-color="#26a9ec"/><stop offset="0.6600" stop-color="#28a4ee"/><stop offset="0.6700" stop-color="#2b9def"/><stop offset="0.6800" stop-color="#2d97ef"/><stop offset="0.6900" stop-color="#3090f0"/><stop offset="0.7000" stop-color="#3588f0"/><stop offset="0.7100" stop-color="#3a80f0"/><stop offset="0.7200" stop-color="#3d78f1"/><stop offset="0.7300" stop-color="#3f70f1"/><stop offset="0.7350" stop-color="#416cf2"/><stop offset="0.7390" stop-color="#4269f2"/><stop offset="0.7400" stop-color="#4268f2"/><stop offset="0.7410" stop-color="#4267f2"/><stop offset="0.7500" stop-color="#4562f3"/><stop offset="0.7600" stop-color="#475cf3"/><stop offset="0.7700" stop-color="#4a56f4"/><stop offset="0.7800" stop-color="#4a54f4"/><stop offset="0.7900" stop-color="#4a52f4"/><stop offset="0.8000" stop-color="#4a50f4"/><stop offset="0.8500" stop-color="#4a50f4"/><stop offset="0.8600" stop-color="#4a4ff4"/><stop offset="0.9400" stop-color="#4a4ff4"/><stop offset="0.9500" stop-color="#4a4ef4"/><stop offset="1.0000" stop-color="#4a4ef4"/></linearGradient>
<linearGradient id="g35" x1="0" x2="1" y1="0" y2="0"><stop offset="0.0000" stop-color="#55e2d7"/><stop offset="0.0100" stop-color="#56e3d6"/><stop offset="0.0200" stop-color="#57e4d5"/><stop offset="0.0300" stop-color="#58e5d4"/><stop offset="0.0400" stop-color="#59e6d3"/><stop offset="0.0500" stop-color="#5be7d1"/><stop offset="0.0600" stop-color="#5ce8d0"/><stop offset="0.0700" stop-color="#5de9cf"/><stop offset="0.0700" stop-color="#5de9cf"/><stop offset="0.0750" stop-color="#5eeacf"/><stop offset="0.0800" stop-color="#5eeace"/><stop offset="0.0850" stop-color="#5febcd"/><stop offset="0.0900" stop-color="#60eccd"/><stop offset="0.0950" stop-color="#61eccc"/><stop offset="0.0970" stop-color="#64edc9"/><stop offset="0.0980" stop-color="#66eec7"/><stop offset="0.0990" stop-color="#68eec6"/><stop offset="0.1000" stop-color="#6aefc4"/><stop offset="0.1010" stop-color="#6cf0c2"/><stop offset="0.1020" stop-color="#6ef0c1"/><stop offset="0.1100" stop-color="#75f2bc"/><stop offset="0.1200" stop-color="#77f3bb"/><stop offset="0.1300" stop-color="#79f4ba"/><stop offset="0.1400" stop-color="#7af5b9"/><stop offset="0.1500" stop-color="#7cf5b9"/><stop offset="0.1600" stop-color="#7ef6b8"/><stop offset="0.1700" stop-color="#7df6b8"/><stop offset="0.1800" stop-color="#7df6b9"/><stop offset="0.1900" stop-color="#7cf5b9"/><stop offset="0.2000" stop-color="#7bf5ba"/><stop offset="0.2100" stop-color="#7bf5ba"/><stop offset="0.2200" stop-color="#7af5bb"/><stop offset="0.2300" stop-color="#79f4bb"/><stop offset="0.2400" stop-color="#79f4bc"/><stop offset="0.2500" stop-color="#78f4bc"/><stop offset="0.2600" stop-color="#77f4bd"/><stop offset="0.2700" stop-color="#76f4be"/><stop offset="0.2800" stop-color="#74f3be"/><stop offset="0.2900" stop-color="#73f3bf"/><stop offset="0.3000" stop-color="#72f3c0"/><stop offset="0.3100" stop-color="#71f3c1"/><stop offset="0.3200" stop-color="#70f3c2"/><stop offset="0.3300" stop-color="#6ef2c2"/><stop offset="0.3350" stop-color="#6ef2c3"/><stop offset="0.3400" stop-color="#6df2c3"/><stop offset="0.3450" stop-color="#6df2c4"/><stop offset="0.3500" stop-color="#6cf2c4"/><stop offset="0.3550" stop-color="#6cf2c4"/><stop offset="0.3600" stop-color="#6bf2c4"/><stop offset="0.3700" stop-color="#6af2c5"/><stop offset="0.3800" stop-color="#69f2c5"/><stop offset="0.3900" stop-color="#68f2c6"/><stop offset="0.4000" stop-color="#67f2c6"/><stop offset="0.4100" stop-color="#66f2c6"/><stop offset="0.4200" stop-color="#65f2c7"/><stop offset="0.4300" stop-color="#64f2c7"/><stop offset="0.4400" stop-color="#63f2c8"/><stop offset="0.4500" stop-color="#62f2c8"/><stop offset="0.4600" stop-color="#5defca"/><stop offset="0.4700" stop-color="#58eccd"/><stop offset="0.4750" stop-color="#55ebce"/><stop offset="0.4790" stop-color="#53eacf"/><stop offset="0.4800" stop-color="#52eacf"/><stop offset="0.4810" stop-color="#52e9cf"/><stop offset="0.4900" stop-color="#4de7d2"/><stop offset="0.5000" stop-color="#48e4d4"/><stop offset="0.5100" stop-color="#43e1d6"/><stop offset="0.5200" stop-color="#3ddfd8"/><stop offset="0.5300" stop-color="#38dcda"/><stop offset="0.5400" stop-color="#33d9dc"/><stop offset="0.5500" stop-color="#2dd7de"/><stop offset="0.5600" stop-color="#28d4e0"/><stop offset="0.5700" stop-color="#27cfe1"/><stop offset="0.5800" stop-color="#25cbe3"/><stop offset="0.5900" stop-color="#24c6e4"/><stop offset="0.6000" stop-color="#23c1e5"/><stop offset="0.6050" stop-color="#22bfe6"/><stop offset="0.6090" stop-color="#21bde7"/><stop offset="0.6100" stop-color="#21bde7"/><stop offset="0.6110" stop-color="#21bce7"/><stop offset="0.6200" stop-color="#20b8e8"/><stop offset="0.6300" stop-color="#22b3ea"/><stop offset="0.6400" stop-color="#24aeeb"/><stop offset="0.6500" stop-color="#26a9ec"/><stop offset="0.6600" stop-color="#28a4ee"/><stop offset="0.6700" stop-color="#2b9def"/><stop offset="0.6800" stop-color="#2d97ef"/><stop offset="0.6900" stop-color="#3090f0"/><stop offset="0.7000" stop-color="#3588f0"/><stop offset="0.7100" stop-color="#3a80f0"/><stop offset="0.7200" stop-color="#3d78f1"/><stop offset="0.7300" stop-color="#3f70f1"/><stop offset="0.7350" stop-color="#416cf2"/><stop offset="0.7390" stop-color="#4269f2"/><stop offset="0.7400" stop-color="#4268f2"/><stop offset="0.7410" stop-color="#4267f2"/><stop offset="0.7500" stop-color="#4562f3"/><stop offset="0.7600" stop-color="#475cf3"/><stop offset="0.7700" stop-color="#4a56f4"/><stop offset="0.7800" stop-color="#4a54f4"/><stop offset="0.7900" stop-color="#4a52f4"/><stop offset="0.8000" stop-color="#4a50f4"/><stop offset="0.8500" stop-color="#4a50f4"/><stop offset="0.8600" stop-color="#4a4ff4"/><stop offset="0.9400" stop-color="#4a4ff4"/><stop offset="0.9500" stop-color="#4a4ef4"/><stop offset="1.0000" stop-color="#4a4ef4"/></linearGradient>
<linearGradient id="g36" x1="0" x2="1" y1="0" y2="0"><stop offset="0.0000" stop-color="#69e6dc"/><stop offset="0.0100" stop-color="#6ae7db"/><stop offset="0.0200" stop-color="#6ce7da"/><stop offset="0.0300" stop-color="#6de8d9"/><stop offset="0.0400" stop-color="#6fe9d8"/><stop offset="0.0500" stop-color="#70ead7"/><stop offset="0.0600" stop-color="#72ebd7"/><stop offset="0.0700" stop-color="#73ecd6"/><stop offset="0.0700" stop-color="#73ecd6"/><stop offset="0.0750" stop-color="#74edd5"/><stop offset="0.0800" stop-color="#75edd5"/><stop offset="0.0850" stop-color="#70edd2"/><stop offset="0.0900" stop-color="#6bedd0"/><stop offset="0.0950" stop-color="#66edce"/><stop offset="0.0970" stop-color="#67eeca"/><stop offset="0.0980" stop-color="#68eec8"/><stop offset="0.0990" stop-color="#69efc6"/><stop offset="0.1000" stop-color="#6aefc4"/><stop offset="0.1010" stop-color="#6cf0c2"/><stop offset="0.1020" stop-color="#6ef0c1"/><stop offset="0.1100" stop-color="#75f2bc"/><stop offset="0.1200" stop-color="#77f3bb"/><stop offset="0.1300" stop-color="#79f4ba"/><stop offset="0.1400" stop-color="#7af5b9"/><stop offset="0.1500" stop-color="#7cf5b9"/><stop offset="0.1600" stop-color="#7ef6b8"/><stop offset="0.1700" stop-color="#7df6b8"/><stop offset="0.1800" stop-color="#7df6b9"/><stop offset="0.1900" stop-color="#7cf5b9"/><stop offset="0.2000" stop-color="#7bf5ba"/><stop offset="0.2100" stop-color="#7bf5ba"/><stop offset="0.2200" stop-color="#7af5bb"/><stop offset="0.2300" stop-color="#79f4bb"/><stop offset="0.2400" stop-color="#79f4bc"/><stop offset="0.2500" stop-color="#78f4bc"/><stop offset="0.2600" stop-color="#77f4bd"/><stop offset="0.2700" stop-color="#76f4be"/><stop offset="0.2800" stop-color="#74f3be"/><stop offset="0.2900" stop-color="#73f3bf"/><stop offset="0.3000" stop-color="#72f3c0"/><stop offset="0.3100" stop-color="#71f3c1"/><stop offset="0.3200" stop-color="#70f3c2"/><stop offset="0.3300" stop-color="#6ef2c2"/><stop offset="0.3350" stop-color="#6ef2c3"/><stop offset="0.3400" stop-color="#6df2c3"/><stop offset="0.3450" stop-color="#6df2c4"/><stop offset="0.3500" stop-color="#6cf2c4"/><stop offset="0.3550" stop-color="#6cf2c4"/><stop offset="0.3600" stop-color="#6bf2c4"/><stop offset="0.3700" stop-color="#6af2c5"/><stop offset="0.3800" stop-color="#69f2c5"/><stop offset="0.3900" stop-color="#68f2c6"/><stop offset="0.4000" stop-color="#67f2c6"/><stop offset="0.4100" stop-color="#66f2c6"/><stop offset="0.4200" stop-color="#65f2c7"/><stop offset="0.4300" stop-color="#64f2c7"/><stop offset="0.4400" stop-color="#63f2c8"/><stop offset="0.4500" stop-color="#62f2c8"/><stop offset="0.4600" stop-color="#5defca"/><stop offset="0.4700" stop-color="#58eccd"/><stop offset="0.4750" stop-color="#55ebce"/><stop offset="0.4790" stop-color="#53eacf"/><stop offset="0.4800" stop-color="#52eacf"/><stop offset="0.4810" stop-color="#52e9cf"/><stop offset="0.4900" stop-color="#4de7d2"/><stop offset="0.5000" stop-color="#48e4d4"/><stop offset="0.5100" stop-color="#43e1d6"/><stop offset="0.5200" stop-color="#3ddfd8"/><stop offset="0.5300" stop-color="#38dcda"/><stop offset="0.5400" stop-color="#33d9dc"/><stop offset="0.5500" stop-color="#2dd7de"/><stop offset="0.5600" stop-color="#28d4e0"/><stop offset="0.5700" stop-color="#27cfe1"/><stop offset="0.5800" stop-color="#25cbe3"/><stop offset="0.5900" stop-color="#24c6e4"/><stop offset="0.6000" stop-color="#23c1e5"/><stop offset="0.6050" stop-color="#22bfe6"/><stop offset="0.6090" stop-color="#21bde7"/><stop offset="0.6100" stop-color="#21bde7"/><stop offset="0.6110" stop-color="#21bce7"/><stop offset="0.6200" stop-color="#20b8e8"/><stop offset="0.6300" stop-color="#22b3ea"/><stop offset="0.6400" stop-color="#24aeeb"/><stop offset="0.6500" stop-color="#26a9ec"/><stop offset="0.6600" stop-color="#28a4ee"/><stop offset="0.6700" stop-color="#2b9def"/><stop offset="0.6800" stop-color="#2d97ef"/><stop offset="0.6900" stop-color="#3090f0"/><stop offset="0.7000" stop-color="#3588f0"/><stop offset="0.7100" stop-color="#3a80f0"/><stop offset="0.7200" stop-color="#3d78f1"/><stop offset="0.7300" stop-color="#3f70f1"/><stop offset="0.7350" stop-color="#416cf2"/><stop offset="0.7390" stop-color="#4269f2"/><stop offset="0.7400" stop-color="#4268f2"/><stop offset="0.7410" stop-color="#4267f2"/><stop offset="0.7500" stop-color="#4562f3"/><stop offset="0.7600" stop-color="#475cf3"/><stop offset="0.7700" stop-color="#4a56f4"/><stop offset="0.7800" stop-color="#4a54f4"/><stop offset="0.7900" stop-color="#4a52f4"/><stop offset="0.8000" stop-color="#4a50f4"/><stop offset="0.8500" stop-color="#4a50f4"/><stop offset="0.8600" stop-color="#4a4ff4"/><stop offset="0.9400" stop-color="#4a4ff4"/><stop offset="0.9500" stop-color="#4a4ef4"/><stop offset="1.0000" stop-color="#4a4ef4"/></linearGradient>
<linearGradient id="g37" x1="0" x2="1" y1="0" y2="0"><stop offset="0.0000" stop-color="#9aeee7"/><stop offset="0.0100" stop-color="#9beee7"/><stop offset="0.0200" stop-color="#9befe6"/><stop offset="0.0300" stop-color="#9befe5"/><stop offset="0.0400" stop-color="#9bf0e4"/><stop offset="0.0500" stop-color="#9cf1e3"/><stop offset="0.0600" stop-color="#9cf1e3"/><stop offset="0.0700" stop-color="#9cf2e2"/><stop offset="0.0700" stop-color="#9cf2e2"/><stop offset="0.0750" stop-color="#9df2e1"/><stop offset="0.0800" stop-color="#85efda"/><stop offset="0.0850" stop-color="#7cefd6"/><stop offset="0.0900" stop-color="#73eed3"/><stop offset="0.0950" stop-color="#6aedcf"/><stop offset="0.0970" stop-color="#6aeecb"/><stop offset="0.0980" stop-color="#6aeec9"/><stop offset="0.0990" stop-color="#6aefc6"/><stop offset="0.1000" stop-color="#6aefc4"/><stop offset="0.1010" stop-color="#6cf0c2"/><stop offset="0.1020" stop-color="#6ef0c1"/><stop offset="0.1100" stop-color="#75f2bc"/><stop offset="0.1200" stop-color="#77f3bb"/><stop offset="0.1300" stop-color="#79f4ba"/><stop offset="0.1400" stop-color="#7af5b9"/><stop offset="0.1500" stop-color="#7cf5b9"/><stop offset="0.1600" stop-color="#7ef6b8"/><stop offset="0.1700" stop-color="#7df6b8"/><stop offset="0.1800" stop-color="#7df6b9"/><stop offset="0.1900" stop-color="#7cf5b9"/><stop offset="0.2000" stop-color="#7bf5ba"/><stop offset="0.2100" stop-color="#7bf5ba"/><stop offset="0.2200" stop-color="#7af5bb"/><stop offset="0.2300" stop-color="#79f4bb"/><stop offset="0.2400" stop-color="#79f4bc"/><stop offset="0.2500" stop-color="#78f4bc"/><stop offset="0.2600" stop-color="#77f4bd"/><stop offset="0.2700" stop-color="#76f4be"/><stop offset="0.2800" stop-color="#74f3be"/><stop offset="0.2900" stop-color="#73f3bf"/><stop offset="0.3000" stop-color="#72f3c0"/><stop offset="0.3100" stop-color="#71f3c1"/><stop offset="0.3200" stop-color="#70f3c2"/><stop offset="0.3300" stop-color="#6ef2c2"/><stop offset="0.3350" stop-color="#6ef2c3"/><stop offset="0.3400" stop-color="#6df2c3"/><stop offset="0.3450" stop-color="#6df2c4"/><stop offset="0.3500" stop-color="#6cf2c4"/><stop offset="0.3550" stop-color="#6cf2c4"/><stop offset="0.3600" stop-color="#6bf2c4"/><stop offset="0.3700" stop-color="#6af2c5"/><stop offset="0.3800" stop-color="#69f2c5"/><stop offset="0.3900" stop-color="#68f2c6"/><stop offset="0.4000" stop-color="#67f2c6"/><stop offset="0.4100" stop-color="#66f2c6"/><stop offset="0.4200" stop-color="#65f2c7"/><stop offset="0.4300" stop-color="#64f2c7"/><stop offset="0.4400" stop-color="#63f2c8"/><stop offset="0.4500" stop-color="#62f2c8"/><stop offset="0.4600" stop-color="#5defca"/><stop offset="0.4700" stop-color="#58eccd"/><stop offset="0.4750" stop-color="#55ebce"/><stop offset="0.4790" stop-color="#53eacf"/><stop offset="0.4800" stop-color="#52eacf"/><stop offset="0.4810" stop-color="#52e9cf"/><stop offset="0.4900" stop-color="#4de7d2"/><stop offset="0.5000" stop-color="#48e4d4"/><stop offset="0.5100" stop-color="#43e1d6"/><stop offset="0.5200" stop-color="#3ddfd8"/><stop offset="0.5300" stop-color="#38dcda"/><stop offset="0.5400" stop-color="#33d9dc"/><stop offset="0.5500" stop-color="#2dd7de"/><stop offset="0.5600" stop-color="#28d4e0"/><stop offset="0.5700" stop-color="#27cfe1"/><stop offset="0.5800" stop-color="#25cbe3"/><stop offset="0.5900" stop-color="#24c6e4"/><stop offset="0.6000" stop-color="#23c1e5"/><stop offset="0.6050" stop-color="#22bfe6"/><stop offset="0.6090" stop-color="#21bde7"/><stop offset="0.6100" stop-color="#21bde7"/><stop offset="0.6110" stop-color="#21bce7"/><stop offset="0.6200" stop-color="#20b8e8"/><stop offset="0.6300" stop-color="#22b3ea"/><stop offset="0.6400" stop-color="#24aeeb"/><stop offset="0.6500" stop-color="#26a9ec"/><stop offset="0.6600" stop-color="#28a4ee"/><stop offset="0.6700" stop-color="#2b9def"/><stop offset="0.6800" stop-color="#2d97ef"/><stop offset="0.6900" stop-color="#3090f0"/><stop offset="0.7000" stop-color="#3588f0"/><stop offset="0.7100" stop-color="#3a80f0"/><stop offset="0.7200" stop-color="#3d78f1"/><stop offset="0.7300" stop-color="#3f70f1"/><stop offset="0.7350" stop-color="#416cf2"/><stop offset="0.7390" stop-color="#4269f2"/><stop offset="0.7400" stop-color="#4268f2"/><stop offset="0.7410" stop-color="#4267f2"/><stop offset="0.7500" stop-color="#4562f3"/><stop offset="0.7600" stop-color="#475cf3"/><stop offset="0.7700" stop-color="#4a56f4"/><stop offset="0.7800" stop-color="#4a54f4"/><stop offset="0.7900" stop-color="#4a52f4"/><stop offset="0.8000" stop-color="#4a50f4"/><stop offset="0.8500" stop-color="#4a50f4"/><stop offset="0.8600" stop-color="#4a4ff4"/><stop offset="0.9400" stop-color="#4a4ff4"/><stop offset="0.9500" stop-color="#4a4ef4"/><stop offset="1.0000" stop-color="#4a4ef4"/></linearGradient>
<linearGradient id="g38" x1="0" x2="1" y1="0" y2="0"><stop offset="0.0000" stop-color="#f6fdfd"/><stop offset="0.0100" stop-color="#f5fdfd"/><stop offset="0.0200" stop-color="#f5fdfc"/><stop offset="0.0300" stop-color="#f4fdfc"/><stop offset="0.0400" stop-color="#f3fdfc"/><stop offset="0.0500" stop-color="#f3fdfc"/><stop offset="0.0600" stop-color="#f2fdfb"/><stop offset="0.0700" stop-color="#f2fdfb"/><stop offset="0.0750" stop-color="#b2f5e8"/><stop offset="0.0800" stop-color="#a3f3e3"/><stop offset="0.0850" stop-color="#a0f3e1"/><stop offset="0.0900" stop-color="#9df3e0"/><stop offset="0.0950" stop-color="#9af3df"/><stop offset="0.0970" stop-color="#9bf4dc"/><stop offset="0.0980" stop-color="#9cf4db"/><stop offset="0.0990" stop-color="#82f1d0"/><stop offset="0.1000" stop-color="#6aefc4"/><stop offset="0.1010" stop-color="#6cf0c2"/><stop offset="0.1020" stop-color="#6ef0c1"/><stop offset="0.1100" stop-color="#75f2bc"/><stop offset="0.1200" stop-color="#77f3bb"/><stop offset="0.1300" stop-color="#79f4ba"/><stop offset="0.1400" stop-color="#7af5b9"/><stop offset="0.1500" stop-color="#7cf5b9"/><stop offset="0.1600" stop-color="#7ef6b8"/><stop offset="0.1700" stop-color="#7df6b8"/><stop offset="0.1800" stop-color="#7df6b9"/><stop offset="0.1900" stop-color="#7cf5b9"/><stop offset="0.2000" stop-color="#7bf5ba"/><stop offset="0.2100" stop-color="#7bf5ba"/><stop offset="0.2200" stop-color="#7af5bb"/><stop offset="0.2300" stop-color="#79f4bb"/><stop offset="0.2400" stop-color="#79f4bc"/><stop offset="0.2500" stop-color="#78f4bc"/><stop offset="0.2600" stop-color="#77f4bd"/><stop offset="0.2700" stop-color="#76f4be"/><stop offset="0.2800" stop-color="#74f3be"/><stop offset="0.2900" stop-color="#73f3bf"/><stop offset="0.3000" stop-color="#72f3c0"/><stop offset="0.3100" stop-color="#71f3c1"/><stop offset="0.3200" stop-color="#70f3c2"/><stop offset="0.3300" stop-color="#6ef2c2"/><stop offset="0.3350" stop-color="#6ef2c3"/><stop offset="0.3400" stop-color="#6df2c3"/><stop offset="0.3450" stop-color="#6df2c4"/><stop offset="0.3500" stop-color="#6cf2c4"/><stop offset="0.3550" stop-color="#6cf2c4"/><stop offset="0.3600" stop-color="#6bf2c4"/><stop offset="0.3700" stop-color="#6af2c5"/><stop offset="0.3800" stop-color="#69f2c5"/><stop offset="0.3900" stop-color="#68f2c6"/><stop offset="0.4000" stop-color="#67f2c6"/><stop offset="0.4100" stop-color="#66f2c6"/><stop offset="0.4200" stop-color="#65f2c7"/><stop offset="0.4300" stop-color="#64f2c7"/><stop offset="0.4400" stop-color="#63f2c8"/><stop offset="0.4500" stop-color="#62f2c8"/><stop offset="0.4600" stop-color="#5defca"/><stop offset="0.4700" stop-color="#58eccd"/><stop offset="0.4750" stop-color="#55ebce"/><stop offset="0.4790" stop-color="#53eacf"/><stop offset="0.4800" stop-color="#52eacf"/><stop offset="0.4810" stop-color="#52e9cf"/><stop offset="0.4900" stop-color="#4de7d2"/><stop offset="0.5000" stop-color="#48e4d4"/><stop offset="0.5100" stop-color="#43e1d6"/><stop offset="0.5200" stop-color="#3ddfd8"/><stop offset="0.5300" stop-color="#38dcda"/><stop offset="0.5400" stop-color="#33d9dc"/><stop offset="0.5500" stop-color="#2dd7de"/><stop offset="0.5600" stop-color="#28d4e0"/><stop offset="0.5700" stop-color="#27cfe1"/><stop offset="0.5800" stop-color="#25cbe3"/><stop offset="0.5900" stop-color="#24c6e4"/><stop offset="0.6000" stop-color="#23c1e5"/><stop offset="0.6050" stop-color="#22bfe6"/><stop offset="0.6090" stop-color="#21bde7"/><stop offset="0.6100" stop-color="#21bde7"/><stop offset="0.6110" stop-color="#21bce7"/><stop offset="0.6200" stop-color="#20b8e8"/><stop offset="0.6300" stop-color="#22b3ea"/><stop offset="0.6400" stop-color="#24aeeb"/><stop offset="0.6500" stop-color="#26a9ec"/><stop offset="0.6600" stop-color="#28a4ee"/><stop offset="0.6700" stop-color="#2b9def"/><stop offset="0.6800" stop-color="#2d97ef"/><stop offset="0.6900" stop-color="#3090f0"/><stop offset="0.7000" stop-color="#3588f0"/><stop offset="0.7100" stop-color="#3a80f0"/><stop offset="0.7200" stop-color="#3d78f1"/><stop offset="0.7300" stop-color="#3f70f1"/><stop offset="0.7350" stop-color="#416cf2"/><stop offset="0.7390" stop-color="#4269f2"/><stop offset="0.7400" stop-color="#4268f2"/><stop offset="0.7410" stop-color="#4267f2"/><stop offset="0.7500" stop-color="#4562f3"/><stop offset="0.7600" stop-color="#475cf3"/><stop offset="0.7700" stop-color="#4a56f4"/><stop offset="0.7800" stop-color="#4a54f4"/><stop offset="0.7900" stop-color="#4a52f4"/><stop offset="0.8000" stop-color="#4a50f4"/><stop offset="0.8500" stop-color="#4a50f4"/><stop offset="0.8600" stop-color="#4a4ff4"/><stop offset="0.9400" stop-color="#4a4ff4"/><stop offset="0.9500" stop-color="#4a4ef4"/><stop offset="1.0000" stop-color="#4a4ef4"/></linearGradient>
<linearGradient id="g39" x1="0" x2="1" y1="0" y2="0"><stop offset="0.0000" stop-color="#ffffff"/><stop offset="0.0100" stop-color="#feffff"/><stop offset="0.0300" stop-color="#feffff"/><stop offset="0.0400" stop-color="#fdfffe"/><stop offset="0.0500" stop-color="#fdfffe"/><stop offset="0.0600" stop-color="#fcfffe"/><stop offset="0.0700" stop-color="#fcfffe"/><stop offset="0.0750" stop-color="#e1fbf6"/><stop offset="0.0800" stop-color="#c4f7ed"/><stop offset="0.0850" stop-color="#c1f7ec"/><stop offset="0.0900" stop-color="#bdf7ea"/><stop offset="0.0950" stop-color="#baf7e9"/><stop offset="0.0970" stop-color="#baf7e7"/><stop offset="0.0980" stop-color="#baf7e6"/><stop offset="0.0990" stop-color="#92f3d5"/><stop offset="0.1000" stop-color="#6aefc4"/><stop offset="0.1010" stop-color="#6cf0c2"/><stop offset="0.1020" stop-color="#6ef0c1"/><stop offset="0.1100" stop-color="#75f2bc"/><stop offset="0.1200" stop-color="#77f3bb"/><stop offset="0.1300" stop-color="#79f4ba"/><stop offset="0.1400" stop-color="#7af5b9"/><stop offset="0.1500" stop-color="#7cf5b9"/><stop offset="0.1600" stop-color="#7ef6b8"/><stop offset="0.1700" stop-color="#7df6b8"/><stop offset="0.1800" stop-color="#7df6b9"/><stop offset="0.1900" stop-color="#7cf5b9"/><stop offset="0.2000" stop-color="#7bf5ba"/><stop offset="0.2100" stop-color="#7bf5ba"/><stop offset="0.2200" stop-color="#7af5bb"/><stop offset="0.2300" stop-color="#79f4bb"/><stop offset="0.2400" stop-color="#79f4bc"/><stop offset="0.2500" stop-color="#78f4bc"/><stop offset="0.2600" stop-color="#77f4bd"/><stop offset="0.2700" stop-color="#76f4be"/><stop offset="0.2800" stop-color="#74f3be"/><stop offset="0.2900" stop-color="#73f3bf"/><stop offset="0.3000" stop-color="#72f3c0"/><stop offset="0.3100" stop-color="#71f3c1"/><stop offset="0.3200" stop-color="#70f3c2"/><stop offset="0.3300" stop-color="#6ef2c2"/><stop offset="0.3350" stop-color="#6ef2c3"/><stop offset="0.3400" stop-color="#6df2c3"/><stop offset="0.3450" stop-color="#6df2c4"/><stop offset="0.3500" stop-color="#6cf2c4"/><stop offset="0.3550" stop-color="#6cf2c4"/><stop offset="0.3600" stop-color="#6bf2c4"/><stop offset="0.3700" stop-color="#6af2c5"/><stop offset="0.3800" stop-color="#69f2c5"/><stop offset="0.3900" stop-color="#68f2c6"/><stop offset="0.4000" stop-color="#67f2c6"/><stop offset="0.4100" stop-color="#66f2c6"/><stop offset="0.4200" stop-color="#65f2c7"/><stop offset="0.4300" stop-color="#64f2c7"/><stop offset="0.4400" stop-color="#63f2c8"/><stop offset="0.4500" stop-color="#62f2c8"/><stop offset="0.4600" stop-color="#5defca"/><stop offset="0.4700" stop-color="#58eccd"/><stop offset="0.4750" stop-color="#55ebce"/><stop offset="0.4790" stop-color="#53eacf"/><stop offset="0.4800" stop-color="#52eacf"/><stop offset="0.4810" stop-color="#52e9cf"/><stop offset="0.4900" stop-color="#4de7d2"/><stop offset="0.5000" stop-color="#48e4d4"/><stop offset="0.5100" stop-color="#43e1d6"/><stop offset="0.5200" stop-color="#3ddfd8"/><stop offset="0.5300" stop-color="#38dcda"/><stop offset="0.5400" stop-color="#33d9dc"/><stop offset="0.5500" stop-color="#2dd7de"/><stop offset="0.5600" stop-color="#28d4e0"/><stop offset="0.5700" stop-color="#27cfe1"/><stop offset="0.5800" stop-color="#25cbe3"/><stop offset="0.5900" stop-color="#24c6e4"/><stop offset="0.6000" stop-color="#23c1e5"/><stop offset="0.6050" stop-color="#22bfe6"/><stop offset="0.6090" stop-color="#21bde7"/><stop offset="0.6100" stop-color="#21bde7"/><stop offset="0.6110" stop-color="#21bce7"/><stop offset="0.6200" stop-color="#20b8e8"/><stop offset="0.6300" stop-color="#22b3ea"/><stop offset="0.6400" stop-color="#24aeeb"/><stop offset="0.6500" stop-color="#26a9ec"/><stop offset="0.6600" stop-color="#28a4ee"/><stop offset="0.6700" stop-color="#2b9def"/><stop offset="0.6800" stop-color="#2d97ef"/><stop offset="0.6900" stop-color="#3090f0"/><stop offset="0.7000" stop-color="#3588f0"/><stop offset="0.7100" stop-color="#3a80f0"/><stop offset="0.7200" stop-color="#3d78f1"/><stop offset="0.7300" stop-color="#3f70f1"/><stop offset="0.7350" stop-color="#416cf2"/><stop offset="0.7390" stop-color="#4269f2"/><stop offset="0.7400" stop-color="#4268f2"/><stop offset="0.7410" stop-color="#4267f2"/><stop offset="0.7500" stop-color="#4562f3"/><stop offset="0.7600" stop-color="#475cf3"/><stop offset="0.7700" stop-color="#4a56f4"/><stop offset="0.7800" stop-color="#4a54f4"/><stop offset="0.7900" stop-color="#4a52f4"/><stop offset="0.8000" stop-color="#4a50f4"/><stop offset="0.8500" stop-color="#4a50f4"/><stop offset="0.8600" stop-color="#4a4ff4"/><stop offset="0.9400" stop-color="#4a4ff4"/><stop offset="0.9500" stop-color="#4a4ef4"/><stop offset="1.0000" stop-color="#4a4ef4"/></linearGradient>
<linearGradient id="g40" x1="0" x2="1" y1="0" y2="0"><stop offset="0.0000" stop-color="#ffffff"/><stop offset="0.0970" stop-color="#ffffff"/><stop offset="0.0980" stop-color="#dbfbf2"/><stop offset="0.0990" stop-color="#b9f7e4"/><stop offset="0.1000" stop-color="#97f4d6"/><stop offset="0.1010" stop-color="#96f4d4"/><stop offset="0.1020" stop-color="#96f4d2"/><stop offset="0.1100" stop-color="#8df5c7"/><stop offset="0.1200" stop-color="#7ef4be"/><stop offset="0.1300" stop-color="#7ff4be"/><stop offset="0.1400" stop-color="#81f5bd"/><stop offset="0.1500" stop-color="#82f6bc"/><stop offset="0.1600" stop-color="#84f6bb"/><stop offset="0.1700" stop-color="#83f6bc"/><stop offset="0.1800" stop-color="#83f6bc"/><stop offset="0.1900" stop-color="#82f6bd"/><stop offset="0.2000" stop-color="#81f6bd"/><stop offset="0.2100" stop-color="#81f5bd"/><stop offset="0.2200" stop-color="#80f5be"/><stop offset="0.2300" stop-color="#7ff5be"/><stop offset="0.2400" stop-color="#7ef5be"/><stop offset="0.2500" stop-color="#7ef4bf"/><stop offset="0.2600" stop-color="#7df4c0"/><stop offset="0.2700" stop-color="#7bf4c0"/><stop offset="0.2800" stop-color="#7af4c1"/><stop offset="0.2900" stop-color="#79f4c2"/><stop offset="0.3000" stop-color="#78f3c3"/><stop offset="0.3100" stop-color="#76f3c3"/><stop offset="0.3200" stop-color="#75f3c4"/><stop offset="0.3300" stop-color="#74f3c5"/><stop offset="0.3350" stop-color="#73f3c5"/><stop offset="0.3400" stop-color="#73f3c5"/><stop offset="0.3450" stop-color="#72f3c6"/><stop offset="0.3500" stop-color="#71f2c6"/><stop offset="0.3550" stop-color="#71f2c6"/><stop offset="0.3600" stop-color="#70f2c7"/><stop offset="0.3700" stop-color="#6ff2c7"/><stop offset="0.3800" stop-color="#6ef2c7"/><stop offset="0.3900" stop-color="#6df2c8"/><stop offset="0.4000" stop-color="#6cf2c8"/><stop offset="0.4100" stop-color="#6bf2c8"/><stop offset="0.4200" stop-color="#6af2c9"/><stop offset="0.4300" stop-color="#69f2c9"/><stop offset="0.4400" stop-color="#68f2c9"/><stop offset="0.4500" stop-color="#67f2ca"/><stop offset="0.4600" stop-color="#62f0cc"/><stop offset="0.4700" stop-color="#5dedce"/><stop offset="0.4750" stop-color="#5aeccf"/><stop offset="0.4790" stop-color="#58ebd0"/><stop offset="0.4800" stop-color="#57ead1"/><stop offset="0.4810" stop-color="#57ead1"/><stop offset="0.4900" stop-color="#52e8d3"/><stop offset="0.5000" stop-color="#4de5d5"/><stop offset="0.5100" stop-color="#48e2d7"/><stop offset="0.5200" stop-color="#43e0d9"/><stop offset="0.5300" stop-color="#3ddddb"/><stop offset="0.5400" stop-color="#38dadd"/><stop offset="0.5500" stop-color="#33d8df"/><stop offset="0.5600" stop-color="#2dd5e1"/><stop offset="0.5700" stop-color="#2cd0e2"/><stop offset="0.5800" stop-color="#2bcce3"/><stop offset="0.5900" stop-color="#29c7e5"/><stop offset="0.6000" stop-color="#28c3e6"/><stop offset="0.6050" stop-color="#27c0e7"/><stop offset="0.6090" stop-color="#26bfe7"/><stop offset="0.6100" stop-color="#26bee7"/><stop offset="0.6110" stop-color="#26bee7"/><stop offset="0.6200" stop-color="#25bae8"/><stop offset="0.6300" stop-color="#27b5ea"/><stop offset="0.6400" stop-color="#28b0eb"/><stop offset="0.6500" stop-color="#2aabed"/><stop offset="0.6600" stop-color="#2ca6ee"/><stop offset="0.6700" stop-color="#2f9fef"/><stop offset="0.6800" stop-color="#3199f0"/><stop offset="0.6900" stop-color="#3492f0"/><stop offset="0.7000" stop-color="#388af0"/><stop offset="0.7100" stop-color="#3d82f0"/><stop offset="0.7200" stop-color="#407af1"/><stop offset="0.7300" stop-color="#4272f2"/><stop offset="0.7350" stop-color="#446ef2"/><stop offset="0.7390" stop-color="#456bf2"/><stop offset="0.7400" stop-color="#456af2"/><stop offset="0.7410" stop-color="#456af2"/><stop offset="0.7500" stop-color="#4764f3"/><stop offset="0.7600" stop-color="#4a5ef3"/><stop offset="0.7700" stop-color="#4c58f4"/><stop offset="0.7800" stop-color="#4c56f4"/><stop offset="0.7900" stop-color="#4c54f4"/><stop offset="0.8000" stop-color="#4c52f4"/><stop offset="0.8200" stop-color="#4c52f4"/><stop offset="0.8300" stop-color="#4c51f4"/><stop offset="0.8500" stop-color="#4c51f4"/><stop offset="0.8600" stop-color="#4b51f4"/><stop offset="0.8700" stop-color="#4b51f4"/><stop offset="0.8800" stop-color="#4b50f4"/><stop offset="0.9200" stop-color="#4b50f4"/><stop offset="0.9300" stop-color="#4b4ff4"/><stop offset="0.9500" stop-color="#4b4ff4"/><stop offset="0.9600" stop-color="#4a4ff4"/><stop offset="0.9700" stop-color="#4a4ff4"/><stop offset="0.9800" stop-color="#4a4ef4"/><stop offset="1.0000" stop-color="#4a4ef4"/></linearGradient>
<linearGradient id="g41" x1="0" x2="1" y1="0" y2="0"><stop offset="0.0000" stop-color="#ffffff"/><stop offset="0.0980" stop-color="#ffffff"/><stop offset="0.0990" stop-color="#fafffd"/><stop offset="0.1000" stop-color="#f6fefb"/><stop offset="0.1100" stop-color="#f6fefb"/><stop offset="0.1200" stop-color="#f5fefa"/><stop offset="0.1300" stop-color="#f4fefa"/><stop offset="0.1400" stop-color="#f4fef9"/><stop offset="0.1500" stop-color="#f3fef9"/><stop offset="0.1600" stop-color="#f2fef8"/><stop offset="0.1700" stop-color="#f1fef8"/><stop offset="0.1800" stop-color="#f0fef7"/><stop offset="0.1900" stop-color="#f0fef7"/><stop offset="0.2000" stop-color="#effef6"/><stop offset="0.2100" stop-color="#eefef6"/><stop offset="0.2200" stop-color="#edfef6"/><stop offset="0.2300" stop-color="#ecfdf5"/><stop offset="0.2400" stop-color="#ebfdf5"/><stop offset="0.2500" stop-color="#ddfcee"/><stop offset="0.2600" stop-color="#cffbe8"/><stop offset="0.2700" stop-color="#cdfbe7"/><stop offset="0.2800" stop-color="#cafbe6"/><stop offset="0.2900" stop-color="#c8fae6"/><stop offset="0.3000" stop-color="#c5fae5"/><stop offset="0.3100" stop-color="#c3fae5"/><stop offset="0.3200" stop-color="#c0fae4"/><stop offset="0.3300" stop-color="#bdf9e3"/><stop offset="0.3350" stop-color="#bcf9e3"/><stop offset="0.3400" stop-color="#baf9e3"/><stop offset="0.3450" stop-color="#b9f9e3"/><stop offset="0.3500" stop-color="#b8f9e2"/><stop offset="0.3550" stop-color="#b6f9e2"/><stop offset="0.3600" stop-color="#b5f8e2"/><stop offset="0.3700" stop-color="#a1f7da"/><stop offset="0.3800" stop-color="#8cf5d3"/><stop offset="0.3900" stop-color="#77f3cb"/><stop offset="0.4000" stop-color="#6ff3c9"/><stop offset="0.4100" stop-color="#66f2c6"/><stop offset="0.4200" stop-color="#65f2c7"/><stop offset="0.4300" stop-color="#64f2c7"/><stop offset="0.4400" stop-color="#63f2c8"/><stop offset="0.4500" stop-color="#62f2c8"/><stop offset="0.4600" stop-color="#5defca"/><stop offset="0.4700" stop-color="#58eccd"/><stop offset="0.4750" stop-color="#55ebce"/><stop offset="0.4790" stop-color="#53eacf"/><stop offset="0.4800" stop-color="#52eacf"/><stop offset="0.4810" stop-color="#52e9cf"/><stop offset="0.4900" stop-color="#4de7d2"/><stop offset="0.5000" stop-color="#48e4d4"/><stop offset="0.5100" stop-color="#43e1d6"/><stop offset="0.5200" stop-color="#3ddfd8"/><stop offset="0.5300" stop-color="#38dcda"/><stop offset="0.5400" stop-color="#33d9dc"/><stop offset="0.5500" stop-color="#2dd7de"/><stop offset="0.5600" stop-color="#28d4e0"/><stop offset="0.5700" stop-color="#27cfe1"/><stop offset="0.5800" stop-color="#25cbe3"/><stop offset="0.5900" stop-color="#24c6e4"/><stop offset="0.6000" stop-color="#23c1e5"/><stop offset="0.6050" stop-color="#22bfe6"/><stop offset="0.6090" stop-color="#21bde7"/><stop offset="0.6100" stop-color="#21bde7"/><stop offset="0.6110" stop-color="#21bce7"/><stop offset="0.6200" stop-color="#20b8e8"/><stop offset="0.6300" stop-color="#22b3ea"/><stop offset="0.6400" stop-color="#24aeeb"/><stop offset="0.6500" stop-color="#26a9ec"/><stop offset="0.6600" stop-color="#28a4ee"/><stop offset="0.6700" stop-color="#2b9def"/><stop offset="0.6800" stop-color="#2d97ef"/><stop offset="0.6900" stop-color="#3090f0"/><stop offset="0.7000" stop-color="#3588f0"/><stop offset="0.7100" stop-color="#3a80f0"/><stop offset="0.7200" stop-color="#3d78f1"/><stop offset="0.7300" stop-color="#3f70f1"/><stop offset="0.7350" stop-color="#416cf2"/><stop offset="0.7390" stop-color="#4269f2"/><stop offset="0.7400" stop-color="#4268f2"/><stop offset="0.7410" stop-color="#4267f2"/><stop offset="0.7500" stop-color="#4562f3"/><stop offset="0.7600" stop-color="#475cf3"/><stop offset="0.7700" stop-color="#4a56f4"/><stop offset="0.7800" stop-color="#4a54f4"/><stop offset="0.7900" stop-color="#4a52f4"/><stop offset="0.8000" stop-color="#4a50f4"/><stop offset="0.8500" stop-color="#4a50f4"/><stop offset="0.8600" stop-color="#4a4ff4"/><stop offset="0.9400" stop-color="#4a4ff4"/><stop offset="0.9500" stop-color="#4a4ef4"/><stop offset="1.0000" stop-color="#4a4ef4"/></linearGradient>
<linearGradient id="g42" x1="0" x2="1" y1="0" y2="0"><stop offset="0.0000" stop-color="#ffffff"/><stop offset="0.2400" stop-color="#ffffff"/><stop offset="0.2500" stop-color="#feffff"/><stop offset="0.2600" stop-color="#fdfffe"/><stop offset="0.2700" stop-color="#fcfffe"/><stop offset="0.2800" stop-color="#fbfffd"/><stop offset="0.2900" stop-color="#fafffd"/><stop offset="0.3000" stop-color="#f9fffc"/><stop offset="0.3100" stop-color="#f8fefc"/><stop offset="0.3200" stop-color="#f7fefc"/><stop offset="0.3300" stop-color="#f6fefb"/><stop offset="0.3350" stop-color="#f5fefb"/><stop offset="0.3400" stop-color="#f5fefb"/><stop offset="0.3450" stop-color="#f4fefa"/><stop offset="0.3500" stop-color="#f3fefa"/><stop offset="0.3550" stop-color="#f3fefa"/><stop offset="0.3600" stop-color="#f2fefa"/><stop offset="0.3700" stop-color="#f1fef9"/><stop offset="0.3800" stop-color="#effef9"/><stop offset="0.3900" stop-color="#eefef9"/><stop offset="0.4000" stop-color="#edfdf8"/><stop offset="0.4100" stop-color="#e7fdf6"/><stop offset="0.4200" stop-color="#e1fdf4"/><stop offset="0.4300" stop-color="#dcfcf2"/><stop offset="0.4400" stop-color="#d6fcf0"/><stop offset="0.4500" stop-color="#d0fbee"/><stop offset="0.4600" stop-color="#b6f8e7"/><stop offset="0.4700" stop-color="#9bf4e1"/><stop offset="0.4750" stop-color="#8cf2de"/><stop offset="0.4790" stop-color="#81efdc"/><stop offset="0.4800" stop-color="#7eefdb"/><stop offset="0.4810" stop-color="#7beedb"/><stop offset="0.4900" stop-color="#63ead7"/><stop offset="0.5000" stop-color="#48e4d4"/><stop offset="0.5100" stop-color="#43e1d6"/><stop offset="0.5200" stop-color="#3ddfd8"/><stop offset="0.5300" stop-color="#38dcda"/><stop offset="0.5400" stop-color="#33d9dc"/><stop offset="0.5500" stop-color="#2dd7de"/><stop offset="0.5600" stop-color="#28d4e0"/><stop offset="0.5700" stop-color="#27cfe1"/><stop offset="0.5800" stop-color="#25cbe3"/><stop offset="0.5900" stop-color="#24c6e4"/><stop offset="0.6000" stop-color="#23c1e5"/><stop offset="0.6050" stop-color="#22bfe6"/><stop offset="0.6090" stop-color="#21bde7"/><stop offset="0.6100" stop-color="#21bde7"/><stop offset="0.6110" stop-color="#21bce7"/><stop offset="0.6200" stop-color="#20b8e8"/><stop offset="0.6300" stop-color="#22b3ea"/><stop offset="0.6400" stop-color="#24aeeb"/><stop offset="0.6500" stop-color="#26a9ec"/><stop offset="0.6600" stop-color="#28a4ee"/><stop offset="0.6700" stop-color="#2b9def"/><stop offset="0.6800" stop-color="#2d97ef"/><stop offset="0.6900" stop-color="#3090f0"/><stop offset="0.7000" stop-color="#3588f0"/><stop offset="0.7100" stop-color="#3a80f0"/><stop offset="0.7200" stop-color="#3d78f1"/><stop offset="0.7300" stop-color="#3f70f1"/><stop offset="0.7350" stop-color="#416cf2"/><stop offset="0.7390" stop-color="#4269f2"/><stop offset="0.7400" stop-color="#4268f2"/><stop offset="0.7410" stop-color="#4267f2"/><stop offset="0.7500" stop-color="#4562f3"/><stop offset="0.7600" stop-color="#475cf3"/><stop offset="0.7700" stop-color="#4a56f4"/><stop offset="0.7800" stop-color="#4a54f4"/><stop offset="0.7900" stop-color="#4a52f4"/><stop offset="0.8000" stop-color="#4a50f4"/><stop offset="0.8500" stop-color="#4a50f4"/><stop offset="0.8600" stop-color="#4a4ff4"/><stop offset="0.9400" stop-color="#4a4ff4"/><stop offset="0.9500" stop-color="#4a4ef4"/><stop offset="1.0000" stop-color="#4a4ef4"/></linearGradient>
<linearGradient id="g43" x1="0" x2="1" y1="0" y2="0"><stop offset="0.0000" stop-color="#ffffff"/><stop offset="0.4700" stop-color="#ffffff"/><stop offset="0.4750" stop-color="#fcfffe"/><stop offset="0.4790" stop-color="#f9fefd"/><stop offset="0.4800" stop-color="#f8fefd"/><stop offset="0.4810" stop-color="#f8fefd"/><stop offset="0.4900" stop-color="#f7fefd"/><stop offset="0.5000" stop-color="#f6fefd"/><stop offset="0.5100" stop-color="#f6fefd"/><stop offset="0.5200" stop-color="#f5fdfd"/><stop offset="0.5300" stop-color="#f4fdfd"/><stop offset="0.5400" stop-color="#f3fdfd"/><stop offset="0.5500" stop-color="#f2fcfd"/><stop offset="0.5600" stop-color="#f1fcfd"/><stop offset="0.5700" stop-color="#f0fcfd"/><stop offset="0.5800" stop-color="#effbfd"/><stop offset="0.5900" stop-color="#eefbfd"/><stop offset="0.6000" stop-color="#edfafd"/><stop offset="0.6050" stop-color="#93e0f3"/><stop offset="0.6090" stop-color="#4ac9eb"/><stop offset="0.6100" stop-color="#37c3e9"/><stop offset="0.6110" stop-color="#37c3e9"/><stop offset="0.6200" stop-color="#35bfea"/><stop offset="0.6300" stop-color="#36baeb"/><stop offset="0.6400" stop-color="#36b5ed"/><stop offset="0.6500" stop-color="#37b0ee"/><stop offset="0.6600" stop-color="#38abef"/><stop offset="0.6700" stop-color="#39a4f0"/><stop offset="0.6800" stop-color="#3a9df0"/><stop offset="0.6900" stop-color="#3c96f1"/><stop offset="0.7000" stop-color="#3f8ef1"/><stop offset="0.7100" stop-color="#4486f1"/><stop offset="0.7200" stop-color="#467ff1"/><stop offset="0.7300" stop-color="#4977f2"/><stop offset="0.7350" stop-color="#4a73f2"/><stop offset="0.7390" stop-color="#4b70f3"/><stop offset="0.7400" stop-color="#4b6ff3"/><stop offset="0.7410" stop-color="#4b6ff3"/><stop offset="0.7500" stop-color="#4d69f3"/><stop offset="0.7600" stop-color="#5063f4"/><stop offset="0.7700" stop-color="#525ef4"/><stop offset="0.7800" stop-color="#525cf4"/><stop offset="0.7900" stop-color="#525af4"/><stop offset="0.8000" stop-color="#5258f4"/><stop offset="0.8100" stop-color="#5257f4"/><stop offset="0.8200" stop-color="#5257f4"/><stop offset="0.8300" stop-color="#5157f4"/><stop offset="0.8500" stop-color="#5157f4"/><stop offset="0.8600" stop-color="#5156f4"/><stop offset="0.8900" stop-color="#5156f4"/><stop offset="0.9000" stop-color="#5155f4"/><stop offset="0.9100" stop-color="#5155f4"/><stop offset="0.9200" stop-color="#5055f4"/><stop offset="0.9400" stop-color="#5055f4"/><stop offset="0.9500" stop-color="#5054f4"/><stop offset="0.9900" stop-color="#5054f4"/><stop offset="1.0000" stop-color="#4f53f4"/></linearGradient>
<linearGradient id="g44" x1="0" x2="1" y1="0" y2="0"><stop offset="0.0000" stop-color="#ffffff"/><stop offset="0.6000" stop-color="#ffffff"/><stop offset="0.6050" stop-color="#fbfefe"/><stop offset="0.6090" stop-color="#f7fdfe"/><stop offset="0.6100" stop-color="#f6fcfe"/><stop offset="0.6200" stop-color="#f6fcfe"/><stop offset="0.6300" stop-color="#f5fcfe"/><stop offset="0.6400" stop-color="#f5fbfe"/><stop offset="0.6600" stop-color="#f5fbfe"/><stop offset="0.6700" stop-color="#f5fafe"/><stop offset="0.6800" stop-color="#f4fafe"/><stop offset="0.6900" stop-color="#f4f9fe"/><stop offset="0.7000" stop-color="#f4f9fe"/><stop offset="0.7100" stop-color="#f4f8fe"/><stop offset="0.7200" stop-color="#f4f7fe"/><stop offset="0.7300" stop-color="#f4f7fe"/><stop offset="0.7350" stop-color="#f4f6fe"/><stop offset="0.7390" stop-color="#e0e6fd"/><stop offset="0.7400" stop-color="#ccd6fb"/><stop offset="0.7410" stop-color="#b8c6fa"/><stop offset="0.7500" stop-color="#5772f4"/><stop offset="0.7600" stop-color="#596cf4"/><stop offset="0.7700" stop-color="#5b66f5"/><stop offset="0.7800" stop-color="#5b64f5"/><stop offset="0.7900" stop-color="#5b62f5"/><stop offset="0.8000" stop-color="#5a60f5"/><stop offset="0.8100" stop-color="#5a5ff5"/><stop offset="0.8200" stop-color="#5a5ff5"/><stop offset="0.8300" stop-color="#595ef5"/><stop offset="0.8400" stop-color="#595ef5"/><stop offset="0.8500" stop-color="#585ef5"/><stop offset="0.8600" stop-color="#585df5"/><stop offset="0.8900" stop-color="#585df5"/><stop offset="0.9000" stop-color="#585cf5"/><stop offset="0.9300" stop-color="#585cf5"/><stop offset="0.9400" stop-color="#575cf5"/><stop offset="0.9500" stop-color="#575bf5"/><stop offset="0.9900" stop-color="#575bf5"/><stop offset="1.0000" stop-color="#575af5"/></linearGradient>
<linearGradient id="wb" gradientUnits="userSpaceOnUse" x1="449" y1="0" x2="534" y2="0"><stop offset="0" stop-color="#0000ff" stop-opacity="0.85"/><stop offset="0.5" stop-color="#2222ff" stop-opacity="0.5"/><stop offset="1" stop-color="#0000ff" stop-opacity="0"/></linearGradient>
<linearGradient id="wr" gradientUnits="userSpaceOnUse" x1="444" y1="0" x2="523" y2="0"><stop offset="0" stop-color="#ff0000" stop-opacity="0.9"/><stop offset="0.5" stop-color="#ff1111" stop-opacity="0.55"/><stop offset="1" stop-color="#ff0000" stop-opacity="0"/></linearGradient>
<linearGradient id="cbg" x1="0" y1="1" x2="0" y2="0"><stop offset="0.000" stop-color="#ffffff"/><stop offset="0.125" stop-color="#f0f0f0"/><stop offset="0.250" stop-color="#d9d9d9"/><stop offset="0.375" stop-color="#bdbdbd"/><stop offset="0.500" stop-color="#969696"/><stop offset="0.625" stop-color="#737373"/><stop offset="0.750" stop-color="#525252"/><stop offset="0.875" stop-color="#252525"/><stop offset="1.000" stop-color="#000000"/></linearGradient>
<linearGradient id="cbr" x1="0" y1="1" x2="0" y2="0"><stop offset="0.000" stop-color="#8000ff"/><stop offset="0.050" stop-color="#6628fe"/><stop offset="0.100" stop-color="#4c4ffc"/><stop offset="0.150" stop-color="#3374f8"/><stop offset="0.200" stop-color="#1996f3"/><stop offset="0.250" stop-color="#00b4ec"/><stop offset="0.300" stop-color="#19cee3"/><stop offset="0.350" stop-color="#33e3d9"/><stop offset="0.400" stop-color="#4df3ce"/><stop offset="0.450" stop-color="#66fcc2"/><stop offset="0.500" stop-color="#80ffb4"/><stop offset="0.550" stop-color="#99fca6"/><stop offset="0.600" stop-color="#b2f396"/><stop offset="0.650" stop-color="#cce385"/><stop offset="0.700" stop-color="#e5ce74"/><stop offset="0.750" stop-color="#ffb462"/><stop offset="0.800" stop-color="#ff964f"/><stop offset="0.850" stop-color="#ff743c"/><stop offset="0.900" stop-color="#ff4f28"/><stop offset="0.950" stop-color="#ff2814"/><stop offset="1.000" stop-color="#ff0000"/></linearGradient></defs>
<rect width="685" height="512" fill="#fff"/>
<rect x="74.30" y="120.50" width="410.00" height="10.35" fill="url(#g1)" shape-rendering="crispEdges"/>
<rect x="74.30" y="110.20" width="410.00" height="10.35" fill="url(#g2)" shape-rendering="crispEdges"/>
<rect x="74.30" y="99.90" width="410.00" height="10.35" fill="url(#g3)" shape-rendering="crispEdges"/>
<rect x="74.30" y="89.60" width="410.00" height="10.35" fill="url(#g4)" shape-rendering="crispEdges"/>
<rect x="74.30" y="79.30" width="410.00" height="10.35" fill="url(#g5)" shape-rendering="crispEdges"/>
<rect x="74.30" y="69.00" width="410.00" height="10.35" fill="url(#g6)" shape-rendering="crispEdges"/>
<rect x="74.30" y="58.70" width="410.00" height="10.35" fill="url(#g7)" shape-rendering="crispEdges"/>
<rect x="74.30" y="48.40" width="410.00" height="10.35" fill="url(#g8)" shape-rendering="crispEdges"/>
<rect x="74.30" y="38.10" width="410.00" height="10.35" fill="url(#g9)" shape-rendering="crispEdges"/>
<rect x="74.30" y="27.80" width="410.00" height="10.35" fill="url(#g10)" shape-rendering="crispEdges"/>
<rect x="74.30" y="16.10" width="410.00" height="11.75" fill="url(#g11)" shape-rendering="crispEdges"/>
<rect x="74.30" y="235.07" width="410.00" height="10.48" fill="url(#g12)" shape-rendering="crispEdges"/>
<rect x="74.30" y="224.65" width="410.00" height="10.48" fill="url(#g13)" shape-rendering="crispEdges"/>
<rect x="74.30" y="214.22" width="410.00" height="10.48" fill="url(#g14)" shape-rendering="crispEdges"/>
<rect x="74.30" y="203.79" width="410.00" height="10.48" fill="url(#g15)" shape-rendering="crispEdges"/>
<rect x="74.30" y="193.36" width="410.00" height="10.48" fill="url(#g16)" shape-rendering="crispEdges"/>
<rect x="74.30" y="182.94" width="410.00" height="10.48" fill="url(#g17)" shape-rendering="crispEdges"/>
<rect x="74.30" y="172.51" width="410.00" height="10.48" fill="url(#g18)" shape-rendering="crispEdges"/>
<rect x="74.30" y="162.08" width="410.00" height="10.48" fill="url(#g19)" shape-rendering="crispEdges"/>
<rect x="74.30" y="151.65" width="410.00" height="10.48" fill="url(#g20)" shape-rendering="crispEdges"/>
<rect x="74.30" y="141.23" width="410.00" height="10.48" fill="url(#g21)" shape-rendering="crispEdges"/>
<rect x="74.30" y="130.80" width="410.00" height="10.48" fill="url(#g22)" shape-rendering="crispEdges"/>
<rect x="74.30" y="349.77" width="410.00" height="10.48" fill="url(#g23)" shape-rendering="crispEdges"/>
<rect x="74.30" y="339.35" width="410.00" height="10.48" fill="url(#g24)" shape-rendering="crispEdges"/>
<rect x="74.30" y="328.92" width="410.00" height="10.48" fill="url(#g25)" shape-rendering="crispEdges"/>
<rect x="74.30" y="318.49" width="410.00" height="10.48" fill="url(#g26)" shape-rendering="crispEdges"/>
<rect x="74.30" y="308.06" width="410.00" height="10.48" fill="url(#g27)" shape-rendering="crispEdges"/>
<rect x="74.30" y="297.64" width="410.00" height="10.48" fill="url(#g28)" shape-rendering="crispEdges"/>
<rect x="74.30" y="287.21" width="410.00" height="10.48" fill="url(#g29)" shape-rendering="crispEdges"/>
<rect x="74.30" y="276.78" width="410.00" height="10.48" fill="url(#g30)" shape-rendering="crispEdges"/>
<rect x="74.30" y="266.35" width="410.00" height="10.48" fill="url(#g31)" shape-rendering="crispEdges"/>
<rect x="74.30" y="255.93" width="410.00" height="10.48" fill="url(#g32)" shape-rendering="crispEdges"/>
<rect x="74.30" y="245.50" width="410.00" height="10.48" fill="url(#g33)" shape-rendering="crispEdges"/>
<rect x="74.30" y="464.47" width="410.00" height="10.48" fill="url(#g34)" shape-rendering="crispEdges"/>
<rect x="74.30" y="454.05" width="410.00" height="10.48" fill="url(#g35)" shape-rendering="crispEdges"/>
<rect x="74.30" y="443.62" width="410.00" height="10.48" fill="url(#g36)" shape-rendering="crispEdges"/>
<rect x="74.30" y="433.19" width="410.00" height="10.48" fill="url(#g37)" shape-rendering="crispEdges"/>
<rect x="74.30" y="422.76" width="410.00" height="10.48" fill="url(#g38)" shape-rendering="crispEdges"/>
<rect x="74.30" y="412.34" width="410.00" height="10.48" fill="url(#g39)" shape-rendering="crispEdges"/>
<rect x="74.30" y="401.91" width="410.00" height="10.48" fill="url(#g40)" shape-rendering="crispEdges"/>
<rect x="74.30" y="391.48" width="410.00" height="10.48" fill="url(#g41)" shape-rendering="crispEdges"/>
<rect x="74.30" y="381.05" width="410.00" height="10.48" fill="url(#g42)" shape-rendering="crispEdges"/>
<rect x="74.30" y="370.63" width="410.00" height="10.48" fill="url(#g43)" shape-rendering="crispEdges"/>
<rect x="74.30" y="360.20" width="410.00" height="10.48" fill="url(#g44)" shape-rendering="crispEdges"/>
<rect x="74.30" y="16.10" width="410.00" height="458.80" fill="#fff" opacity="0" />
<rect x="74.30" y="16.10" width="1.0" height="114.70" fill="#e4e4e4"/>
<line x1="115.30" y1="17.10" x2="115.30" y2="130.30" stroke="#d6d6d6" stroke-width="0.9" stroke-dasharray="1.7,1.6"/>
<line x1="156.30" y1="17.10" x2="156.30" y2="130.30" stroke="#d6d6d6" stroke-width="0.9" stroke-dasharray="1.7,1.6"/>
<line x1="197.30" y1="17.10" x2="197.30" y2="130.30" stroke="#d6d6d6" stroke-width="0.9" stroke-dasharray="1.7,1.6"/>
<line x1="238.30" y1="17.10" x2="238.30" y2="130.30" stroke="#d6d6d6" stroke-width="0.9" stroke-dasharray="1.7,1.6"/>
<line x1="279.30" y1="17.10" x2="279.30" y2="130.30" stroke="#d6d6d6" stroke-width="0.9" stroke-dasharray="1.7,1.6"/>
<line x1="320.30" y1="17.10" x2="320.30" y2="130.30" stroke="#d6d6d6" stroke-width="0.9" stroke-dasharray="1.7,1.6"/>
<line x1="361.30" y1="17.10" x2="361.30" y2="130.30" stroke="#d6d6d6" stroke-width="0.9" stroke-dasharray="1.7,1.6"/>
<line x1="402.30" y1="17.10" x2="402.30" y2="130.30" stroke="#d6d6d6" stroke-width="0.9" stroke-dasharray="1.7,1.6"/>
<line x1="443.30" y1="17.10" x2="443.30" y2="130.30" stroke="#d6d6d6" stroke-width="0.9" stroke-dasharray="1.7,1.6"/>
<rect x="74.30" y="130.80" width="1.0" height="72.99" fill="#a8d4f4"/>
<line x1="115.30" y1="131.80" x2="115.30" y2="245.00" stroke="#d6d6d6" stroke-width="0.9" stroke-dasharray="1.7,1.6"/>
<line x1="156.30" y1="131.80" x2="156.30" y2="245.00" stroke="#d6d6d6" stroke-width="0.9" stroke-dasharray="1.7,1.6"/>
<line x1="197.30" y1="131.80" x2="197.30" y2="245.00" stroke="#d6d6d6" stroke-width="0.9" stroke-dasharray="1.7,1.6"/>
<line x1="238.30" y1="131.80" x2="238.30" y2="245.00" stroke="#d6d6d6" stroke-width="0.9" stroke-dasharray="1.7,1.6"/>
<line x1="279.30" y1="131.80" x2="279.30" y2="245.00" stroke="#d6d6d6" stroke-width="0.9" stroke-dasharray="1.7,1.6"/>
<line x1="320.30" y1="131.80" x2="320.30" y2="245.00" stroke="#d6d6d6" stroke-width="0.9" stroke-dasharray="1.7,1.6"/>
<line x1="361.30" y1="131.80" x2="361.30" y2="245.00" stroke="#d6d6d6" stroke-width="0.9" stroke-dasharray="1.7,1.6"/>
<line x1="402.30" y1="131.80" x2="402.30" y2="245.00" stroke="#d6d6d6" stroke-width="0.9" stroke-dasharray="1.7,1.6"/>
<line x1="443.30" y1="131.80" x2="443.30" y2="245.00" stroke="#d6d6d6" stroke-width="0.9" stroke-dasharray="1.7,1.6"/>
<rect x="74.30" y="245.50" width="1.0" height="72.99" fill="#b0eef0"/>
<line x1="115.30" y1="246.50" x2="115.30" y2="359.70" stroke="#d6d6d6" stroke-width="0.9" stroke-dasharray="1.7,1.6"/>
<line x1="156.30" y1="246.50" x2="156.30" y2="359.70" stroke="#d6d6d6" stroke-width="0.9" stroke-dasharray="1.7,1.6"/>
<line x1="197.30" y1="246.50" x2="197.30" y2="359.70" stroke="#d6d6d6" stroke-width="0.9" stroke-dasharray="1.7,1.6"/>
<line x1="238.30" y1="246.50" x2="238.30" y2="359.70" stroke="#d6d6d6" stroke-width="0.9" stroke-dasharray="1.7,1.6"/>
<line x1="279.30" y1="246.50" x2="279.30" y2="359.70" stroke="#d6d6d6" stroke-width="0.9" stroke-dasharray="1.7,1.6"/>
<line x1="320.30" y1="246.50" x2="320.30" y2="359.70" stroke="#d6d6d6" stroke-width="0.9" stroke-dasharray="1.7,1.6"/>
<line x1="361.30" y1="246.50" x2="361.30" y2="359.70" stroke="#d6d6d6" stroke-width="0.9" stroke-dasharray="1.7,1.6"/>
<line x1="402.30" y1="246.50" x2="402.30" y2="359.70" stroke="#d6d6d6" stroke-width="0.9" stroke-dasharray="1.7,1.6"/>
<line x1="443.30" y1="246.50" x2="443.30" y2="359.70" stroke="#d6d6d6" stroke-width="0.9" stroke-dasharray="1.7,1.6"/>
<rect x="74.30" y="360.20" width="1.0" height="72.99" fill="#b0eef0"/>
<line x1="115.30" y1="361.20" x2="115.30" y2="474.40" stroke="#d6d6d6" stroke-width="0.9" stroke-dasharray="1.7,1.6"/>
<line x1="156.30" y1="361.20" x2="156.30" y2="474.40" stroke="#d6d6d6" stroke-width="0.9" stroke-dasharray="1.7,1.6"/>
<line x1="197.30" y1="361.20" x2="197.30" y2="474.40" stroke="#d6d6d6" stroke-width="0.9" stroke-dasharray="1.7,1.6"/>
<line x1="238.30" y1="361.20" x2="238.30" y2="474.40" stroke="#d6d6d6" stroke-width="0.9" stroke-dasharray="1.7,1.6"/>
<line x1="279.30" y1="361.20" x2="279.30" y2="474.40" stroke="#d6d6d6" stroke-width="0.9" stroke-dasharray="1.7,1.6"/>
<line x1="320.30" y1="361.20" x2="320.30" y2="474.40" stroke="#d6d6d6" stroke-width="0.9" stroke-dasharray="1.7,1.6"/>
<line x1="361.30" y1="361.20" x2="361.30" y2="474.40" stroke="#d6d6d6" stroke-width="0.9" stroke-dasharray="1.7,1.6"/>
<line x1="402.30" y1="361.20" x2="402.30" y2="474.40" stroke="#d6d6d6" stroke-width="0.9" stroke-dasharray="1.7,1.6"/>
<line x1="443.30" y1="361.20" x2="443.30" y2="474.40" stroke="#d6d6d6" stroke-width="0.9" stroke-dasharray="1.7,1.6"/>
<rect x="71.1" y="120.50" width="3.0" height="10.30" fill="#9a9a9a" shape-rendering="crispEdges"/>
<rect x="71.1" y="110.20" width="3.0" height="10.30" fill="#f4f4f4" shape-rendering="crispEdges"/>
<rect x="71.1" y="99.90" width="3.0" height="10.30" fill="#9a9a9a" shape-rendering="crispEdges"/>
<rect x="71.1" y="89.60" width="3.0" height="10.30" fill="#f4f4f4" shape-rendering="crispEdges"/>
<rect x="71.1" y="79.30" width="3.0" height="10.30" fill="#9a9a9a" shape-rendering="crispEdges"/>
<rect x="71.1" y="69.00" width="3.0" height="10.30" fill="#f4f4f4" shape-rendering="crispEdges"/>
<rect x="71.1" y="58.70" width="3.0" height="10.30" fill="#9a9a9a" shape-rendering="crispEdges"/>
<rect x="71.1" y="48.40" width="3.0" height="10.30" fill="#f4f4f4" shape-rendering="crispEdges"/>
<rect x="71.1" y="38.10" width="3.0" height="10.30" fill="#9a9a9a" shape-rendering="crispEdges"/>
<rect x="71.1" y="27.80" width="3.0" height="10.30" fill="#f4f4f4" shape-rendering="crispEdges"/>
<rect x="71.1" y="16.10" width="3.0" height="11.70" fill="#9a9a9a" shape-rendering="crispEdges"/>
<line x1="67.8" y1="27.80" x2="73.8" y2="27.80" stroke="#000" stroke-width="1.5"/>
<line x1="67.8" y1="38.10" x2="73.8" y2="38.10" stroke="#000" stroke-width="1.5"/>
<line x1="67.8" y1="48.40" x2="73.8" y2="48.40" stroke="#000" stroke-width="1.5"/>
<line x1="67.8" y1="58.70" x2="73.8" y2="58.70" stroke="#000" stroke-width="1.5"/>
<line x1="67.8" y1="69.00" x2="73.8" y2="69.00" stroke="#000" stroke-width="1.5"/>
<line x1="67.8" y1="79.30" x2="73.8" y2="79.30" stroke="#000" stroke-width="1.5"/>
<line x1="67.8" y1="89.60" x2="73.8" y2="89.60" stroke="#000" stroke-width="1.5"/>
<line x1="67.8" y1="99.90" x2="73.8" y2="99.90" stroke="#000" stroke-width="1.5"/>
<line x1="67.8" y1="110.20" x2="73.8" y2="110.20" stroke="#000" stroke-width="1.5"/>
<line x1="67.8" y1="120.50" x2="73.8" y2="120.50" stroke="#000" stroke-width="1.5"/>
<rect x="71.1" y="235.07" width="3.0" height="10.43" fill="#9a9a9a" shape-rendering="crispEdges"/>
<rect x="71.1" y="224.65" width="3.0" height="10.43" fill="#9a9a9a" shape-rendering="crispEdges"/>
<rect x="71.1" y="214.22" width="3.0" height="10.43" fill="#9a9a9a" shape-rendering="crispEdges"/>
<rect x="71.1" y="203.79" width="3.0" height="10.43" fill="#9a9a9a" shape-rendering="crispEdges"/>
<rect x="71.1" y="193.36" width="3.0" height="10.43" fill="#9a9a9a" shape-rendering="crispEdges"/>
<rect x="71.1" y="182.94" width="3.0" height="10.43" fill="#9a9a9a" shape-rendering="crispEdges"/>
<rect x="71.1" y="172.51" width="3.0" height="10.43" fill="#9a9a9a" shape-rendering="crispEdges"/>
<rect x="71.1" y="162.08" width="3.0" height="10.43" fill="#9a9a9a" shape-rendering="crispEdges"/>
<rect x="71.1" y="151.65" width="3.0" height="10.43" fill="#9a9a9a" shape-rendering="crispEdges"/>
<rect x="71.1" y="141.23" width="3.0" height="10.43" fill="#9a9a9a" shape-rendering="crispEdges"/>
<rect x="71.1" y="130.80" width="3.0" height="10.43" fill="#9a9a9a" shape-rendering="crispEdges"/>
<line x1="67.8" y1="141.23" x2="73.8" y2="141.23" stroke="#000" stroke-width="1.5"/>
<line x1="67.8" y1="151.65" x2="73.8" y2="151.65" stroke="#000" stroke-width="1.5"/>
<line x1="67.8" y1="162.08" x2="73.8" y2="162.08" stroke="#000" stroke-width="1.5"/>
<line x1="67.8" y1="172.51" x2="73.8" y2="172.51" stroke="#000" stroke-width="1.5"/>
<line x1="67.8" y1="182.94" x2="73.8" y2="182.94" stroke="#000" stroke-width="1.5"/>
<line x1="67.8" y1="193.36" x2="73.8" y2="193.36" stroke="#000" stroke-width="1.5"/>
<line x1="67.8" y1="203.79" x2="73.8" y2="203.79" stroke="#000" stroke-width="1.5"/>
<line x1="67.8" y1="214.22" x2="73.8" y2="214.22" stroke="#000" stroke-width="1.5"/>
<line x1="67.8" y1="224.65" x2="73.8" y2="224.65" stroke="#000" stroke-width="1.5"/>
<line x1="67.8" y1="235.07" x2="73.8" y2="235.07" stroke="#000" stroke-width="1.5"/>
<rect x="71.1" y="349.77" width="3.0" height="10.43" fill="#9a9a9a" shape-rendering="crispEdges"/>
<rect x="71.1" y="339.35" width="3.0" height="10.43" fill="#9a9a9a" shape-rendering="crispEdges"/>
<rect x="71.1" y="328.92" width="3.0" height="10.43" fill="#9a9a9a" shape-rendering="crispEdges"/>
<rect x="71.1" y="318.49" width="3.0" height="10.43" fill="#9a9a9a" shape-rendering="crispEdges"/>
<rect x="71.1" y="308.06" width="3.0" height="10.43" fill="#9a9a9a" shape-rendering="crispEdges"/>
<rect x="71.1" y="297.64" width="3.0" height="10.43" fill="#9a9a9a" shape-rendering="crispEdges"/>
<rect x="71.1" y="287.21" width="3.0" height="10.43" fill="#9a9a9a" shape-rendering="crispEdges"/>
<rect x="71.1" y="276.78" width="3.0" height="10.43" fill="#9a9a9a" shape-rendering="crispEdges"/>
<rect x="71.1" y="266.35" width="3.0" height="10.43" fill="#9a9a9a" shape-rendering="crispEdges"/>
<rect x="71.1" y="255.93" width="3.0" height="10.43" fill="#9a9a9a" shape-rendering="crispEdges"/>
<rect x="71.1" y="245.50" width="3.0" height="10.43" fill="#9a9a9a" shape-rendering="crispEdges"/>
<line x1="67.8" y1="255.93" x2="73.8" y2="255.93" stroke="#000" stroke-width="1.5"/>
<line x1="67.8" y1="266.35" x2="73.8" y2="266.35" stroke="#000" stroke-width="1.5"/>
<line x1="67.8" y1="276.78" x2="73.8" y2="276.78" stroke="#000" stroke-width="1.5"/>
<line x1="67.8" y1="287.21" x2="73.8" y2="287.21" stroke="#000" stroke-width="1.5"/>
<line x1="67.8" y1="297.64" x2="73.8" y2="297.64" stroke="#000" stroke-width="1.5"/>
<line x1="67.8" y1="308.06" x2="73.8" y2="308.06" stroke="#000" stroke-width="1.5"/>
<line x1="67.8" y1="318.49" x2="73.8" y2="318.49" stroke="#000" stroke-width="1.5"/>
<line x1="67.8" y1="328.92" x2="73.8" y2="328.92" stroke="#000" stroke-width="1.5"/>
<line x1="67.8" y1="339.35" x2="73.8" y2="339.35" stroke="#000" stroke-width="1.5"/>
<line x1="67.8" y1="349.77" x2="73.8" y2="349.77" stroke="#000" stroke-width="1.5"/>
<rect x="71.1" y="464.47" width="3.0" height="10.43" fill="#9a9a9a" shape-rendering="crispEdges"/>
<rect x="71.1" y="454.05" width="3.0" height="10.43" fill="#9a9a9a" shape-rendering="crispEdges"/>
<rect x="71.1" y="443.62" width="3.0" height="10.43" fill="#9a9a9a" shape-rendering="crispEdges"/>
<rect x="71.1" y="433.19" width="3.0" height="10.43" fill="#9a9a9a" shape-rendering="crispEdges"/>
<rect x="71.1" y="422.76" width="3.0" height="10.43" fill="#9a9a9a" shape-rendering="crispEdges"/>
<rect x="71.1" y="412.34" width="3.0" height="10.43" fill="#9a9a9a" shape-rendering="crispEdges"/>
<rect x="71.1" y="401.91" width="3.0" height="10.43" fill="#9a9a9a" shape-rendering="crispEdges"/>
<rect x="71.1" y="391.48" width="3.0" height="10.43" fill="#9a9a9a" shape-rendering="crispEdges"/>
<rect x="71.1" y="381.05" width="3.0" height="10.43" fill="#9a9a9a" shape-rendering="crispEdges"/>
<rect x="71.1" y="370.63" width="3.0" height="10.43" fill="#9a9a9a" shape-rendering="crispEdges"/>
<rect x="71.1" y="360.20" width="3.0" height="10.43" fill="#9a9a9a" shape-rendering="crispEdges"/>
<line x1="67.8" y1="370.63" x2="73.8" y2="370.63" stroke="#000" stroke-width="1.5"/>
<line x1="67.8" y1="381.05" x2="73.8" y2="381.05" stroke="#000" stroke-width="1.5"/>
<line x1="67.8" y1="391.48" x2="73.8" y2="391.48" stroke="#000" stroke-width="1.5"/>
<line x1="67.8" y1="401.91" x2="73.8" y2="401.91" stroke="#000" stroke-width="1.5"/>
<line x1="67.8" y1="412.34" x2="73.8" y2="412.34" stroke="#000" stroke-width="1.5"/>
<line x1="67.8" y1="422.76" x2="73.8" y2="422.76" stroke="#000" stroke-width="1.5"/>
<line x1="67.8" y1="433.19" x2="73.8" y2="433.19" stroke="#000" stroke-width="1.5"/>
<line x1="67.8" y1="443.62" x2="73.8" y2="443.62" stroke="#000" stroke-width="1.5"/>
<line x1="67.8" y1="454.05" x2="73.8" y2="454.05" stroke="#000" stroke-width="1.5"/>
<line x1="67.8" y1="464.47" x2="73.8" y2="464.47" stroke="#000" stroke-width="1.5"/>
<path d="M74.6,127.0 L76.4,126.4 L78.2,126.4 L80.0,125.8 L82.0,126.3 L84.0,126.5 L86.0,125.3 L88.0,124.7 L91.0,126.4 L94.0,126.3 L97.0,126.7 L100.0,127.9 L101.9,126.9 L103.8,126.9 L105.5,124.7 L107.2,123.2 L109.0,121.6 L110.7,121.2 L112.5,119.7 L114.2,117.5 L117.0,113.6 L119.0,112.5 L121.0,110.7 L122.9,111.1 L124.7,110.4 L126.6,109.7 L128.3,109.0 L130.1,109.6 L131.8,108.8 L133.6,108.8 L135.2,108.8 L136.8,108.4 L138.4,108.4 L140.0,107.6 L141.7,107.9 L143.3,107.4 L145.0,107.8 L146.7,107.6 L148.3,106.6 L150.0,106.5 L151.7,106.3 L153.3,107.0 L155.0,106.1 L156.7,106.4 L158.3,106.0 L160.0,106.2 L161.7,105.6 L163.3,105.1 L165.0,104.9 L166.7,104.8 L168.3,105.1 L170.0,104.7 L171.7,104.9 L173.3,104.7 L175.0,104.8 L176.7,104.1 L178.3,103.1 L180.0,103.6 L181.7,103.8 L183.3,103.7 L185.0,103.3 L188.0,105.5 L189.7,105.0 L191.3,105.9 L193.0,105.7 L194.7,104.9 L196.3,104.1 L198.0,104.6 L199.8,104.8 L201.5,103.7 L203.2,104.6 L205.0,104.1 L207.0,103.8 L209.0,104.1 L211.0,104.7 L212.8,105.0 L214.6,104.1 L216.4,105.0 L218.2,104.4 L220.0,105.4 L221.7,104.6 L223.3,104.9 L225.0,104.7 L226.7,103.8 L228.3,104.0 L230.0,102.9 L231.7,102.3 L233.3,102.7 L235.0,101.8 L236.7,101.7 L238.3,101.7 L240.0,101.7 L241.7,101.1 L243.3,100.9 L245.0,101.7 L246.7,101.0 L248.3,101.7 L250.0,101.5 L251.7,100.6 L253.3,100.5 L255.0,100.3 L256.7,100.2 L258.3,99.9 L260.0,99.7 L261.7,99.5 L263.3,99.7 L265.0,99.0 L266.7,98.7 L268.3,98.9 L270.0,98.1 L271.7,98.3 L273.3,99.2 L275.0,98.7 L276.7,98.9 L278.3,98.3 L280.0,98.9 L281.7,98.4 L283.3,97.0 L285.0,97.0 L286.7,96.3 L288.3,94.8 L290.0,94.7 L291.7,94.2 L293.3,94.1 L295.0,93.5 L296.7,93.6 L298.3,93.4 L300.0,92.2 L301.7,91.8 L303.3,92.1 L305.0,92.0 L306.7,91.2 L308.3,91.6 L310.0,91.9 L311.6,91.5 L313.2,91.5 L314.8,91.3 L316.4,91.3 L318.0,91.5 L319.8,90.3 L321.5,89.6 L323.2,89.3 L325.0,87.5 L326.7,87.4 L328.3,86.8 L330.0,85.5 L331.7,84.7 L333.3,84.7 L335.0,83.3 L336.7,83.2 L338.3,83.5 L340.0,83.8 L341.7,83.5 L343.3,84.1 L345.0,84.5 L346.7,85.0 L348.3,84.4 L350.0,84.8 L351.7,83.4 L353.3,83.1 L355.0,82.9 L356.7,82.2 L358.3,80.6 L360.0,79.4 L361.7,78.5 L363.3,78.3 L365.0,77.2 L366.7,76.9 L368.3,75.9 L370.0,74.1 L371.7,73.2 L373.3,72.9 L375.0,71.7 L376.7,70.2 L378.3,67.9 L380.0,66.0 L382.0,66.2 L384.0,66.8 L386.0,66.5 L388.0,66.9 L390.0,67.3 L391.6,66.8 L393.2,66.2 L394.8,66.3 L396.4,64.8 L398.0,64.1 L399.8,65.0 L401.5,64.8 L403.2,64.7 L405.0,63.8 L406.8,64.0 L408.5,63.6 L410.2,62.4 L412.0,62.6 L413.6,62.6 L415.2,62.3 L416.8,62.1 L418.4,61.7 L420.0,61.7 L421.7,61.0 L423.3,60.2 L425.0,60.3 L426.7,60.1 L428.3,60.8 L430.0,60.1 L431.7,61.0 L433.3,60.6 L435.0,60.7 L436.7,60.3 L438.3,60.0 L440.0,59.3 L441.7,58.3 L443.3,58.8 L445.0,57.8 L446.7,58.1 L448.3,58.7 L450.0,58.6 L451.7,58.0 L453.3,58.2 L455.0,57.3 L456.7,57.2 L458.3,57.3 L460.0,58.2 L461.7,57.9 L463.3,58.4 L465.0,58.0 L466.7,58.2 L468.3,58.9 L470.0,59.6 L471.7,58.5 L473.3,58.9 L475.0,58.7 L476.7,58.7 L478.3,58.9 L480.0,58.0 L481.8,59.1 L483.5,59.2" fill="none" stroke="#ff00ff" stroke-width="4.2" stroke-linejoin="round" stroke-linecap="butt"/>
<path d="M74.3,221.0 L74.8,228.7 L77.0,232.0 L78.7,232.6 L80.3,232.6 L82.0,232.8 L83.6,233.4 L85.3,234.3 L87.0,234.3 L88.7,234.5 L90.3,234.0 L92.0,234.5 L93.8,234.4 L95.5,234.5 L97.3,234.6 L99.1,235.0 L101.4,234.3 L103.7,232.6 L106.8,225.9 L108.4,225.0 L110.0,223.4 L112.0,223.2 L114.0,223.2 L116.0,221.6 L118.0,220.1 L120.0,220.5 L122.0,219.8 L124.0,220.8 L126.0,221.2 L128.0,220.0 L130.0,218.5 L132.0,220.6 L134.0,221.9 L136.0,223.2 L138.0,223.4 L140.0,223.5 L142.0,223.6 L144.0,223.9 L146.0,223.1 L148.0,223.2 L150.0,222.8 L152.0,221.4 L154.0,220.2 L157.0,219.0 L160.0,221.3 L161.7,221.7 L163.3,222.5 L165.0,223.8 L166.7,223.0 L168.3,223.1 L170.0,224.0 L171.7,223.7 L173.3,224.2 L175.0,224.4 L176.7,224.5 L178.3,225.7 L180.0,225.0 L181.7,225.9 L183.3,226.2 L185.0,227.3 L186.7,228.0 L188.3,229.3 L190.0,230.9 L191.7,230.4 L193.3,230.7 L195.0,231.1 L196.7,229.6 L198.3,229.1 L200.0,228.8 L201.7,229.6 L203.3,229.5 L205.0,229.2 L206.7,229.7 L208.3,229.8 L210.0,230.6 L211.7,229.4 L213.3,229.4 L215.0,229.0 L216.7,228.6 L218.3,227.8 L220.0,227.7 L221.7,226.3 L223.3,226.4 L225.0,227.1 L226.7,226.3 L228.3,225.4 L230.0,225.5 L231.7,224.9 L233.3,225.0 L235.0,224.2 L236.7,224.4 L238.3,225.0 L240.0,225.0 L241.7,225.4 L243.3,226.3 L245.0,225.7 L246.7,225.4 L248.3,225.6 L250.0,225.8 L251.7,226.5 L253.3,226.0 L255.0,225.9 L256.7,225.5 L258.3,226.4 L260.0,225.5 L261.7,224.9 L263.3,224.3 L265.0,224.0 L267.0,223.9 L269.0,224.3 L271.0,224.7 L273.0,225.6 L274.7,226.5 L276.3,226.4 L278.0,227.6 L279.7,226.1 L281.3,226.1 L283.0,225.9 L284.7,224.8 L286.3,224.8 L288.0,223.5 L289.7,223.4 L291.3,223.8 L293.0,223.5 L294.7,223.8 L296.3,223.4 L298.0,224.0 L299.7,223.4 L301.3,222.6 L303.0,221.5 L304.7,221.2 L306.3,220.7 L308.0,220.0 L309.7,219.7 L311.3,220.2 L313.0,219.0 L314.7,218.4 L316.3,219.0 L318.0,218.1 L319.7,218.4 L321.3,217.5 L323.0,217.9 L324.7,217.6 L326.3,217.7 L328.0,217.7 L329.7,217.2 L331.3,216.5 L333.0,216.5 L334.7,216.3 L336.3,215.3 L338.0,214.4 L341.0,212.5 L343.0,211.8 L344.7,213.6 L346.3,215.0 L348.0,216.9 L350.0,216.0 L352.0,215.7 L353.7,215.9 L355.3,215.6 L357.0,216.6 L360.0,212.8 L363.0,205.3 L365.0,204.4 L367.0,202.5 L368.7,201.5 L370.3,200.1 L372.0,200.5 L374.0,199.8 L376.0,201.0 L378.0,200.8 L381.0,192.4 L383.0,188.6 L384.8,188.7 L386.5,188.1 L388.2,187.9 L390.0,187.6 L392.0,187.2 L394.0,187.4 L396.0,189.0 L398.0,188.3 L400.0,189.8 L401.7,187.3 L403.3,186.6 L405.0,185.0 L406.8,184.8 L408.5,184.1 L410.2,184.2 L412.0,183.0 L415.0,186.9 L417.0,183.0 L419.0,180.2 L421.0,180.8 L423.0,181.2 L425.0,182.0 L428.0,184.1 L429.8,183.6 L431.5,183.8 L433.2,183.2 L435.0,183.1 L436.7,183.1 L438.3,182.7 L440.0,183.2 L441.7,183.1 L443.3,182.1 L445.0,180.8 L447.0,179.9 L449.0,177.9 L451.0,177.3 L453.0,178.2 L455.0,180.3 L457.0,183.0 L460.0,185.6 L462.0,184.6 L464.0,184.0 L466.0,179.4 L468.0,177.0 L470.0,182.9 L472.0,191.4 L475.0,189.2 L477.0,184.7 L480.0,186.6 L481.8,185.8 L483.5,184.0" fill="none" stroke="#f9a74e" stroke-width="4.2" stroke-linejoin="round" stroke-linecap="butt"/>
<path d="M74.3,321.6 L76.2,320.5 L78.0,319.4 L80.0,320.2 L82.0,321.1 L85.0,322.9 L88.0,320.0 L91.0,315.9 L94.0,318.5 L96.0,321.1 L98.0,319.3 L100.0,317.0 L102.0,315.5 L104.0,315.4 L107.0,313.1 L110.0,312.5 L111.7,312.2 L113.3,311.1 L115.0,311.1 L116.7,311.0 L118.3,311.6 L120.0,311.3 L121.7,310.4 L123.3,310.9 L125.0,309.9 L126.7,310.2 L128.3,309.5 L130.0,309.1 L131.7,310.0 L133.3,309.1 L135.0,309.0 L136.7,310.2 L138.3,310.4 L140.0,310.0 L141.7,310.9 L143.3,310.3 L145.0,310.5 L146.7,309.6 L148.3,310.2 L150.0,309.5 L151.7,310.3 L153.3,310.6 L155.0,310.3 L157.0,310.8 L160.0,313.6 L162.0,315.3 L164.0,317.0 L166.0,318.3 L168.0,319.6 L170.0,319.9 L171.7,321.4 L173.3,321.7 L175.0,322.4 L176.7,322.3 L178.3,321.2 L180.0,320.3 L182.0,320.5 L184.0,320.8 L186.0,320.1 L188.0,321.7 L190.0,321.0 L191.7,321.1 L193.3,320.3 L195.0,318.5 L196.7,318.8 L198.3,317.6 L200.0,317.2 L201.7,317.2 L203.3,317.9 L205.0,318.7 L206.7,318.4 L208.3,316.3 L210.0,315.7 L212.0,315.5 L214.0,315.0 L216.1,315.4 L218.2,316.4 L219.8,316.6 L221.5,316.9 L223.1,316.1 L224.8,316.9 L226.4,317.0 L228.4,315.8 L230.5,313.6 L232.5,313.5 L234.2,310.8 L236.0,309.3 L238.6,306.9 L240.7,308.1 L242.7,308.3 L244.8,309.8 L246.8,309.9 L248.9,310.1 L250.9,310.7 L252.5,309.9 L254.2,309.2 L255.8,308.6 L257.5,308.6 L259.1,308.4 L261.1,307.6 L263.0,307.7 L265.0,309.1 L267.1,308.7 L269.3,308.8 L271.3,306.5 L272.9,307.0 L274.6,307.4 L276.2,307.0 L277.9,307.0 L279.5,306.7 L281.1,306.6 L282.8,304.4 L284.4,303.9 L286.1,303.2 L287.7,301.3 L289.3,301.0 L291.0,300.2 L292.6,298.8 L294.3,298.0 L295.9,296.1 L297.9,295.5 L300.0,294.1 L302.0,293.9 L304.0,291.5 L306.0,289.9 L308.1,288.2 L310.2,285.7 L312.2,285.4 L314.3,284.3 L316.3,283.9 L317.9,283.2 L319.6,282.0 L321.2,280.8 L322.9,280.0 L324.5,278.8 L326.6,280.0 L328.6,281.6 L330.7,282.5 L332.7,280.7 L334.8,279.2 L336.8,277.6 L338.8,276.2 L340.9,275.3 L342.9,274.8 L344.9,274.6 L347.0,273.7 L349.0,273.9 L351.0,273.4 L353.0,272.8 L355.0,272.3 L356.7,271.2 L358.3,269.5 L360.0,268.6 L361.7,266.8 L363.3,265.7 L365.0,264.7 L366.7,263.6 L368.3,262.1 L370.0,261.8 L371.7,260.8 L373.3,260.0 L375.0,258.6 L376.7,258.6 L378.3,257.6 L380.0,257.4 L381.7,257.0 L383.3,257.2 L385.0,256.8 L386.7,256.7 L388.3,255.9 L390.0,256.0 L393.0,257.5 L394.7,258.5 L396.3,258.8 L398.0,260.3 L399.7,260.8 L401.3,261.1 L403.0,261.9 L404.7,261.6 L406.3,260.9 L408.0,260.7 L409.7,260.2 L411.3,260.8 L413.0,260.8 L414.7,260.6 L416.3,261.2 L418.0,261.6 L419.7,261.8 L421.3,261.3 L423.0,262.2 L424.7,262.8 L426.3,263.8 L428.0,264.3 L429.7,264.7 L431.3,265.0 L433.0,265.0 L434.7,265.3 L436.3,264.6 L438.0,265.0 L439.7,265.8 L441.3,266.5 L443.0,266.5 L444.7,267.6 L446.3,268.0 L448.0,267.9 L449.7,268.4 L451.3,268.1 L453.0,267.9 L454.7,268.1 L456.3,268.5 L458.0,268.5 L459.7,269.1 L461.3,269.4 L463.0,270.5 L464.7,270.5 L466.3,270.9 L468.0,271.0 L469.7,270.8 L471.3,271.8 L473.0,270.9 L474.7,270.9 L476.3,270.3 L478.0,270.0 L479.8,269.0 L481.7,269.2 L483.5,268.2" fill="none" stroke="#0000f2" stroke-width="4.8" stroke-linejoin="round" stroke-linecap="butt"/>
<path d="M74.3,437.8 L76.2,435.9 L78.0,433.7 L81.0,431.3 L84.0,429.0 L87.0,424.1 L89.5,422.3 L92.0,423.4 L94.0,427.0 L96.0,425.8 L97.5,420.4 L100.0,418.5 L102.0,417.9 L104.0,419.8 L107.0,420.9 L108.7,421.2 L110.3,421.5 L112.0,421.0 L114.0,421.2 L116.0,421.2 L118.0,421.2 L120.0,422.5 L122.0,421.0 L124.0,419.9 L126.0,418.5 L128.0,417.4 L131.0,418.5 L133.0,417.0 L135.0,415.1 L137.0,415.4 L139.0,416.2 L141.0,417.5 L143.0,417.8 L144.7,418.6 L146.3,418.1 L148.0,417.5 L150.0,417.9 L152.0,417.3 L153.7,418.8 L155.3,419.5 L157.0,419.7 L160.0,419.0 L162.0,418.7 L164.0,418.5 L166.0,418.6 L168.0,417.4 L170.1,417.9 L172.1,418.3 L174.2,418.1 L176.0,418.5 L177.7,418.1 L179.5,419.2 L181.2,418.9 L183.0,418.5 L184.9,419.4 L186.8,419.1 L188.8,419.1 L190.7,419.6 L192.6,419.4 L194.4,419.6 L196.3,420.6 L198.2,420.6 L200.0,419.9 L201.6,421.0 L203.2,420.3 L204.8,420.8 L206.4,421.7 L208.0,421.5 L210.0,420.9 L212.0,420.7 L214.0,420.4 L216.0,419.9 L218.0,420.7 L220.0,419.4 L221.7,420.1 L223.3,420.7 L225.0,420.6 L226.7,421.8 L228.3,421.5 L230.0,422.9 L231.7,423.1 L233.3,423.2 L235.0,423.9 L236.7,423.9 L238.3,425.0 L240.0,425.6 L242.0,424.6 L244.0,424.0 L246.0,425.3 L248.0,426.1 L250.0,426.8 L251.7,427.3 L253.3,426.4 L255.0,426.4 L258.0,424.9 L260.0,424.2 L262.0,424.0 L263.7,424.5 L265.3,425.5 L267.0,425.6 L268.7,425.7 L270.3,426.1 L272.0,426.9 L275.0,424.9 L276.7,425.9 L278.3,427.2 L280.0,427.6 L282.0,426.4 L284.0,425.8 L287.0,429.9 L290.0,430.8 L291.7,431.8 L293.3,432.4 L295.0,433.7 L296.7,434.1 L298.3,435.6 L300.0,437.0 L301.7,437.2 L303.3,436.9 L305.0,437.5 L306.7,437.4 L308.3,437.7 L310.0,438.0 L311.7,438.6 L313.3,439.1 L315.0,438.5 L316.7,438.4 L318.3,439.1 L320.0,438.9 L321.7,439.0 L323.3,440.1 L325.0,439.5 L326.7,440.8 L328.3,440.8 L330.0,442.0 L331.7,442.3 L333.3,441.6 L335.0,442.1 L336.7,443.7 L338.3,444.0 L340.0,444.4 L341.7,445.5 L343.3,446.3 L345.0,446.6 L346.7,447.1 L348.3,447.2 L350.0,448.0 L351.7,448.3 L353.3,449.4 L355.0,449.8 L356.7,450.3 L358.3,451.9 L360.0,452.2 L361.7,453.3 L363.3,454.9 L365.0,455.8 L366.7,456.9 L368.3,457.3 L370.0,458.0 L371.7,457.4 L373.3,458.2 L375.0,457.3 L376.7,458.3 L378.3,459.0 L380.0,459.4 L381.7,460.0 L383.3,460.2 L385.0,461.1 L386.7,461.6 L388.3,461.1 L390.0,462.4 L391.7,462.4 L393.3,461.8 L395.0,462.2 L396.7,461.7 L398.3,461.4 L400.0,461.8 L401.7,461.3 L403.3,462.5 L405.0,463.1 L406.7,462.4 L408.3,463.3 L410.0,462.4 L411.7,463.5 L413.3,463.0 L415.0,464.0 L416.7,463.5 L418.3,464.3 L420.0,463.4 L421.7,463.4 L423.3,464.1 L425.0,463.8 L426.7,463.6 L428.3,462.9 L430.0,463.0 L431.7,463.3 L433.4,462.9 L435.0,464.1 L436.7,463.8 L438.4,464.1 L440.0,463.8 L441.7,463.4 L443.4,463.1 L445.1,463.9 L446.8,463.2 L448.6,463.8 L450.3,463.7 L452.0,463.8 L453.8,463.3 L455.6,463.3 L457.4,463.9 L459.1,463.3 L460.9,463.9 L462.7,463.5 L464.6,463.7 L466.4,463.6 L468.3,464.2 L470.1,464.0 L472.0,463.9 L473.7,463.9 L475.3,464.4 L477.0,464.9 L478.7,464.4 L480.3,464.1 L482.0,464.6" fill="none" stroke="#ff0000" stroke-width="4.0" stroke-linejoin="round" stroke-linecap="butt"/>
<path d="M449.7,270.5 Q500,292 527,277.5 L541,338 Z" fill="url(#wb)"/>
<path d="M444.5,463.6 Q485,457.8 521.5,406 L523.6,458 Q506,445 444.5,463.6 Z" fill="url(#wr)"/>
<line x1="67.3" y1="16.10" x2="484.30" y2="16.10" stroke="#000" stroke-width="1.6"/>
<line x1="67.3" y1="130.80" x2="484.30" y2="130.80" stroke="#000" stroke-width="1.6"/>
<line x1="67.3" y1="245.50" x2="484.30" y2="245.50" stroke="#000" stroke-width="1.6"/>
<line x1="67.3" y1="360.20" x2="484.30" y2="360.20" stroke="#000" stroke-width="1.6"/>
<line x1="67.3" y1="474.90" x2="484.30" y2="474.90" stroke="#000" stroke-width="1.6"/>
<text x="81.80" y="32.00" font-size="11.40" fill="#222" textLength="110.60" lengthAdjust="spacingAndGlyphs">Host cell density (<tspan font-style="italic">H</tspan>)</text>
<text x="81.80" y="146.70" font-size="11.40" fill="#222" textLength="137.80" lengthAdjust="spacingAndGlyphs">Symbionts per host (<tspan font-style="italic">S/H</tspan>)</text>
<text x="81.80" y="261.40" font-size="11.40" fill="#222" textLength="121.40" lengthAdjust="spacingAndGlyphs">Host genome size (<tspan font-style="italic">L</tspan><tspan font-style="italic" font-size="8" dy="2.4">H</tspan><tspan dy="-2.4">)</tspan></text>
<text x="81.80" y="376.10" font-size="11.40" fill="#222" textLength="147.80" lengthAdjust="spacingAndGlyphs">Symbiont genome size (<tspan font-style="italic">L</tspan><tspan font-style="italic" font-size="8" dy="2.4">S</tspan><tspan dy="-2.4">)</tspan></text>
<text x="488.00" y="24.60" font-size="10.60" fill="#ff00ff" textLength="24.80" lengthAdjust="spacingAndGlyphs">6875</text>
<text x="488.00" y="129.20" font-size="10.60" fill="#ff00ff" textLength="6.00" lengthAdjust="spacingAndGlyphs">0</text>
<text x="488.00" y="140.70" font-size="10.60" fill="#f9a74e" textLength="12.20" lengthAdjust="spacingAndGlyphs">20</text>
<text x="488.00" y="243.90" font-size="10.60" fill="#f9a74e" textLength="6.00" lengthAdjust="spacingAndGlyphs">0</text>
<text x="488.00" y="255.40" font-size="10.60" fill="#0000ff" textLength="18.00" lengthAdjust="spacingAndGlyphs">200</text>
<text x="488.00" y="358.60" font-size="10.60" fill="#0000ff" textLength="6.00" lengthAdjust="spacingAndGlyphs">0</text>
<text x="488.00" y="370.10" font-size="10.60" fill="#ff0000" textLength="18.00" lengthAdjust="spacingAndGlyphs">200</text>
<text x="488.00" y="473.30" font-size="10.60" fill="#ff0000" textLength="6.00" lengthAdjust="spacingAndGlyphs">0</text>
<text x="64.80" y="129.35" font-size="10.60" fill="#222" text-anchor="end">1</text>
<text x="64.80" y="108.75" font-size="10.60" fill="#222" text-anchor="end">3</text>
<text x="64.80" y="88.15" font-size="10.60" fill="#222" text-anchor="end">5</text>
<text x="64.80" y="67.55" font-size="10.60" fill="#222" text-anchor="end">7</text>
<text x="64.80" y="46.95" font-size="10.60" fill="#222" text-anchor="end">9</text>
<text x="64.80" y="25.65" font-size="10.60" fill="#222" text-anchor="end" textLength="11.40" lengthAdjust="spacingAndGlyphs">11</text>
<line x1="74.30" y1="474.90" x2="74.30" y2="479.50" stroke="#000" stroke-width="1.5"/>
<line x1="115.30" y1="474.90" x2="115.30" y2="479.50" stroke="#000" stroke-width="1.5"/>
<line x1="156.30" y1="474.90" x2="156.30" y2="479.50" stroke="#000" stroke-width="1.5"/>
<line x1="197.30" y1="474.90" x2="197.30" y2="479.50" stroke="#000" stroke-width="1.5"/>
<line x1="238.30" y1="474.90" x2="238.30" y2="479.50" stroke="#000" stroke-width="1.5"/>
<line x1="279.30" y1="474.90" x2="279.30" y2="479.50" stroke="#000" stroke-width="1.5"/>
<line x1="320.30" y1="474.90" x2="320.30" y2="479.50" stroke="#000" stroke-width="1.5"/>
<line x1="361.30" y1="474.90" x2="361.30" y2="479.50" stroke="#000" stroke-width="1.5"/>
<line x1="402.30" y1="474.90" x2="402.30" y2="479.50" stroke="#000" stroke-width="1.5"/>
<line x1="443.30" y1="474.90" x2="443.30" y2="479.50" stroke="#000" stroke-width="1.5"/>
<line x1="484.30" y1="474.90" x2="484.30" y2="479.50" stroke="#000" stroke-width="1.5"/>
<text x="74.30" y="489.90" font-size="10.80" fill="#222" text-anchor="middle" textLength="6.20" lengthAdjust="spacingAndGlyphs">0</text>
<text x="156.30" y="489.90" font-size="10.80" fill="#222" text-anchor="middle" textLength="16.00" lengthAdjust="spacingAndGlyphs">2.0</text>
<text x="238.30" y="489.90" font-size="10.80" fill="#222" text-anchor="middle" textLength="16.00" lengthAdjust="spacingAndGlyphs">4.0</text>
<text x="320.30" y="489.90" font-size="10.80" fill="#222" text-anchor="middle" textLength="16.00" lengthAdjust="spacingAndGlyphs">6.0</text>
<text x="402.30" y="489.90" font-size="10.80" fill="#222" text-anchor="middle" textLength="16.00" lengthAdjust="spacingAndGlyphs">8.0</text>
<text x="484.30" y="489.90" font-size="10.80" fill="#222" text-anchor="middle" textLength="22.40" lengthAdjust="spacingAndGlyphs">10.0</text>
<text x="234.20" y="508.80" font-size="12.60" fill="#222" textLength="90.60" lengthAdjust="spacingAndGlyphs">Time (10<tspan font-size="8.4" dy="-4.6">6</tspan><tspan dy="4.6"> AUT)</tspan></text>
<text x="16.80" y="9.50" font-size="11.40" fill="#222" textLength="82.60" lengthAdjust="spacingAndGlyphs">Nutrient sector</text>
<rect x="27.90" y="33.20" width="14.00" height="82.00" fill="url(#cbg)" stroke="#000" stroke-width="1.3"/>
<line x1="23.10" y1="115.20" x2="27.90" y2="115.20" stroke="#000" stroke-width="1.3"/>
<line x1="23.10" y1="94.70" x2="27.90" y2="94.70" stroke="#000" stroke-width="1.3"/>
<line x1="23.10" y1="74.20" x2="27.90" y2="74.20" stroke="#000" stroke-width="1.3"/>
<line x1="23.10" y1="53.70" x2="27.90" y2="53.70" stroke="#000" stroke-width="1.3"/>
<line x1="23.10" y1="33.20" x2="27.90" y2="33.20" stroke="#000" stroke-width="1.3"/>
<text x="20.50" y="36.90" font-size="10.60" fill="#222" text-anchor="end" textLength="15.20" lengthAdjust="spacingAndGlyphs">1.0</text>
<text x="20.50" y="77.90" font-size="10.60" fill="#222" text-anchor="end" textLength="15.20" lengthAdjust="spacingAndGlyphs">0.5</text>
<text x="20.50" y="118.90" font-size="10.60" fill="#222" text-anchor="end" textLength="6.00" lengthAdjust="spacingAndGlyphs">0</text>
<rect x="27.90" y="147.20" width="14.00" height="81.90" fill="url(#cbr)" stroke="#000" stroke-width="1.3"/>
<line x1="23.10" y1="229.10" x2="27.90" y2="229.10" stroke="#000" stroke-width="1.3"/>
<line x1="23.10" y1="208.62" x2="27.90" y2="208.62" stroke="#000" stroke-width="1.3"/>
<line x1="23.10" y1="188.15" x2="27.90" y2="188.15" stroke="#000" stroke-width="1.3"/>
<line x1="23.10" y1="167.67" x2="27.90" y2="167.67" stroke="#000" stroke-width="1.3"/>
<line x1="23.10" y1="147.20" x2="27.90" y2="147.20" stroke="#000" stroke-width="1.3"/>
<text x="20.50" y="150.90" font-size="10.60" fill="#222" text-anchor="end" textLength="12.20" lengthAdjust="spacingAndGlyphs">20</text>
<text x="20.50" y="191.85" font-size="10.60" fill="#222" text-anchor="end" textLength="12.20" lengthAdjust="spacingAndGlyphs">10</text>
<text x="20.50" y="232.80" font-size="10.60" fill="#222" text-anchor="end" textLength="6.00" lengthAdjust="spacingAndGlyphs">0</text>
<rect x="27.40" y="261.80" width="13.50" height="81.90" fill="url(#cbr)" stroke="#000" stroke-width="1.3"/>
<line x1="22.60" y1="343.70" x2="27.40" y2="343.70" stroke="#000" stroke-width="1.3"/>
<line x1="22.60" y1="323.23" x2="27.40" y2="323.23" stroke="#000" stroke-width="1.3"/>
<line x1="22.60" y1="302.75" x2="27.40" y2="302.75" stroke="#000" stroke-width="1.3"/>
<line x1="22.60" y1="282.27" x2="27.40" y2="282.27" stroke="#000" stroke-width="1.3"/>
<line x1="22.60" y1="261.80" x2="27.40" y2="261.80" stroke="#000" stroke-width="1.3"/>
<text x="20.00" y="265.50" font-size="10.60" fill="#222" text-anchor="end" textLength="18.40" lengthAdjust="spacingAndGlyphs">200</text>
<text x="20.00" y="306.45" font-size="10.60" fill="#222" text-anchor="end" textLength="18.40" lengthAdjust="spacingAndGlyphs">100</text>
<text x="20.00" y="347.40" font-size="10.60" fill="#222" text-anchor="end" textLength="6.00" lengthAdjust="spacingAndGlyphs">0</text>
<rect x="27.40" y="376.40" width="13.50" height="81.80" fill="url(#cbr)" stroke="#000" stroke-width="1.3"/>
<line x1="22.60" y1="458.20" x2="27.40" y2="458.20" stroke="#000" stroke-width="1.3"/>
<line x1="22.60" y1="437.75" x2="27.40" y2="437.75" stroke="#000" stroke-width="1.3"/>
<line x1="22.60" y1="417.30" x2="27.40" y2="417.30" stroke="#000" stroke-width="1.3"/>
<line x1="22.60" y1="396.85" x2="27.40" y2="396.85" stroke="#000" stroke-width="1.3"/>
<line x1="22.60" y1="376.40" x2="27.40" y2="376.40" stroke="#000" stroke-width="1.3"/>
<text x="20.00" y="380.10" font-size="10.60" fill="#222" text-anchor="end" textLength="18.40" lengthAdjust="spacingAndGlyphs">200</text>
<text x="20.00" y="421.00" font-size="10.60" fill="#222" text-anchor="end" textLength="18.40" lengthAdjust="spacingAndGlyphs">100</text>
<text x="20.00" y="461.90" font-size="10.60" fill="#222" text-anchor="end" textLength="6.00" lengthAdjust="spacingAndGlyphs">0</text>
<g fill="none" stroke-linecap="round">
<line x1="609.5" y1="14.7" x2="609.5" y2="474.4" stroke="#888" stroke-width="0.6" stroke-dasharray="1.2,1.4"/>
<path d="M609.5,449.0 Q472.3,234.6 609.5,20.2" stroke="#3b4cc0" stroke-width="1.02" opacity="1.00"/>
<path d="M608.31,22.05 L607.64,25.42 L605.54,24.07 Z" fill="#3b4cc0" opacity="1.00"/>
<path d="M609.5,468.5 Q472.8,254.9 609.5,41.2" stroke="#3b4cc0" stroke-width="1.02" opacity="1.00"/>
<path d="M608.31,43.10 L607.64,46.47 L605.54,45.12 Z" fill="#3b4cc0" opacity="1.00"/>
<path d="M609.5,462.6 Q484.7,267.6 609.5,72.5" stroke="#4a63d3" stroke-width="0.77" opacity="0.90"/>
<path d="M608.31,74.35 L607.64,77.72 L605.54,76.37 Z" fill="#4a63d3" opacity="0.90"/>
<path d="M609.5,449.0 Q490.8,263.5 609.5,78.0" stroke="#6788ee" stroke-width="0.51" opacity="0.70"/>
<path d="M609.5,405.0 Q507.1,245.0 609.5,85.0" stroke="#4a63d3" stroke-width="0.59" opacity="0.80"/>
<path d="M608.31,86.85 L607.64,90.22 L605.54,88.87 Z" fill="#4a63d3" opacity="0.80"/>
<path d="M609.5,442.9 Q496.4,266.1 609.5,89.4" stroke="#6788ee" stroke-width="0.51" opacity="0.70"/>
<path d="M609.5,390.0 Q514.1,241.0 609.5,92.0" stroke="#4a63d3" stroke-width="0.68" opacity="0.80"/>
<path d="M608.31,93.85 L607.64,97.22 L605.54,95.87 Z" fill="#4a63d3" opacity="0.80"/>
<path d="M609.5,462.6 Q492.0,279.1 609.5,95.5" stroke="#6788ee" stroke-width="0.51" opacity="0.70"/>
<path d="M609.5,430.5 Q503.4,264.8 609.5,99.0" stroke="#4a63d3" stroke-width="0.68" opacity="0.80"/>
<path d="M608.31,100.85 L607.64,104.22 L605.54,102.87 Z" fill="#4a63d3" opacity="0.80"/>
<path d="M609.5,462.6 Q494.3,282.7 609.5,102.7" stroke="#6788ee" stroke-width="0.51" opacity="0.70"/>
<path d="M609.5,449.0 Q499.7,277.5 609.5,106.0" stroke="#4a63d3" stroke-width="0.68" opacity="0.80"/>
<path d="M608.31,107.85 L607.64,111.22 L605.54,109.87 Z" fill="#4a63d3" opacity="0.80"/>
<path d="M609.5,442.9 Q514.6,294.6 609.5,146.4" stroke="#4a63d3" stroke-width="0.68" opacity="0.80"/>
<path d="M608.31,148.25 L607.64,151.62 L605.54,150.27 Z" fill="#4a63d3" opacity="0.80"/>
<path d="M609.5,390.0 Q536.9,276.6 609.5,163.1" stroke="#4a63d3" stroke-width="0.59" opacity="0.80"/>
<path d="M608.31,164.95 L607.64,168.32 L605.54,166.97 Z" fill="#4a63d3" opacity="0.80"/>
<path d="M609.5,462.6 Q517.3,318.5 609.5,174.4" stroke="#3b4cc0" stroke-width="0.85" opacity="1.00"/>
<path d="M608.31,176.25 L607.64,179.62 L605.54,178.27 Z" fill="#3b4cc0" opacity="1.00"/>
<path d="M609.5,430.5 Q530.8,307.6 609.5,184.7" stroke="#3b4cc0" stroke-width="0.85" opacity="1.00"/>
<path d="M608.31,186.55 L607.64,189.92 L605.54,188.57 Z" fill="#3b4cc0" opacity="1.00"/>
<path d="M609.5,462.6 Q524.3,329.4 609.5,196.2" stroke="#3b4cc0" stroke-width="0.85" opacity="1.00"/>
<path d="M608.31,198.10 L607.64,201.47 L605.54,200.12 Z" fill="#3b4cc0" opacity="1.00"/>
<path d="M609.5,449.0 Q532.0,327.9 609.5,206.9" stroke="#3b4cc0" stroke-width="0.77" opacity="1.00"/>
<path d="M608.31,208.75 L607.64,212.12 L605.54,210.77 Z" fill="#3b4cc0" opacity="1.00"/>
<path d="M609.5,405.0 Q548.1,309.0 609.5,213.0" stroke="#4a63d3" stroke-width="0.77" opacity="0.90"/>
<path d="M608.31,214.85 L607.64,218.22 L605.54,216.87 Z" fill="#4a63d3" opacity="0.90"/>
<path d="M609.5,442.9 Q538.8,332.4 609.5,222.0" stroke="#6788ee" stroke-width="0.51" opacity="0.60"/>
<path d="M609.5,390.0 Q558.9,311.0 609.5,232.0" stroke="#4a63d3" stroke-width="0.59" opacity="0.70"/>
<path d="M609.5,462.6 Q538.3,351.3 609.5,240.0" stroke="#3b4cc0" stroke-width="0.77" opacity="1.00"/>
<path d="M608.31,241.85 L607.64,245.22 L605.54,243.87 Z" fill="#3b4cc0" opacity="1.00"/>
<path d="M609.5,430.5 Q550.1,337.8 609.5,245.0" stroke="#4a63d3" stroke-width="0.68" opacity="0.90"/>
<path d="M608.31,246.85 L607.64,250.22 L605.54,248.87 Z" fill="#4a63d3" opacity="0.90"/>
<path d="M609.5,430.5 Q554.3,344.2 609.5,258.0" stroke="#3b4cc0" stroke-width="0.77" opacity="1.00"/>
<path d="M608.31,259.85 L607.64,263.22 L605.54,261.87 Z" fill="#3b4cc0" opacity="1.00"/>
<path d="M609.5,442.9 Q551.9,352.9 609.5,263.0" stroke="#3b4cc0" stroke-width="0.77" opacity="1.00"/>
<path d="M608.31,264.85 L607.64,268.22 L605.54,266.87 Z" fill="#3b4cc0" opacity="1.00"/>
<path d="M609.5,424.5 Q559.4,346.2 609.5,268.0" stroke="#4a63d3" stroke-width="0.68" opacity="0.80"/>
<path d="M608.31,269.85 L607.64,273.22 L605.54,271.87 Z" fill="#4a63d3" opacity="0.80"/>
<path d="M609.5,455.1 Q552.2,365.6 609.5,276.0" stroke="#3b4cc0" stroke-width="0.77" opacity="1.00"/>
<path d="M608.31,277.85 L607.64,281.22 L605.54,279.87 Z" fill="#3b4cc0" opacity="1.00"/>
<path d="M609.5,430.5 Q562.9,357.8 609.5,285.0" stroke="#4a63d3" stroke-width="0.68" opacity="0.80"/>
<path d="M608.31,286.85 L607.64,290.22 L605.54,288.87 Z" fill="#4a63d3" opacity="0.80"/>
<path d="M609.5,411.5 Q573.2,354.8 609.5,298.0" stroke="#4a63d3" stroke-width="0.59" opacity="0.70"/>
<path d="M609.5,405.0 Q576.2,353.0 609.5,301.0" stroke="#4a63d3" stroke-width="0.68" opacity="0.80"/>
<path d="M608.31,302.85 L607.64,306.22 L605.54,304.87 Z" fill="#4a63d3" opacity="0.80"/>
<path d="M609.5,389.5 Q584.7,350.8 609.5,312.0" stroke="#4a63d3" stroke-width="0.68" opacity="0.80"/>
<path d="M608.31,313.85 L607.64,317.22 L605.54,315.87 Z" fill="#4a63d3" opacity="0.80"/>
<path d="M609.5,462.6 Q561.8,388.0 609.5,313.4" stroke="#4a63d3" stroke-width="0.68" opacity="0.70"/>
<path d="M609.5,381.4 Q592.5,354.9 609.5,328.4" stroke="#4a63d3" stroke-width="0.59" opacity="0.70"/>
<path d="M609.5,442.9 Q572.9,385.6 609.5,328.4" stroke="#3b4cc0" stroke-width="0.77" opacity="0.80"/>
<path d="M608.31,330.25 L607.64,333.62 L605.54,332.27 Z" fill="#3b4cc0" opacity="0.80"/>
<path d="M609.5,405.0 Q588.9,372.8 609.5,340.6" stroke="#6788ee" stroke-width="0.51" opacity="0.60"/>
<path d="M609.5,449.0 Q580.6,403.9 609.5,358.8" stroke="#4a63d3" stroke-width="0.68" opacity="0.70"/>
<path d="M609.5,420.2 Q593.1,394.6 609.5,369.0" stroke="#6788ee" stroke-width="0.51" opacity="0.60"/>
<path d="M609.5,455.1 Q585.9,418.2 609.5,381.4" stroke="#3b4cc0" stroke-width="0.77" opacity="1.00"/>
<path d="M608.31,383.25 L607.64,386.62 L605.54,385.27 Z" fill="#3b4cc0" opacity="1.00"/>
<path d="M609.5,430.5 Q598.6,413.5 609.5,396.5" stroke="#6788ee" stroke-width="0.51" opacity="0.60"/>
<path d="M609.5,442.9 Q597.4,423.9 609.5,405.0" stroke="#4a63d3" stroke-width="0.68" opacity="1.00"/>
<path d="M608.31,406.85 L607.64,410.22 L605.54,408.87 Z" fill="#4a63d3" opacity="1.00"/>
<path d="M609.5,462.6 Q594.5,439.1 609.5,415.6" stroke="#4a63d3" stroke-width="0.68" opacity="1.00"/>
<path d="M608.31,417.45 L607.64,420.82 L605.54,419.47 Z" fill="#4a63d3" opacity="1.00"/>
<path d="M609.5,474.4 Q595.5,452.4 609.5,430.5" stroke="#6788ee" stroke-width="0.51" opacity="1.00"/>
<path d="M608.31,432.35 L607.64,435.72 L605.54,434.37 Z" fill="#6788ee" opacity="1.00"/>
<path d="M609.5,396.5 Q574.8,342.3 609.5,288.1" stroke="#9abbff" stroke-width="0.51" opacity="0.60"/>
<path d="M609.5,369.0 Q567.6,303.6 609.5,238.1" stroke="#9abbff" stroke-width="0.51" opacity="0.60"/>
<path d="M609.5,455.1 Q537.5,342.6 609.5,230.0" stroke="#9abbff" stroke-width="0.51" opacity="0.60"/>
<path d="M609.5,430.5 Q510.1,275.2 609.5,120.0" stroke="#9abbff" stroke-width="0.51" opacity="0.60"/>
<path d="M609.5,424.5 Q524.9,292.2 609.5,160.0" stroke="#9abbff" stroke-width="0.51" opacity="0.60"/>
<path d="M609.5,462.6 Q499.2,290.2 609.5,117.8" stroke="#f08a6c" stroke-width="0.77" opacity="0.90"/>
<path d="M608.31,119.65 L607.64,123.02 L605.54,121.67 Z" fill="#f08a6c" opacity="0.90"/>
<path d="M609.5,442.9 Q511.8,290.3 609.5,137.7" stroke="#f5a98a" stroke-width="0.59" opacity="0.60"/>
<path d="M609.5,130.0 Q591.6,102.0 609.5,74.0" stroke="#b40426" stroke-width="0.85" opacity="1.00"/>
<path d="M608.31,75.85 L607.64,79.22 L605.54,77.87 Z" fill="#b40426" opacity="1.00"/>
<path d="M609.5,51.4 Q601.4,38.8 609.5,26.1" stroke="#b40426" stroke-width="0.85" opacity="1.00"/>
<path d="M608.31,27.95 L607.64,31.32 L605.54,29.97 Z" fill="#b40426" opacity="1.00"/>
<path d="M609.5,449.0 Q595.4,427.0 609.5,405.0" stroke="#f08a6c" stroke-width="0.51" opacity="0.60"/>
<path d="M609.5,430.5 Q593.8,405.9 609.5,381.4" stroke="#f08a6c" stroke-width="0.51" opacity="0.60"/>
<path d="M609.5,420.2 Q571.0,360.1 609.5,300.0" stroke="#f5a98a" stroke-width="0.42" opacity="0.50"/>
<path d="M609.5,455.1 Q532.7,335.1 609.5,215.0" stroke="#f08a6c" stroke-width="0.51" opacity="0.70"/>
<path d="M609.5,468.5 Q542.8,364.2 609.5,260.0" stroke="#f5a98a" stroke-width="0.51" opacity="0.60"/>
<path d="M609.5,405.0 Q629.4,433.8 609.5,462.6" stroke="#3b4cc0" stroke-width="0.85" opacity="1.00"/>
<path d="M610.75,460.79 L611.54,457.45 L613.60,458.87 Z" fill="#3b4cc0" opacity="1.00"/>
<path d="M609.5,411.5 Q629.2,440.0 609.5,468.5" stroke="#4a63d3" stroke-width="0.77" opacity="1.00"/>
<path d="M610.75,466.69 L611.54,463.35 L613.60,464.77 Z" fill="#4a63d3" opacity="1.00"/>
<path d="M609.5,415.6 Q629.8,445.0 609.5,474.4" stroke="#4a63d3" stroke-width="0.68" opacity="1.00"/>
<path d="M610.75,472.59 L611.54,469.25 L613.60,470.67 Z" fill="#4a63d3" opacity="1.00"/>
<path d="M609.5,51.4 Q646.0,104.3 609.5,157.2" stroke="#b40426" stroke-width="0.94" opacity="1.00"/>
<path d="M610.75,155.39 L611.54,152.05 L613.60,153.47 Z" fill="#b40426" opacity="1.00"/>
<path d="M609.5,32.2 Q757.1,246.1 609.5,460.0" stroke="#f08a6c" stroke-width="0.77" opacity="0.90"/>
<path d="M610.75,458.19 L611.54,454.85 L613.60,456.27 Z" fill="#f08a6c" opacity="0.90"/>
<path d="M609.5,32.2 Q753.3,240.6 609.5,449.0" stroke="#f08a6c" stroke-width="0.68" opacity="0.90"/>
<path d="M610.75,447.19 L611.54,443.85 L613.60,445.27 Z" fill="#f08a6c" opacity="0.90"/>
<path d="M609.5,32.2 Q746.9,231.3 609.5,430.5" stroke="#f08a6c" stroke-width="0.68" opacity="0.90"/>
<path d="M610.75,428.69 L611.54,425.35 L613.60,426.77 Z" fill="#f08a6c" opacity="0.90"/>
<path d="M609.5,32.2 Q744.8,228.3 609.5,424.5" stroke="#dc5d4a" stroke-width="0.68" opacity="0.90"/>
<path d="M610.75,422.69 L611.54,419.35 L613.60,420.77 Z" fill="#dc5d4a" opacity="0.90"/>
<path d="M609.5,32.2 Q743.4,226.2 609.5,420.2" stroke="#dc5d4a" stroke-width="0.68" opacity="0.90"/>
<path d="M610.75,418.39 L611.54,415.05 L613.60,416.47 Z" fill="#dc5d4a" opacity="0.90"/>
<path d="M609.5,32.2 Q740.4,221.8 609.5,411.5" stroke="#f08a6c" stroke-width="0.59" opacity="0.90"/>
<path d="M610.75,409.69 L611.54,406.35 L613.60,407.77 Z" fill="#f08a6c" opacity="0.90"/>
<path d="M609.5,51.4 Q731.5,228.2 609.5,405.0" stroke="#c83a3a" stroke-width="0.68" opacity="0.90"/>
<path d="M610.75,403.19 L611.54,399.85 L613.60,401.27 Z" fill="#c83a3a" opacity="0.90"/>
<path d="M609.5,51.4 Q728.6,223.9 609.5,396.5" stroke="#c83a3a" stroke-width="0.68" opacity="0.90"/>
<path d="M610.75,394.69 L611.54,391.35 L613.60,392.77 Z" fill="#c83a3a" opacity="0.90"/>
<path d="M609.5,51.4 Q712.5,200.7 609.5,350.0" stroke="#b40426" stroke-width="0.68" opacity="0.90"/>
<path d="M610.75,348.19 L611.54,344.85 L613.60,346.27 Z" fill="#b40426" opacity="0.90"/>
<path d="M609.5,51.4 Q710.8,198.2 609.5,345.0" stroke="#c83a3a" stroke-width="0.68" opacity="0.90"/>
<path d="M610.75,343.19 L611.54,339.85 L613.60,341.27 Z" fill="#c83a3a" opacity="0.90"/>
<path d="M609.5,51.4 Q706.7,192.2 609.5,333.1" stroke="#b40426" stroke-width="0.68" opacity="0.90"/>
<path d="M610.75,331.29 L611.54,327.95 L613.60,329.37 Z" fill="#b40426" opacity="0.90"/>
<path d="M609.5,51.4 Q702.2,185.7 609.5,320.0" stroke="#c83a3a" stroke-width="0.68" opacity="0.90"/>
<path d="M610.75,318.19 L611.54,314.85 L613.60,316.27 Z" fill="#c83a3a" opacity="0.90"/>
<path d="M609.5,51.4 Q698.7,180.7 609.5,310.0" stroke="#b40426" stroke-width="0.68" opacity="0.90"/>
<path d="M610.75,308.19 L611.54,304.85 L613.60,306.27 Z" fill="#b40426" opacity="0.90"/>
<path d="M609.5,51.4 Q695.3,175.7 609.5,300.0" stroke="#c83a3a" stroke-width="0.68" opacity="0.90"/>
<path d="M610.75,298.19 L611.54,294.85 L613.60,296.27 Z" fill="#c83a3a" opacity="0.90"/>
<path d="M609.5,57.7 Q662.0,133.8 609.5,210.0" stroke="#f5a98a" stroke-width="0.42" opacity="0.40"/>
<path d="M609.5,110.0 Q657.8,180.0 609.5,250.0" stroke="#f5a98a" stroke-width="0.42" opacity="0.30"/>
<path d="M609.5,442.9 Q592.4,416.2 609.5,389.5" stroke="#c83a3a" stroke-width="0.59" opacity="1.00"/>
<path d="M608.31,391.35 L607.64,394.72 L605.54,393.37 Z" fill="#c83a3a" opacity="1.00"/>
<path d="M609.5,449.0 Q592.7,422.8 609.5,396.5" stroke="#dc5d4a" stroke-width="0.59" opacity="1.00"/>
<path d="M608.31,398.35 L607.64,401.72 L605.54,400.37 Z" fill="#dc5d4a" opacity="1.00"/>
<path d="M609.5,420.2 Q593.1,394.6 609.5,369.0" stroke="#f08a6c" stroke-width="0.51" opacity="0.70"/>
<path d="M609.5,396.5 Q627.6,422.8 609.5,449.0" stroke="#dc5d4a" stroke-width="0.51" opacity="0.70"/>
<path d="M609.5,288.1 Q627.6,314.4 609.5,340.6" stroke="#f5a98a" stroke-width="0.42" opacity="0.50"/>
<line x1="540.8" y1="373" x2="540.8" y2="474" stroke="#888" stroke-width="0.6" stroke-dasharray="1.2,1.4"/>
<path d="M540.8,467.7 Q505.8,423.9 540.8,380.1" stroke="#f08a6c" stroke-width="1.00" opacity="1.00"/>
<path d="M539.68,381.51 L538.91,384.22 L537.19,382.85 Z" fill="#f08a6c" opacity="1.00"/>
<path d="M540.8,446.3 Q514.3,413.2 540.8,380.1" stroke="#6788ee" stroke-width="0.60" opacity="0.80"/>
<path d="M539.68,381.51 L538.91,384.22 L537.19,382.85 Z" fill="#6788ee" opacity="0.80"/>
<path d="M540.8,434.0 Q521.6,410.1 540.8,386.1" stroke="#9abbff" stroke-width="0.50" opacity="0.70"/>
<path d="M540.8,428.0 Q528.8,412.9 540.8,397.9" stroke="#3b4cc0" stroke-width="1.00" opacity="1.00"/>
<path d="M539.68,399.31 L538.91,402.02 L537.19,400.65 Z" fill="#3b4cc0" opacity="1.00"/>
<path d="M540.8,416.2 Q531.2,404.1 540.8,392.1" stroke="#3b4cc0" stroke-width="0.90" opacity="1.00"/>
<path d="M539.68,393.51 L538.91,396.22 L537.19,394.85 Z" fill="#3b4cc0" opacity="1.00"/>
<path d="M540.8,410.2 Q535.9,404.0 540.8,397.9" stroke="#4a63d3" stroke-width="0.80" opacity="1.00"/>
<path d="M539.68,399.31 L538.91,402.02 L537.19,400.65 Z" fill="#4a63d3" opacity="1.00"/>
<path d="M540.8,428.0 Q548.1,437.1 540.8,446.3" stroke="#3b4cc0" stroke-width="0.90" opacity="1.00"/>
<path d="M541.92,444.89 L542.69,442.18 L544.41,443.55 Z" fill="#3b4cc0" opacity="1.00"/>
<path d="M540.8,397.9 Q557.6,418.9 540.8,440.0" stroke="#b40426" stroke-width="1.00" opacity="1.00"/>
<path d="M541.92,438.59 L542.69,435.88 L544.41,437.25 Z" fill="#b40426" opacity="1.00"/>
<path d="M540.8,397.9 Q552.8,412.9 540.8,428.0" stroke="#b40426" stroke-width="0.90" opacity="1.00"/>
<path d="M541.92,426.59 L542.69,423.88 L544.41,425.25 Z" fill="#b40426" opacity="1.00"/>
<path d="M540.8,403.9 Q559.7,427.5 540.8,451.2" stroke="#c83a3a" stroke-width="0.70" opacity="1.00"/>
<path d="M541.92,449.79 L542.69,447.08 L544.41,448.45 Z" fill="#c83a3a" opacity="1.00"/>
<path d="M540.8,410.2 Q559.5,433.6 540.8,457.0" stroke="#dc5d4a" stroke-width="0.60" opacity="1.00"/>
<path d="M541.92,455.59 L542.69,452.88 L544.41,454.25 Z" fill="#dc5d4a" opacity="1.00"/>
<path d="M540.8,416.2 Q550.3,428.1 540.8,440.0" stroke="#c83a3a" stroke-width="0.70" opacity="1.00"/>
<path d="M541.92,438.59 L542.69,435.88 L544.41,437.25 Z" fill="#c83a3a" opacity="1.00"/>
<path d="M540.8,422.2 Q557.0,442.5 540.8,462.8" stroke="#f08a6c" stroke-width="0.60" opacity="0.80"/>
<path d="M541.92,461.39 L542.69,458.68 L544.41,460.05 Z" fill="#f08a6c" opacity="0.80"/>
<path d="M540.8,434.0 Q552.3,448.4 540.8,462.8" stroke="#b40426" stroke-width="0.80" opacity="1.00"/>
<path d="M541.92,461.39 L542.69,458.68 L544.41,460.05 Z" fill="#b40426" opacity="1.00"/>
<path d="M540.8,440.0 Q547.6,448.5 540.8,457.0" stroke="#b40426" stroke-width="0.80" opacity="1.00"/>
<path d="M541.92,455.59 L542.69,452.88 L544.41,454.25 Z" fill="#b40426" opacity="1.00"/>
</g>
<circle cx="609.5" cy="20.2" r="1.6" fill="#8fb0e8" stroke="#555" stroke-width="0.6"/>
<circle cx="609.5" cy="26.1" r="1.5" fill="#d07050" stroke="#444" stroke-width="0.5"/>
<circle cx="609.5" cy="32.2" r="2.9" fill="#0a4a1e" stroke="#333" stroke-width="0.6"/>
<circle cx="609.5" cy="41.2" r="1.5" fill="#3040b0" stroke="#444" stroke-width="0.5"/>
<circle cx="609.5" cy="51.4" r="2.9" fill="#0a4a1e" stroke="#333" stroke-width="0.6"/>
<circle cx="609.5" cy="57.7" r="1.6" fill="#f4f4f4" stroke="#555" stroke-width="0.6"/>
<circle cx="609.5" cy="69.7" r="1.6" fill="#8fb0e8" stroke="#555" stroke-width="0.6"/>
<circle cx="609.5" cy="74.0" r="1.5" fill="#c04838" stroke="#444" stroke-width="0.5"/>
<circle cx="609.5" cy="89.4" r="1.6" fill="#7898e0" stroke="#555" stroke-width="0.6"/>
<circle cx="609.5" cy="95.5" r="1.5" fill="#4058c0" stroke="#444" stroke-width="0.5"/>
<circle cx="609.5" cy="102.7" r="1.6" fill="#8fb0e8" stroke="#555" stroke-width="0.6"/>
<circle cx="609.5" cy="108.9" r="2.9" fill="#3a0a4a" stroke="#333" stroke-width="0.6"/>
<circle cx="609.5" cy="117.8" r="1.6" fill="#f0c8c0" stroke="#555" stroke-width="0.6"/>
<circle cx="609.5" cy="130.0" r="2.9" fill="#3a0a4a" stroke="#333" stroke-width="0.6"/>
<circle cx="609.5" cy="137.7" r="1.6" fill="#f0a080" stroke="#555" stroke-width="0.6"/>
<circle cx="609.5" cy="146.4" r="1.6" fill="#7898e0" stroke="#555" stroke-width="0.6"/>
<circle cx="609.5" cy="150.9" r="1.5" fill="#d07050" stroke="#444" stroke-width="0.5"/>
<circle cx="609.5" cy="157.2" r="1.5" fill="#b03030" stroke="#444" stroke-width="0.5"/>
<circle cx="609.5" cy="163.1" r="1.6" fill="#a8c0ec" stroke="#555" stroke-width="0.6"/>
<circle cx="609.5" cy="170.6" r="1.5" fill="#3040b0" stroke="#444" stroke-width="0.5"/>
<circle cx="609.5" cy="181.1" r="1.5" fill="#3040b0" stroke="#444" stroke-width="0.5"/>
<circle cx="609.5" cy="193.1" r="1.5" fill="#3040b0" stroke="#444" stroke-width="0.5"/>
<circle cx="609.5" cy="197.5" r="1.6" fill="#a8c0ec" stroke="#555" stroke-width="0.6"/>
<circle cx="609.5" cy="203.8" r="1.6" fill="#7898e0" stroke="#555" stroke-width="0.6"/>
<circle cx="609.5" cy="209.7" r="1.5" fill="#3040b0" stroke="#444" stroke-width="0.5"/>
<circle cx="609.5" cy="218.9" r="1.6" fill="#f4f4f4" stroke="#555" stroke-width="0.6"/>
<circle cx="609.5" cy="229.0" r="2.9" fill="#0a4a1e" stroke="#333" stroke-width="0.6"/>
<circle cx="609.5" cy="238.1" r="1.5" fill="#5070d0" stroke="#444" stroke-width="0.5"/>
<circle cx="609.5" cy="242.5" r="1.6" fill="#7898e0" stroke="#555" stroke-width="0.6"/>
<circle cx="609.5" cy="247.2" r="1.6" fill="#f4f4f4" stroke="#555" stroke-width="0.6"/>
<circle cx="609.5" cy="259.2" r="1.5" fill="#3040b0" stroke="#444" stroke-width="0.5"/>
<circle cx="609.5" cy="263.9" r="1.5" fill="#3040b0" stroke="#444" stroke-width="0.5"/>
<circle cx="609.5" cy="269.7" r="1.6" fill="#e0e0e0" stroke="#555" stroke-width="0.6"/>
<circle cx="609.5" cy="274.4" r="1.5" fill="#3040b0" stroke="#444" stroke-width="0.5"/>
<circle cx="609.5" cy="281.9" r="1.6" fill="#7898e0" stroke="#555" stroke-width="0.6"/>
<circle cx="609.5" cy="288.1" r="1.5" fill="#c03838" stroke="#444" stroke-width="0.5"/>
<circle cx="609.5" cy="294.1" r="1.5" fill="#c03838" stroke="#444" stroke-width="0.5"/>
<circle cx="609.5" cy="299.4" r="1.6" fill="#e8e8f0" stroke="#555" stroke-width="0.6"/>
<circle cx="609.5" cy="307.2" r="1.5" fill="#c03838" stroke="#444" stroke-width="0.5"/>
<circle cx="609.5" cy="313.4" r="1.5" fill="#5070d0" stroke="#444" stroke-width="0.5"/>
<circle cx="609.5" cy="328.4" r="1.5" fill="#5070d0" stroke="#444" stroke-width="0.5"/>
<circle cx="609.5" cy="333.1" r="1.5" fill="#8a1020" stroke="#444" stroke-width="0.5"/>
<circle cx="609.5" cy="340.6" r="1.6" fill="#7898e0" stroke="#555" stroke-width="0.6"/>
<circle cx="609.5" cy="354.2" r="1.6" fill="#f0b090" stroke="#555" stroke-width="0.6"/>
<circle cx="609.5" cy="358.8" r="1.6" fill="#e0e0e0" stroke="#555" stroke-width="0.6"/>
<circle cx="609.5" cy="369.0" r="2.6" fill="#d8c8e0" stroke="#555" stroke-width="0.7"/>
<circle cx="609.5" cy="375.3" r="1.6" fill="#f0b090" stroke="#555" stroke-width="0.6"/>
<circle cx="609.5" cy="381.4" r="1.5" fill="#8a1020" stroke="#444" stroke-width="0.5"/>
<circle cx="609.5" cy="389.5" r="2.9" fill="#3a0a4a" stroke="#333" stroke-width="0.6"/>
<circle cx="609.5" cy="396.5" r="1.5" fill="#8a1020" stroke="#444" stroke-width="0.5"/>
<circle cx="609.5" cy="405.0" r="2.9" fill="#3a0a4a" stroke="#333" stroke-width="0.6"/>
<circle cx="609.5" cy="411.5" r="1.6" fill="#f0a080" stroke="#555" stroke-width="0.6"/>
<circle cx="609.5" cy="415.6" r="1.6" fill="#e0e0e0" stroke="#555" stroke-width="0.6"/>
<circle cx="609.5" cy="420.2" r="1.5" fill="#e08060" stroke="#444" stroke-width="0.5"/>
<circle cx="609.5" cy="424.5" r="1.6" fill="#f0c0a0" stroke="#555" stroke-width="0.6"/>
<circle cx="609.5" cy="430.5" r="2.6" fill="#d8c8e0" stroke="#555" stroke-width="0.7"/>
<circle cx="609.5" cy="442.9" r="1.5" fill="#8a1020" stroke="#444" stroke-width="0.5"/>
<circle cx="609.5" cy="449.0" r="2.9" fill="#6a3a7a" stroke="#333" stroke-width="0.6"/>
<circle cx="609.5" cy="455.1" r="1.5" fill="#e08060" stroke="#444" stroke-width="0.5"/>
<circle cx="609.5" cy="462.6" r="2.9" fill="#6a3a7a" stroke="#333" stroke-width="0.6"/>
<circle cx="609.5" cy="468.5" r="1.6" fill="#7898e0" stroke="#555" stroke-width="0.6"/>
<circle cx="609.5" cy="474.4" r="1.6" fill="#7898e0" stroke="#555" stroke-width="0.6"/>
<circle cx="540.8" cy="375.4" r="1.5" fill="#c86040" stroke="#444" stroke-width="0.5"/>
<circle cx="540.8" cy="380.1" r="1.5" fill="#7898e0" stroke="#444" stroke-width="0.5"/>
<circle cx="540.8" cy="386.1" r="2.6" fill="#d8c8e0" stroke="#555" stroke-width="0.7"/>
<circle cx="540.8" cy="392.1" r="1.5" fill="#8fb0e8" stroke="#444" stroke-width="0.5"/>
<circle cx="540.8" cy="397.9" r="2.9" fill="#0a4a1e" stroke="#333" stroke-width="0.6"/>
<circle cx="540.8" cy="403.9" r="1.6" fill="#f0c0a0" stroke="#555" stroke-width="0.6"/>
<circle cx="540.8" cy="410.2" r="2.9" fill="#3a0a4a" stroke="#333" stroke-width="0.6"/>
<circle cx="540.8" cy="416.2" r="1.6" fill="#f0c0a0" stroke="#555" stroke-width="0.6"/>
<circle cx="540.8" cy="422.2" r="1.5" fill="#c86040" stroke="#444" stroke-width="0.5"/>
<circle cx="540.8" cy="428.0" r="2.9" fill="#3a0a4a" stroke="#333" stroke-width="0.6"/>
<circle cx="540.8" cy="434.0" r="1.6" fill="#f0c0a0" stroke="#555" stroke-width="0.6"/>
<circle cx="540.8" cy="440.0" r="2.9" fill="#3a0a4a" stroke="#333" stroke-width="0.6"/>
<circle cx="540.8" cy="446.3" r="1.5" fill="#5070d0" stroke="#444" stroke-width="0.5"/>
<circle cx="540.8" cy="451.2" r="1.6" fill="#f0c0a0" stroke="#555" stroke-width="0.6"/>
<circle cx="540.8" cy="457.0" r="2.6" fill="#d8c8e0" stroke="#555" stroke-width="0.7"/>
<circle cx="540.8" cy="462.8" r="1.6" fill="#f0c0a0" stroke="#555" stroke-width="0.6"/>
<circle cx="540.8" cy="467.7" r="1.5" fill="#c04838" stroke="#444" stroke-width="0.5"/>
<circle cx="540.8" cy="473.5" r="2.6" fill="#d8c8e0" stroke="#555" stroke-width="0.7"/>
<text x="567.20" y="496.30" font-size="10.60" fill="#222" text-anchor="end" textLength="52.60" lengthAdjust="spacingAndGlyphs">Symbiont</text>
<text x="568.00" y="508.40" font-size="10.60" fill="#222" text-anchor="end" textLength="75.20" lengthAdjust="spacingAndGlyphs">(<tspan font-style="italic">L</tspan>=19, <tspan font-style="italic">R</tspan>=18)</text>
<text x="597.00" y="496.30" font-size="10.60" fill="#222" textLength="24.60" lengthAdjust="spacingAndGlyphs">Host</text>
<text x="597.40" y="508.40" font-size="10.60" fill="#222" textLength="81.80" lengthAdjust="spacingAndGlyphs">(<tspan font-style="italic">L</tspan>=161, <tspan font-style="italic">R</tspan>=62)</text>
</svg></body></html>
